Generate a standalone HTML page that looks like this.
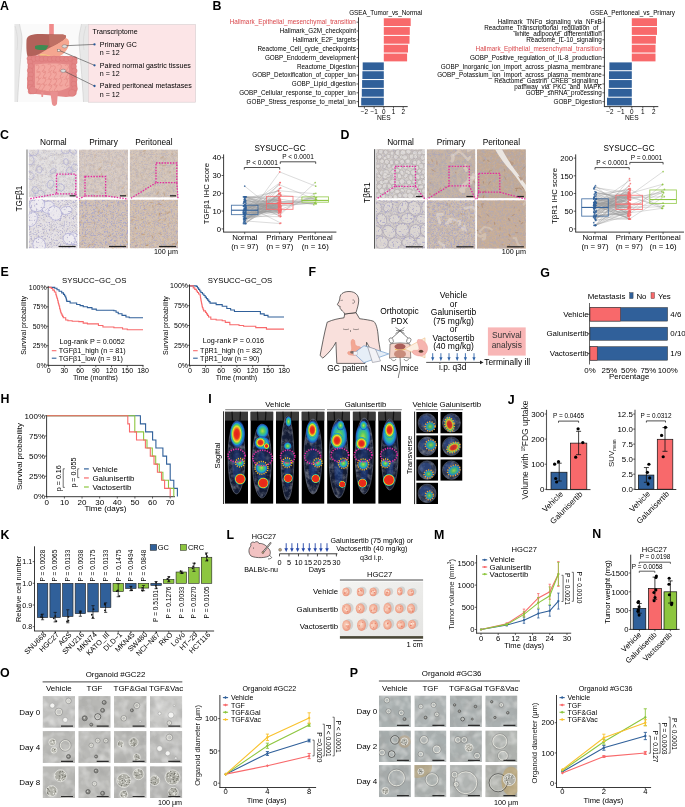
<!DOCTYPE html><html><head><meta charset="utf-8"><style>html,body{margin:0;padding:0;background:#fff;width:685px;height:807px;overflow:hidden}svg{display:block;font-family:"Liberation Sans",sans-serif;filter:blur(0.3px)}</style></head><body><svg width="685" height="807" viewBox="0 0 685 807" font-family="Liberation Sans, sans-serif"><defs>
<filter id="noise" x="0" y="0" width="1" height="1"><feTurbulence type="fractalNoise" baseFrequency="0.6" numOctaves="2" seed="3"/><feColorMatrix type="matrix" values="0 0 0 0 0.45  0 0 0 0 0.4  0 0 0 0 0.5  0 0 0 0.55 0"/><feComposite in2="SourceGraphic" operator="in"/></filter>
<filter id="spkP" x="0" y="0" width="1" height="1"><feTurbulence type="fractalNoise" baseFrequency="0.9" numOctaves="1" seed="11"/><feColorMatrix type="matrix" values="0 0 0 0 0.36  0 0 0 0 0.36  0 0 0 0 0.58  7 0 0 0 -3.9"/><feComposite in2="SourceGraphic" operator="in"/></filter>
<filter id="spkB" x="0" y="0" width="1" height="1"><feTurbulence type="fractalNoise" baseFrequency="0.45" numOctaves="2" seed="4"/><feColorMatrix type="matrix" values="0 0 0 0 0.62  0 0 0 0 0.45  0 0 0 0 0.32  0 5 0 0 -2.4"/><feComposite in2="SourceGraphic" operator="in"/></filter>
<filter id="spkG" x="0" y="0" width="1" height="1"><feTurbulence type="fractalNoise" baseFrequency="0.28" numOctaves="3" seed="8"/><feColorMatrix type="matrix" values="0 0 0 0 0.45  0 0 0 0 0.4  0 0 0 0 0.42  0 0 3.5 0 -1.5"/><feComposite in2="SourceGraphic" operator="in"/></filter>
<filter id="mot" x="0" y="0" width="1" height="1"><feTurbulence type="fractalNoise" baseFrequency="0.16" numOctaves="3" seed="2"/><feColorMatrix type="matrix" values="0 0 0 0 0.3  0 0 0 0 0.3  0 0 0 0 0.3  2.4 0 0 0 -1.0"/><feComposite in2="SourceGraphic" operator="in"/></filter>
<filter id="motL" x="0" y="0" width="1" height="1"><feTurbulence type="fractalNoise" baseFrequency="0.2" numOctaves="3" seed="9"/><feColorMatrix type="matrix" values="0 0 0 0 1  0 0 0 0 1  0 0 0 0 1  0 2.4 0 0 -1.0"/><feComposite in2="SourceGraphic" operator="in"/></filter>
<filter id="grain" x="0" y="0" width="1" height="1"><feTurbulence type="fractalNoise" baseFrequency="0.8" numOctaves="1" seed="5"/><feColorMatrix type="matrix" values="0 0 0 0 0.2  0 0 0 0 0.2  0 0 0 0 0.2  0 0 4 0 -1.8"/><feComposite in2="SourceGraphic" operator="in"/></filter>
<filter id="nuc" x="0" y="0" width="1" height="1"><feTurbulence type="fractalNoise" baseFrequency="0.55" numOctaves="1" seed="21"/><feColorMatrix type="matrix" values="0 0 0 0 0.4  0 0 0 0 0.38  0 0 0 0 0.6  9 0 0 0 -5.3"/><feComposite in2="SourceGraphic" operator="in"/></filter>
<filter id="motS" x="0" y="0" width="1" height="1"><feTurbulence type="fractalNoise" baseFrequency="0.09" numOctaves="2" seed="12"/><feColorMatrix type="matrix" values="0 0 0 0 0.35  0 0 0 0 0.35  0 0 0 0 0.34  2.6 0 0 0 -1.1"/><feComposite in2="SourceGraphic" operator="in"/></filter>
<filter id="motSL" x="0" y="0" width="1" height="1"><feTurbulence type="fractalNoise" baseFrequency="0.11" numOctaves="2" seed="17"/><feColorMatrix type="matrix" values="0 0 0 0 0.95  0 0 0 0 0.95  0 0 0 0 0.94  0 2.6 0 0 -1.1"/><feComposite in2="SourceGraphic" operator="in"/></filter>
<radialGradient id="gRed"><stop offset="0" stop-color="#ff2a10"/><stop offset="0.55" stop-color="#f23a1a"/><stop offset="0.8" stop-color="#f5d020"/><stop offset="1" stop-color="#30c060" stop-opacity="0"/></radialGradient>
<radialGradient id="gHot"><stop offset="0" stop-color="#e0201a"/><stop offset="0.38" stop-color="#e8301c"/><stop offset="0.52" stop-color="#f08a20"/><stop offset="0.64" stop-color="#e8e030"/><stop offset="0.78" stop-color="#50c860"/><stop offset="0.9" stop-color="#20a0d0"/><stop offset="1" stop-color="#2040b0" stop-opacity="0"/></radialGradient>
<radialGradient id="gGreen"><stop offset="0" stop-color="#b8e040"/><stop offset="0.35" stop-color="#50c868"/><stop offset="0.65" stop-color="#20a8c8"/><stop offset="0.85" stop-color="#2060c0"/><stop offset="1" stop-color="#1840a0" stop-opacity="0"/></radialGradient>
<radialGradient id="gBlue"><stop offset="0" stop-color="#3070d0"/><stop offset="0.7" stop-color="#1c3c90"/><stop offset="1" stop-color="#101840" stop-opacity="0"/></radialGradient>
<radialGradient id="gHead"><stop offset="0" stop-color="#e0261a"/><stop offset="0.5" stop-color="#ea3a1c"/><stop offset="0.68" stop-color="#f2b020"/><stop offset="0.8" stop-color="#a8e040"/><stop offset="0.9" stop-color="#20b0c0"/><stop offset="1" stop-color="#2040b0" stop-opacity="0"/></radialGradient>
<radialGradient id="gBlad"><stop offset="0" stop-color="#e8261a"/><stop offset="0.68" stop-color="#e8301a"/><stop offset="0.78" stop-color="#e8c020"/><stop offset="0.86" stop-color="#40c090"/><stop offset="1" stop-color="#2050b0" stop-opacity="0"/></radialGradient>
<radialGradient id="gTum" cx="0.45" cy="0.45"><stop offset="0" stop-color="#fad8c6"/><stop offset="0.55" stop-color="#f5bba4"/><stop offset="1" stop-color="#eb9a82"/></radialGradient>
<linearGradient id="gPhoto" x1="0" y1="0" x2="1" y2="1"><stop offset="0" stop-color="#f4f4f2"/><stop offset="1" stop-color="#e4e4e2"/></linearGradient>
<clipPath id="c1"><rect x="28.70" y="149.40" width="48.90" height="48.20"/></clipPath><clipPath id="c2"><rect x="79.00" y="149.40" width="49.00" height="48.20"/></clipPath><clipPath id="c3"><rect x="129.70" y="149.40" width="48.30" height="48.20"/></clipPath><clipPath id="c4"><rect x="28.70" y="199.60" width="48.90" height="48.80"/></clipPath><clipPath id="c5"><rect x="79.00" y="199.60" width="49.00" height="48.80"/></clipPath><clipPath id="c6"><rect x="129.70" y="199.60" width="48.30" height="48.80"/></clipPath><clipPath id="c7"><rect x="376.00" y="149.20" width="48.90" height="49.10"/></clipPath><clipPath id="c8"><rect x="426.80" y="149.20" width="48.60" height="49.10"/></clipPath><clipPath id="c9"><rect x="476.80" y="149.20" width="49.10" height="49.10"/></clipPath><clipPath id="c10"><rect x="376.00" y="200.20" width="48.90" height="48.50"/></clipPath><clipPath id="c11"><rect x="426.80" y="200.20" width="48.60" height="48.50"/></clipPath><clipPath id="c12"><rect x="476.80" y="200.20" width="49.10" height="48.50"/></clipPath><clipPath id="c13"><rect x="426.80" y="149.20" width="48.60" height="49.10"/></clipPath><clipPath id="c14"><rect x="426.80" y="200.20" width="48.60" height="48.50"/></clipPath><clipPath id="c15"><rect x="476.80" y="200.20" width="49.10" height="48.50"/></clipPath><clipPath id="c16"><rect x="225.00" y="411.60" width="23.00" height="92.20"/></clipPath><clipPath id="c17"><rect x="250.40" y="411.60" width="23.00" height="92.20"/></clipPath><clipPath id="c18"><rect x="275.90" y="411.60" width="23.00" height="92.20"/></clipPath><clipPath id="c19"><rect x="301.50" y="411.60" width="23.00" height="92.20"/></clipPath><clipPath id="c20"><rect x="327.10" y="411.60" width="23.00" height="92.20"/></clipPath><clipPath id="c21"><rect x="352.70" y="411.60" width="23.00" height="92.20"/></clipPath><clipPath id="c22"><rect x="378.20" y="411.60" width="23.00" height="92.20"/></clipPath><clipPath id="c23"><rect x="416.20" y="411.90" width="21.80" height="21.70"/></clipPath><clipPath id="c24"><rect x="416.20" y="435.20" width="21.80" height="22.20"/></clipPath><clipPath id="c25"><rect x="416.20" y="459.30" width="21.80" height="21.50"/></clipPath><clipPath id="c26"><rect x="416.20" y="482.60" width="21.80" height="21.50"/></clipPath><clipPath id="c27"><rect x="440.30" y="411.90" width="22.20" height="21.70"/></clipPath><clipPath id="c28"><rect x="440.30" y="435.20" width="22.20" height="22.20"/></clipPath><clipPath id="c29"><rect x="440.30" y="459.30" width="22.20" height="21.50"/></clipPath><clipPath id="c30"><rect x="42.60" y="696.10" width="32.40" height="31.70"/></clipPath><clipPath id="c31"><rect x="78.30" y="696.10" width="32.40" height="31.70"/></clipPath><clipPath id="c32"><rect x="114.00" y="696.10" width="32.60" height="31.70"/></clipPath><clipPath id="c33"><rect x="149.90" y="696.10" width="32.40" height="31.70"/></clipPath><clipPath id="c34"><rect x="42.60" y="731.10" width="32.40" height="31.80"/></clipPath><clipPath id="c35"><rect x="78.30" y="731.10" width="32.40" height="31.80"/></clipPath><clipPath id="c36"><rect x="114.00" y="731.10" width="32.60" height="31.80"/></clipPath><clipPath id="c37"><rect x="149.90" y="731.10" width="32.40" height="31.80"/></clipPath><clipPath id="c38"><rect x="42.60" y="766.20" width="32.40" height="31.90"/></clipPath><clipPath id="c39"><rect x="78.30" y="766.20" width="32.40" height="31.90"/></clipPath><clipPath id="c40"><rect x="114.00" y="766.20" width="32.60" height="31.90"/></clipPath><clipPath id="c41"><rect x="149.90" y="766.20" width="32.40" height="31.90"/></clipPath><clipPath id="c42"><rect x="378.90" y="695.50" width="32.00" height="31.50"/></clipPath><clipPath id="c43"><rect x="414.40" y="695.50" width="32.00" height="31.50"/></clipPath><clipPath id="c44"><rect x="449.80" y="695.50" width="32.10" height="31.50"/></clipPath><clipPath id="c45"><rect x="485.30" y="695.50" width="32.10" height="31.50"/></clipPath><clipPath id="c46"><rect x="378.90" y="730.40" width="32.00" height="31.60"/></clipPath><clipPath id="c47"><rect x="414.40" y="730.40" width="32.00" height="31.60"/></clipPath><clipPath id="c48"><rect x="449.80" y="730.40" width="32.10" height="31.60"/></clipPath><clipPath id="c49"><rect x="485.30" y="730.40" width="32.10" height="31.60"/></clipPath><clipPath id="c50"><rect x="378.90" y="765.10" width="32.00" height="32.10"/></clipPath><clipPath id="c51"><rect x="414.40" y="765.10" width="32.00" height="32.10"/></clipPath><clipPath id="c52"><rect x="449.80" y="765.10" width="32.10" height="32.10"/></clipPath><clipPath id="c53"><rect x="485.30" y="765.10" width="32.10" height="32.10"/></clipPath></defs><text x="0.00" y="9.80" font-size="12.4" fill="#000" font-weight="bold">A</text>
<path d="M14.5,24 L88,24 L88,102 L14.5,102 Z" fill="#fafafa"/>
<path d="M14.5,24 L19.5,24 C20.5,30 22.5,35 22,42 C21,55 19,75 17.5,102 L14.5,102 Z" fill="#e8e8e8"/>
<path d="M19.5,24 C20.5,30 22.5,35 22,42 C21,55 19,75 17.5,102" fill="none" stroke="#c4c4c4" stroke-width="0.5"/>
<path d="M15,26 C17,33 18.5,40 17,50" fill="none" stroke="#d0d0d0" stroke-width="0.5"/>
<path d="M88,24 L81.5,24 C80.5,30 78.5,35 79,42 C80,55 82,75 83.5,102 L88,102 Z" fill="#e8e8e8"/>
<path d="M81.5,24 C80.5,30 78.5,35 79,42 C80,55 82,75 83.5,102" fill="none" stroke="#c4c4c4" stroke-width="0.5"/>
<path d="M86,26 C84,33 82.5,40 84,50" fill="none" stroke="#d0d0d0" stroke-width="0.5"/>
<rect x="49.20" y="24.00" width="4.60" height="12.00" fill="#f08a8a"/>
<path d="M45,46 C52,44 58,41 62,38 C66,37 70,39 69,44 C68,50 63,56 55,58 C48,59.5 42,59 38,57 C37,53 40,49 45,46 Z" fill="#f5a690"/>
<path d="M26.5,40 C27,35 33,33.8 42,34 L60,34.5 C64,34.5 66.5,35 66,37 C64,40 59,43 52,46.5 C46,50 38,55 30,59 C27,58 26,52 26.5,40 Z" fill="#b2625a"/>
<path d="M49,35 L60,34.5 C64,34.5 66.5,35 66,37 C64,40 59,43 52,46.5 L49.5,46 Z" fill="#bf7064"/>
<path d="M35,46 C38,44.6 44,44.8 48.5,45.5 L46,49.8 C42,50.2 37,50 35,48.5 Z" fill="#3d8c52"/>
<path d="M40,54.5 C44,53.8 49,54.5 52,57 L50,59.5 C46,59.5 42,58.5 40,56.5 Z" fill="#f7d27c"/>
<path d="M28,58 C30,55 40,55.5 50,56 C60,56.5 72,55 75.5,58 L77.5,90 C76,94 72,97 66,97 L36,94 C30,94 27.5,91 27,86 Z" fill="#e38686"/>
<circle cx="29.50" cy="58.60" r="2.60" fill="#e38686" stroke="#d57272" stroke-width="0.35"/>
<circle cx="33.60" cy="59.20" r="2.60" fill="#e38686" stroke="#d57272" stroke-width="0.35"/>
<circle cx="37.70" cy="58.60" r="2.60" fill="#e38686" stroke="#d57272" stroke-width="0.35"/>
<circle cx="41.80" cy="59.20" r="2.60" fill="#e38686" stroke="#d57272" stroke-width="0.35"/>
<circle cx="45.90" cy="58.60" r="2.60" fill="#e38686" stroke="#d57272" stroke-width="0.35"/>
<circle cx="50.00" cy="59.20" r="2.60" fill="#e38686" stroke="#d57272" stroke-width="0.35"/>
<circle cx="54.10" cy="58.60" r="2.60" fill="#e38686" stroke="#d57272" stroke-width="0.35"/>
<circle cx="58.20" cy="59.20" r="2.60" fill="#e38686" stroke="#d57272" stroke-width="0.35"/>
<circle cx="62.30" cy="58.60" r="2.60" fill="#e38686" stroke="#d57272" stroke-width="0.35"/>
<circle cx="66.40" cy="59.20" r="2.60" fill="#e38686" stroke="#d57272" stroke-width="0.35"/>
<circle cx="70.50" cy="58.60" r="2.60" fill="#e38686" stroke="#d57272" stroke-width="0.35"/>
<circle cx="74.60" cy="59.20" r="2.60" fill="#e38686" stroke="#d57272" stroke-width="0.35"/>
<circle cx="30.00" cy="62.00" r="2.70" fill="#e38686" stroke="#d57272" stroke-width="0.35"/>
<circle cx="74.50" cy="62.00" r="2.70" fill="#e38686" stroke="#d57272" stroke-width="0.35"/>
<circle cx="30.80" cy="66.20" r="2.70" fill="#e38686" stroke="#d57272" stroke-width="0.35"/>
<circle cx="73.70" cy="66.40" r="2.70" fill="#e38686" stroke="#d57272" stroke-width="0.35"/>
<circle cx="30.00" cy="70.40" r="2.70" fill="#e38686" stroke="#d57272" stroke-width="0.35"/>
<circle cx="74.50" cy="70.80" r="2.70" fill="#e38686" stroke="#d57272" stroke-width="0.35"/>
<circle cx="30.80" cy="74.60" r="2.70" fill="#e38686" stroke="#d57272" stroke-width="0.35"/>
<circle cx="73.70" cy="75.20" r="2.70" fill="#e38686" stroke="#d57272" stroke-width="0.35"/>
<circle cx="30.00" cy="78.80" r="2.70" fill="#e38686" stroke="#d57272" stroke-width="0.35"/>
<circle cx="74.50" cy="79.60" r="2.70" fill="#e38686" stroke="#d57272" stroke-width="0.35"/>
<circle cx="30.80" cy="83.00" r="2.70" fill="#e38686" stroke="#d57272" stroke-width="0.35"/>
<circle cx="73.70" cy="84.00" r="2.70" fill="#e38686" stroke="#d57272" stroke-width="0.35"/>
<circle cx="30.00" cy="87.20" r="2.70" fill="#e38686" stroke="#d57272" stroke-width="0.35"/>
<circle cx="74.50" cy="88.40" r="2.70" fill="#e38686" stroke="#d57272" stroke-width="0.35"/>
<circle cx="30.80" cy="91.40" r="2.70" fill="#e38686" stroke="#d57272" stroke-width="0.35"/>
<circle cx="73.70" cy="92.80" r="2.70" fill="#e38686" stroke="#d57272" stroke-width="0.35"/>
<circle cx="33.00" cy="90.00" r="4.00" fill="#e38686" stroke="#d57272" stroke-width="0.35"/>
<circle cx="72.00" cy="93.00" r="3.50" fill="#e38686" stroke="#d57272" stroke-width="0.35"/>
<path d="M35,64.5 C45,63 58,63 69,64.5 L69.5,87 C62,92 46,93 35,88 Z" fill="#f3a7a0"/>
<path d="M35.5,66.1 c1.5,-2 3.5,-1 3.5,1 c0,2 -2.5,2.5 -2,4.5 c0.5,1.5 2.5,1 3,-0.5" fill="none" stroke="#e48c86" stroke-width="0.8"/>
<path d="M41.3,66.2 c1.5,-2 3.5,-1 3.5,1 c0,2 -2.5,2.5 -2,4.5 c0.5,1.5 2.5,1 3,-0.5" fill="none" stroke="#e48c86" stroke-width="0.8"/>
<path d="M47.5,65.1 c1.5,-2 3.5,-1 3.5,1 c0,2 -2.5,2.5 -2,4.5 c0.5,1.5 2.5,1 3,-0.5" fill="none" stroke="#e48c86" stroke-width="0.8"/>
<path d="M51.8,66.7 c1.5,-2 3.5,-1 3.5,1 c0,2 -2.5,2.5 -2,4.5 c0.5,1.5 2.5,1 3,-0.5" fill="none" stroke="#e48c86" stroke-width="0.8"/>
<path d="M57.9,65.5 c1.5,-2 3.5,-1 3.5,1 c0,2 -2.5,2.5 -2,4.5 c0.5,1.5 2.5,1 3,-0.5" fill="none" stroke="#e48c86" stroke-width="0.8"/>
<path d="M65.0,65.9 c1.5,-2 3.5,-1 3.5,1 c0,2 -2.5,2.5 -2,4.5 c0.5,1.5 2.5,1 3,-0.5" fill="none" stroke="#e48c86" stroke-width="0.8"/>
<path d="M36.7,72.5 c1.5,-2 3.5,-1 3.5,1 c0,2 -2.5,2.5 -2,4.5 c0.5,1.5 2.5,1 3,-0.5" fill="none" stroke="#e48c86" stroke-width="0.8"/>
<path d="M41.9,71.8 c1.5,-2 3.5,-1 3.5,1 c0,2 -2.5,2.5 -2,4.5 c0.5,1.5 2.5,1 3,-0.5" fill="none" stroke="#e48c86" stroke-width="0.8"/>
<path d="M47.5,73.2 c1.5,-2 3.5,-1 3.5,1 c0,2 -2.5,2.5 -2,4.5 c0.5,1.5 2.5,1 3,-0.5" fill="none" stroke="#e48c86" stroke-width="0.8"/>
<path d="M52.8,73.0 c1.5,-2 3.5,-1 3.5,1 c0,2 -2.5,2.5 -2,4.5 c0.5,1.5 2.5,1 3,-0.5" fill="none" stroke="#e48c86" stroke-width="0.8"/>
<path d="M58.7,71.6 c1.5,-2 3.5,-1 3.5,1 c0,2 -2.5,2.5 -2,4.5 c0.5,1.5 2.5,1 3,-0.5" fill="none" stroke="#e48c86" stroke-width="0.8"/>
<path d="M64.5,72.7 c1.5,-2 3.5,-1 3.5,1 c0,2 -2.5,2.5 -2,4.5 c0.5,1.5 2.5,1 3,-0.5" fill="none" stroke="#e48c86" stroke-width="0.8"/>
<path d="M35.6,78.1 c1.5,-2 3.5,-1 3.5,1 c0,2 -2.5,2.5 -2,4.5 c0.5,1.5 2.5,1 3,-0.5" fill="none" stroke="#e48c86" stroke-width="0.8"/>
<path d="M42.3,78.9 c1.5,-2 3.5,-1 3.5,1 c0,2 -2.5,2.5 -2,4.5 c0.5,1.5 2.5,1 3,-0.5" fill="none" stroke="#e48c86" stroke-width="0.8"/>
<path d="M47.6,79.8 c1.5,-2 3.5,-1 3.5,1 c0,2 -2.5,2.5 -2,4.5 c0.5,1.5 2.5,1 3,-0.5" fill="none" stroke="#e48c86" stroke-width="0.8"/>
<path d="M53.2,79.8 c1.5,-2 3.5,-1 3.5,1 c0,2 -2.5,2.5 -2,4.5 c0.5,1.5 2.5,1 3,-0.5" fill="none" stroke="#e48c86" stroke-width="0.8"/>
<path d="M58.2,79.6 c1.5,-2 3.5,-1 3.5,1 c0,2 -2.5,2.5 -2,4.5 c0.5,1.5 2.5,1 3,-0.5" fill="none" stroke="#e48c86" stroke-width="0.8"/>
<path d="M63.9,79.9 c1.5,-2 3.5,-1 3.5,1 c0,2 -2.5,2.5 -2,4.5 c0.5,1.5 2.5,1 3,-0.5" fill="none" stroke="#e48c86" stroke-width="0.8"/>
<path d="M36.8,84.7 c1.5,-2 3.5,-1 3.5,1 c0,2 -2.5,2.5 -2,4.5 c0.5,1.5 2.5,1 3,-0.5" fill="none" stroke="#e48c86" stroke-width="0.8"/>
<path d="M40.9,84.9 c1.5,-2 3.5,-1 3.5,1 c0,2 -2.5,2.5 -2,4.5 c0.5,1.5 2.5,1 3,-0.5" fill="none" stroke="#e48c86" stroke-width="0.8"/>
<path d="M48.1,85.4 c1.5,-2 3.5,-1 3.5,1 c0,2 -2.5,2.5 -2,4.5 c0.5,1.5 2.5,1 3,-0.5" fill="none" stroke="#e48c86" stroke-width="0.8"/>
<path d="M53.1,85.1 c1.5,-2 3.5,-1 3.5,1 c0,2 -2.5,2.5 -2,4.5 c0.5,1.5 2.5,1 3,-0.5" fill="none" stroke="#e48c86" stroke-width="0.8"/>
<path d="M50.3,92 L57.9,92 L57,104 C55.5,106.5 53,106.5 52,104 Z" fill="#e99090"/>
<path d="M41,92 L43.5,92 L43,97 L41.5,97 Z" fill="#e99090"/>
<rect x="88.40" y="24.50" width="107.20" height="77.70" fill="#fce5e7" stroke="#d6cdcf" stroke-width="0.6"/>
<line x1="66.00" y1="45.70" x2="94.50" y2="44.40" stroke="#444" stroke-width="0.6"/>
<line x1="59.00" y1="50.30" x2="94.50" y2="65.30" stroke="#444" stroke-width="0.6"/>
<line x1="64.00" y1="71.00" x2="94.50" y2="86.00" stroke="#444" stroke-width="0.6"/>
<circle cx="94.50" cy="44.40" r="1.15" fill="#2a5a9a"/>
<circle cx="94.50" cy="65.30" r="1.15" fill="#2a5a9a"/>
<circle cx="94.50" cy="86.00" r="1.15" fill="#2a5a9a"/>
<ellipse cx="64.6" cy="46.3" rx="2.6" ry="1.6" fill="#ddd" stroke="#666" stroke-width="0.4"/>
<rect x="57.70" y="49.20" width="2.30" height="2.10" fill="#eee" stroke="#666" stroke-width="0.4"/>
<ellipse cx="63.2" cy="70.8" rx="2.6" ry="1.6" fill="#ddd" stroke="#666" stroke-width="0.4"/>
<text x="92.60" y="34.30" font-size="7.1">Transcriptome</text>
<text x="99.80" y="46.90" font-size="7.1">Primary GC</text>
<text x="99.80" y="55.30" font-size="7.1">n = 12</text>
<text x="99.80" y="67.60" font-size="7.1">Paired normal gastric tissues</text>
<text x="99.80" y="76.00" font-size="7.1">n = 12</text>
<text x="99.80" y="88.30" font-size="7.1">Paired peritoneal metastases</text>
<text x="99.80" y="96.70" font-size="7.1">n = 12</text>
<text x="212.60" y="9.80" font-size="12.4" fill="#000" font-weight="bold">B</text>
<rect x="383.80" y="18.25" width="26.90" height="7.80" fill="#f8696b"/>
<rect x="383.80" y="27.08" width="26.00" height="7.80" fill="#f8696b"/>
<rect x="383.80" y="35.91" width="25.70" height="7.80" fill="#f8696b"/>
<rect x="383.80" y="44.74" width="24.20" height="7.80" fill="#f8696b"/>
<rect x="383.80" y="53.57" width="23.30" height="7.80" fill="#f8696b"/>
<rect x="362.70" y="62.40" width="21.10" height="7.80" fill="#30609a"/>
<rect x="362.40" y="71.23" width="21.40" height="7.80" fill="#30609a"/>
<rect x="362.10" y="80.06" width="21.70" height="7.80" fill="#30609a"/>
<rect x="361.80" y="88.89" width="22.00" height="7.80" fill="#30609a"/>
<rect x="361.20" y="97.72" width="22.60" height="7.80" fill="#30609a"/>
<line x1="358.50" y1="17.30" x2="358.50" y2="106.60" stroke="#222" stroke-width="0.9"/>
<line x1="358.05" y1="106.60" x2="407.70" y2="106.60" stroke="#222" stroke-width="0.9"/>
<line x1="356.50" y1="22.15" x2="358.50" y2="22.15" stroke="#222" stroke-width="0.7"/>
<line x1="356.50" y1="30.98" x2="358.50" y2="30.98" stroke="#222" stroke-width="0.7"/>
<line x1="356.50" y1="39.81" x2="358.50" y2="39.81" stroke="#222" stroke-width="0.7"/>
<line x1="356.50" y1="48.64" x2="358.50" y2="48.64" stroke="#222" stroke-width="0.7"/>
<line x1="356.50" y1="57.47" x2="358.50" y2="57.47" stroke="#222" stroke-width="0.7"/>
<line x1="356.50" y1="66.30" x2="358.50" y2="66.30" stroke="#222" stroke-width="0.7"/>
<line x1="356.50" y1="75.13" x2="358.50" y2="75.13" stroke="#222" stroke-width="0.7"/>
<line x1="356.50" y1="83.96" x2="358.50" y2="83.96" stroke="#222" stroke-width="0.7"/>
<line x1="356.50" y1="92.79" x2="358.50" y2="92.79" stroke="#222" stroke-width="0.7"/>
<line x1="356.50" y1="101.62" x2="358.50" y2="101.62" stroke="#222" stroke-width="0.7"/>
<line x1="364.40" y1="106.60" x2="364.40" y2="108.60" stroke="#222" stroke-width="0.7"/>
<text x="364.40" y="114.30" font-size="6.35" text-anchor="middle">−2</text>
<line x1="374.10" y1="106.60" x2="374.10" y2="108.60" stroke="#222" stroke-width="0.7"/>
<text x="374.10" y="114.30" font-size="6.35" text-anchor="middle">−1</text>
<line x1="383.80" y1="106.60" x2="383.80" y2="108.60" stroke="#222" stroke-width="0.7"/>
<text x="383.80" y="114.30" font-size="6.35" text-anchor="middle">0</text>
<line x1="393.50" y1="106.60" x2="393.50" y2="108.60" stroke="#222" stroke-width="0.7"/>
<text x="393.50" y="114.30" font-size="6.35" text-anchor="middle">1</text>
<line x1="403.20" y1="106.60" x2="403.20" y2="108.60" stroke="#222" stroke-width="0.7"/>
<text x="403.20" y="114.30" font-size="6.35" text-anchor="middle">2</text>
<text x="383.80" y="120.20" font-size="6.6499999999999995" text-anchor="middle">NES</text>
<text x="385.70" y="14.70" font-size="6.35" text-anchor="middle">GSEA_Tumor_vs_Normal</text>
<text x="355.90" y="24.40" font-size="6.35" text-anchor="end" fill="#d9474b">Hallmark_Epithelial_mesenchymal_transition</text>
<text x="355.90" y="33.23" font-size="6.35" text-anchor="end">Hallmark_G2M_checkpoint</text>
<text x="355.90" y="42.06" font-size="6.35" text-anchor="end">Hallmark_E2F_targets</text>
<text x="355.90" y="50.89" font-size="6.35" text-anchor="end">Reactome_Cell_cycle_checkpoints</text>
<text x="355.90" y="59.72" font-size="6.35" text-anchor="end">GOBP_Endoderm_development</text>
<text x="355.90" y="68.55" font-size="6.35" text-anchor="end">Reactome_Digestion</text>
<text x="355.90" y="77.38" font-size="6.35" text-anchor="end">GOBP_Detoxification_of_copper_ion</text>
<text x="355.90" y="86.21" font-size="6.35" text-anchor="end">GOBP_Lipid_digestion</text>
<text x="355.90" y="95.04" font-size="6.35" text-anchor="end">GOBP_Cellular_response_to_copper_ion</text>
<text x="355.90" y="103.87" font-size="6.35" text-anchor="end">GOBP_Stress_response_to_metal_ion</text>
<rect x="631.80" y="18.25" width="25.20" height="7.80" fill="#f8696b"/>
<rect x="631.80" y="27.08" width="25.20" height="7.80" fill="#f8696b"/>
<rect x="631.80" y="35.91" width="24.10" height="7.80" fill="#f8696b"/>
<rect x="631.80" y="44.74" width="23.70" height="7.80" fill="#f8696b"/>
<rect x="631.80" y="53.57" width="23.70" height="7.80" fill="#f8696b"/>
<rect x="609.40" y="62.40" width="22.40" height="7.80" fill="#30609a"/>
<rect x="609.00" y="71.23" width="22.80" height="7.80" fill="#30609a"/>
<rect x="608.90" y="80.06" width="22.90" height="7.80" fill="#30609a"/>
<rect x="608.30" y="88.89" width="23.50" height="7.80" fill="#30609a"/>
<rect x="607.00" y="97.72" width="24.80" height="7.80" fill="#30609a"/>
<line x1="604.40" y1="17.30" x2="604.40" y2="106.60" stroke="#222" stroke-width="0.9"/>
<line x1="603.95" y1="106.60" x2="658.30" y2="106.60" stroke="#222" stroke-width="0.9"/>
<line x1="602.40" y1="22.15" x2="604.40" y2="22.15" stroke="#222" stroke-width="0.7"/>
<line x1="602.40" y1="30.98" x2="604.40" y2="30.98" stroke="#222" stroke-width="0.7"/>
<line x1="602.40" y1="39.81" x2="604.40" y2="39.81" stroke="#222" stroke-width="0.7"/>
<line x1="602.40" y1="48.64" x2="604.40" y2="48.64" stroke="#222" stroke-width="0.7"/>
<line x1="602.40" y1="57.47" x2="604.40" y2="57.47" stroke="#222" stroke-width="0.7"/>
<line x1="602.40" y1="66.30" x2="604.40" y2="66.30" stroke="#222" stroke-width="0.7"/>
<line x1="602.40" y1="75.13" x2="604.40" y2="75.13" stroke="#222" stroke-width="0.7"/>
<line x1="602.40" y1="83.96" x2="604.40" y2="83.96" stroke="#222" stroke-width="0.7"/>
<line x1="602.40" y1="92.79" x2="604.40" y2="92.79" stroke="#222" stroke-width="0.7"/>
<line x1="602.40" y1="101.62" x2="604.40" y2="101.62" stroke="#222" stroke-width="0.7"/>
<line x1="609.80" y1="106.60" x2="609.80" y2="108.60" stroke="#222" stroke-width="0.7"/>
<text x="609.80" y="114.30" font-size="6.35" text-anchor="middle">−2</text>
<line x1="620.80" y1="106.60" x2="620.80" y2="108.60" stroke="#222" stroke-width="0.7"/>
<text x="620.80" y="114.30" font-size="6.35" text-anchor="middle">−1</text>
<line x1="631.80" y1="106.60" x2="631.80" y2="108.60" stroke="#222" stroke-width="0.7"/>
<text x="631.80" y="114.30" font-size="6.35" text-anchor="middle">0</text>
<line x1="642.80" y1="106.60" x2="642.80" y2="108.60" stroke="#222" stroke-width="0.7"/>
<text x="642.80" y="114.30" font-size="6.35" text-anchor="middle">1</text>
<line x1="653.80" y1="106.60" x2="653.80" y2="108.60" stroke="#222" stroke-width="0.7"/>
<text x="653.80" y="114.30" font-size="6.35" text-anchor="middle">2</text>
<text x="631.80" y="120.20" font-size="6.6499999999999995" text-anchor="middle">NES</text>
<text x="675.00" y="14.70" font-size="6.35" text-anchor="end">GSEA_Peritoneal_vs_Primary</text>
<text x="601.80" y="24.40" font-size="6.35" text-anchor="end">Hallmark_TNFα_signaling_via_NFκB</text>
<text x="601.80" y="30.13" font-size="6.35" text-anchor="end">Reactome_Transcriptional_regulation_of_</text>
<text x="601.80" y="35.78" font-size="6.35" text-anchor="end">white_adipocyte_differentiation</text>
<text x="601.80" y="42.06" font-size="6.35" text-anchor="end">Reactome_IL-10_signaling</text>
<text x="601.80" y="50.89" font-size="6.35" text-anchor="end" fill="#d9474b">Hallmark_Epithelial_mesenchymal_transition</text>
<text x="601.80" y="59.72" font-size="6.35" text-anchor="end">GOBP_Positive_regulation_of_IL-8_production</text>
<text x="601.80" y="68.55" font-size="6.35" text-anchor="end">GOBP_Inorganic_ion_import_across_plasma_membrane</text>
<text x="601.80" y="77.38" font-size="6.35" text-anchor="end">GOBP_Potassium_ion_import_across_plasma_membrane</text>
<text x="601.80" y="83.11" font-size="6.35" text-anchor="end">Reactome_Gastrin_CREB_signalling_</text>
<text x="601.80" y="88.76" font-size="6.35" text-anchor="end">pathway_via_PKC_and_MAPK</text>
<text x="601.80" y="95.04" font-size="6.35" text-anchor="end">GOBP_snRNA_processing</text>
<text x="601.80" y="103.87" font-size="6.35" text-anchor="end">GOBP_Digestion</text>
<text x="0.00" y="139.10" font-size="12.4" fill="#000" font-weight="bold">C</text>
<text x="53.30" y="144.70" font-size="8.3" text-anchor="middle">Normal</text>
<text x="103.50" y="144.70" font-size="8.3" text-anchor="middle">Primary</text>
<text x="153.90" y="144.70" font-size="8.3" text-anchor="middle">Peritoneal</text>
<line x1="27.00" y1="149.40" x2="27.00" y2="248.40" stroke="#888" stroke-width="1.2"/>
<text x="21.50" y="198.50" font-size="8.3" text-anchor="middle" transform="rotate(-90 21.50 198.50)">TGFβ1</text>
<g clip-path="url(#c1)">
<rect x="28.70" y="149.40" width="48.90" height="48.20" fill="#e3e0e0"/>
<rect x="28.70" y="149.40" width="48.90" height="48.20" fill="#000" filter="url(#spkG)" opacity="0.35"/>
<rect x="28.70" y="149.40" width="48.90" height="48.20" fill="#000" filter="url(#spkP)" opacity="0.3"/>
<ellipse cx="35.3" cy="190.2" rx="3.6" ry="3.0" fill="none" stroke="#aeacd4" stroke-width="0.8" opacity="0.8" transform="rotate(42 35.3 190.2)"/>
<ellipse cx="66.0" cy="161.7" rx="3.1" ry="2.3" fill="none" stroke="#aeacd4" stroke-width="0.8" opacity="0.8" transform="rotate(83 66.0 161.7)"/>
<ellipse cx="52.9" cy="171.1" rx="3.2" ry="2.1" fill="none" stroke="#aeacd4" stroke-width="0.8" opacity="0.8" transform="rotate(151 52.9 171.1)"/>
<ellipse cx="60.6" cy="187.4" rx="3.9" ry="3.5" fill="none" stroke="#aeacd4" stroke-width="0.8" opacity="0.8" transform="rotate(33 60.6 187.4)"/>
<ellipse cx="33.3" cy="150.8" rx="5.0" ry="5.0" fill="none" stroke="#aeacd4" stroke-width="0.8" opacity="0.8" transform="rotate(22 33.3 150.8)"/>
<ellipse cx="69.6" cy="170.3" rx="3.3" ry="3.1" fill="none" stroke="#aeacd4" stroke-width="0.8" opacity="0.8" transform="rotate(128 69.6 170.3)"/>
<ellipse cx="66.0" cy="149.5" rx="4.8" ry="4.0" fill="none" stroke="#aeacd4" stroke-width="0.8" opacity="0.8" transform="rotate(149 66.0 149.5)"/>
<ellipse cx="50.5" cy="184.2" rx="4.2" ry="3.2" fill="none" stroke="#aeacd4" stroke-width="0.8" opacity="0.8" transform="rotate(106 50.5 184.2)"/>
<ellipse cx="39.9" cy="195.0" rx="4.7" ry="4.7" fill="none" stroke="#aeacd4" stroke-width="0.8" opacity="0.8" transform="rotate(91 39.9 195.0)"/>
<ellipse cx="72.8" cy="150.9" rx="4.0" ry="2.6" fill="none" stroke="#aeacd4" stroke-width="0.8" opacity="0.8" transform="rotate(44 72.8 150.9)"/>
<ellipse cx="29.9" cy="175.5" rx="4.5" ry="3.7" fill="none" stroke="#aeacd4" stroke-width="0.8" opacity="0.8" transform="rotate(31 29.9 175.5)"/>
<ellipse cx="74.6" cy="167.8" rx="3.9" ry="3.6" fill="none" stroke="#aeacd4" stroke-width="0.8" opacity="0.8" transform="rotate(121 74.6 167.8)"/>
<ellipse cx="39.3" cy="169.7" rx="3.4" ry="2.8" fill="none" stroke="#aeacd4" stroke-width="0.8" opacity="0.8" transform="rotate(92 39.3 169.7)"/>
<ellipse cx="30.1" cy="160.1" rx="4.4" ry="3.8" fill="none" stroke="#aeacd4" stroke-width="0.8" opacity="0.8" transform="rotate(71 30.1 160.1)"/>
</g>
<g clip-path="url(#c2)">
<rect x="79.00" y="149.40" width="49.00" height="48.20" fill="#d9cdc5"/>
<rect x="79.00" y="149.40" width="49.00" height="48.20" fill="#000" filter="url(#spkG)" opacity="0.4"/>
<rect x="79.00" y="149.40" width="49.00" height="48.20" fill="#000" filter="url(#spkB)" opacity="0.25"/>
<rect x="79.00" y="149.40" width="49.00" height="48.20" fill="#000" filter="url(#spkP)" opacity="0.3"/>
<ellipse cx="125.8" cy="195.1" rx="1.1" ry="0.7" fill="#c8a888" opacity="0.57" transform="rotate(10 125.8 195.1)"/>
<ellipse cx="111.8" cy="164.3" rx="1.9" ry="0.6" fill="#c8a888" opacity="0.40" transform="rotate(109 111.8 164.3)"/>
<ellipse cx="100.1" cy="168.4" rx="2.5" ry="0.8" fill="#c8a888" opacity="0.51" transform="rotate(130 100.1 168.4)"/>
<ellipse cx="100.8" cy="162.3" rx="1.0" ry="0.6" fill="#c8a888" opacity="0.45" transform="rotate(6 100.8 162.3)"/>
<ellipse cx="97.6" cy="192.4" rx="1.8" ry="0.5" fill="#c8a888" opacity="0.36" transform="rotate(95 97.6 192.4)"/>
<ellipse cx="94.9" cy="156.0" rx="2.5" ry="0.7" fill="#c8a888" opacity="0.40" transform="rotate(92 94.9 156.0)"/>
<ellipse cx="122.8" cy="187.8" rx="2.4" ry="0.7" fill="#c8a888" opacity="0.59" transform="rotate(132 122.8 187.8)"/>
<ellipse cx="96.3" cy="196.7" rx="1.2" ry="0.7" fill="#c8a888" opacity="0.56" transform="rotate(173 96.3 196.7)"/>
<ellipse cx="101.6" cy="175.0" rx="2.4" ry="0.6" fill="#c8a888" opacity="0.60" transform="rotate(88 101.6 175.0)"/>
<ellipse cx="96.3" cy="192.0" rx="1.7" ry="0.6" fill="#c8a888" opacity="0.63" transform="rotate(162 96.3 192.0)"/>
</g>
<g clip-path="url(#c3)">
<rect x="129.70" y="149.40" width="48.30" height="48.20" fill="#d6c8bc"/>
<rect x="129.70" y="149.40" width="48.30" height="48.20" fill="#000" filter="url(#spkG)" opacity="0.4"/>
<rect x="129.70" y="149.40" width="48.30" height="48.20" fill="#000" filter="url(#spkB)" opacity="0.35"/>
<rect x="129.70" y="149.40" width="48.30" height="48.20" fill="#000" filter="url(#spkP)" opacity="0.35"/>
<ellipse cx="141.2" cy="175.6" rx="1.9" ry="0.7" fill="#c0a080" opacity="0.37" transform="rotate(67 141.2 175.6)"/>
<ellipse cx="130.3" cy="189.8" rx="1.4" ry="0.8" fill="#c0a080" opacity="0.49" transform="rotate(47 130.3 189.8)"/>
<ellipse cx="170.1" cy="172.4" rx="1.2" ry="0.7" fill="#c0a080" opacity="0.61" transform="rotate(115 170.1 172.4)"/>
<ellipse cx="155.0" cy="185.1" rx="1.1" ry="0.7" fill="#c0a080" opacity="0.53" transform="rotate(121 155.0 185.1)"/>
<ellipse cx="144.3" cy="150.9" rx="1.7" ry="0.7" fill="#c0a080" opacity="0.61" transform="rotate(156 144.3 150.9)"/>
<ellipse cx="164.2" cy="193.8" rx="2.2" ry="0.6" fill="#c0a080" opacity="0.63" transform="rotate(71 164.2 193.8)"/>
<ellipse cx="172.1" cy="154.1" rx="1.3" ry="0.8" fill="#c0a080" opacity="0.48" transform="rotate(24 172.1 154.1)"/>
<ellipse cx="160.0" cy="163.9" rx="1.6" ry="0.5" fill="#c0a080" opacity="0.53" transform="rotate(91 160.0 163.9)"/>
<ellipse cx="157.9" cy="193.0" rx="2.4" ry="0.7" fill="#c0a080" opacity="0.65" transform="rotate(123 157.9 193.0)"/>
<ellipse cx="162.1" cy="157.3" rx="2.4" ry="0.8" fill="#c0a080" opacity="0.52" transform="rotate(155 162.1 157.3)"/>
<ellipse cx="164.2" cy="159.6" rx="1.9" ry="0.5" fill="#c0a080" opacity="0.37" transform="rotate(150 164.2 159.6)"/>
<ellipse cx="170.9" cy="197.1" rx="2.2" ry="0.6" fill="#c0a080" opacity="0.40" transform="rotate(16 170.9 197.1)"/>
<ellipse cx="143.9" cy="186.5" rx="1.1" ry="0.6" fill="#c0a080" opacity="0.36" transform="rotate(157 143.9 186.5)"/>
<ellipse cx="164.4" cy="165.4" rx="2.5" ry="0.6" fill="#c0a080" opacity="0.65" transform="rotate(159 164.4 165.4)"/>
<ellipse cx="144.7" cy="153.1" rx="1.0" ry="0.5" fill="#c0a080" opacity="0.47" transform="rotate(108 144.7 153.1)"/>
</g>
<g clip-path="url(#c4)">
<rect x="28.70" y="199.60" width="48.90" height="48.80" fill="#e6e2e5"/>
<rect x="28.70" y="199.60" width="48.90" height="48.80" fill="#000" filter="url(#spkG)" opacity="0.25"/>
<rect x="28.70" y="199.60" width="48.90" height="48.80" fill="#000" filter="url(#spkP)" opacity="0.45"/>
<ellipse cx="40.2" cy="204.6" rx="7.2" ry="5.2" fill="#efedf2" stroke="#aeacd8" stroke-width="0.8" opacity="0.8" transform="rotate(56 40.2 204.6)"/>
<ellipse cx="48.1" cy="207.2" rx="6.5" ry="6.1" fill="#efedf2" stroke="#aeacd8" stroke-width="0.8" opacity="0.8" transform="rotate(154 48.1 207.2)"/>
<ellipse cx="32.0" cy="219.2" rx="7.5" ry="5.1" fill="#efedf2" stroke="#aeacd8" stroke-width="0.8" opacity="0.8" transform="rotate(109 32.0 219.2)"/>
<ellipse cx="73.6" cy="238.7" rx="6.7" ry="5.7" fill="#efedf2" stroke="#aeacd8" stroke-width="0.8" opacity="0.8" transform="rotate(32 73.6 238.7)"/>
<ellipse cx="66.1" cy="210.4" rx="5.9" ry="4.0" fill="#efedf2" stroke="#aeacd8" stroke-width="0.8" opacity="0.8" transform="rotate(168 66.1 210.4)"/>
<ellipse cx="54.9" cy="213.1" rx="7.5" ry="6.5" fill="#efedf2" stroke="#aeacd8" stroke-width="0.8" opacity="0.8" transform="rotate(54 54.9 213.1)"/>
<ellipse cx="37.1" cy="204.8" rx="7.6" ry="6.7" fill="#efedf2" stroke="#aeacd8" stroke-width="0.8" opacity="0.8" transform="rotate(159 37.1 204.8)"/>
<ellipse cx="39.2" cy="244.9" rx="7.4" ry="6.3" fill="#efedf2" stroke="#aeacd8" stroke-width="0.8" opacity="0.8" transform="rotate(75 39.2 244.9)"/>
<ellipse cx="69.2" cy="239.0" rx="6.4" ry="5.3" fill="#efedf2" stroke="#aeacd8" stroke-width="0.8" opacity="0.8" transform="rotate(29 69.2 239.0)"/>
<rect x="28.70" y="199.60" width="48.90" height="48.80" fill="#000" filter="url(#nuc)" opacity="0.7"/>
</g>
<g clip-path="url(#c5)">
<rect x="79.00" y="199.60" width="49.00" height="48.80" fill="#d5c5ba"/>
<rect x="79.00" y="199.60" width="49.00" height="48.80" fill="#000" filter="url(#spkG)" opacity="0.3"/>
<rect x="79.00" y="199.60" width="49.00" height="48.80" fill="#000" filter="url(#spkB)" opacity="0.45"/>
<rect x="79.00" y="199.60" width="49.00" height="48.80" fill="#000" filter="url(#spkP)" opacity="0.65"/>
<ellipse cx="109.5" cy="235.8" rx="2.4" ry="0.7" fill="#c09a70" opacity="0.63" transform="rotate(143 109.5 235.8)"/>
<ellipse cx="80.4" cy="222.3" rx="2.0" ry="0.8" fill="#c09a70" opacity="0.38" transform="rotate(170 80.4 222.3)"/>
<ellipse cx="102.0" cy="211.6" rx="1.9" ry="0.4" fill="#c09a70" opacity="0.42" transform="rotate(98 102.0 211.6)"/>
<ellipse cx="92.7" cy="244.3" rx="1.2" ry="0.7" fill="#c09a70" opacity="0.39" transform="rotate(138 92.7 244.3)"/>
<ellipse cx="109.3" cy="205.8" rx="2.3" ry="0.5" fill="#c09a70" opacity="0.41" transform="rotate(0 109.3 205.8)"/>
<ellipse cx="127.1" cy="242.2" rx="2.4" ry="0.6" fill="#c09a70" opacity="0.55" transform="rotate(52 127.1 242.2)"/>
<ellipse cx="89.0" cy="245.5" rx="2.4" ry="0.8" fill="#c09a70" opacity="0.44" transform="rotate(124 89.0 245.5)"/>
<ellipse cx="96.7" cy="207.7" rx="1.1" ry="0.5" fill="#c09a70" opacity="0.53" transform="rotate(26 96.7 207.7)"/>
<ellipse cx="79.2" cy="232.7" rx="1.5" ry="0.7" fill="#c09a70" opacity="0.49" transform="rotate(61 79.2 232.7)"/>
<ellipse cx="94.5" cy="223.1" rx="1.1" ry="0.8" fill="#c09a70" opacity="0.36" transform="rotate(127 94.5 223.1)"/>
<ellipse cx="115.7" cy="240.8" rx="2.2" ry="0.5" fill="#c09a70" opacity="0.52" transform="rotate(3 115.7 240.8)"/>
<ellipse cx="79.4" cy="201.9" rx="2.4" ry="0.5" fill="#c09a70" opacity="0.58" transform="rotate(33 79.4 201.9)"/>
<ellipse cx="124.6" cy="245.6" rx="1.5" ry="0.6" fill="#c09a70" opacity="0.58" transform="rotate(62 124.6 245.6)"/>
<ellipse cx="84.3" cy="236.1" rx="2.3" ry="0.4" fill="#c09a70" opacity="0.63" transform="rotate(144 84.3 236.1)"/>
<ellipse cx="83.5" cy="216.2" rx="2.4" ry="0.5" fill="#c09a70" opacity="0.63" transform="rotate(110 83.5 216.2)"/>
<ellipse cx="105.7" cy="214.8" rx="1.3" ry="0.4" fill="#c09a70" opacity="0.39" transform="rotate(57 105.7 214.8)"/>
<ellipse cx="112.8" cy="248.2" rx="1.1" ry="0.8" fill="#c09a70" opacity="0.51" transform="rotate(29 112.8 248.2)"/>
<ellipse cx="98.9" cy="211.2" rx="2.2" ry="0.6" fill="#c09a70" opacity="0.48" transform="rotate(107 98.9 211.2)"/>
<ellipse cx="81.7" cy="244.3" rx="1.7" ry="0.7" fill="#c09a70" opacity="0.39" transform="rotate(6 81.7 244.3)"/>
<ellipse cx="114.9" cy="246.0" rx="2.2" ry="0.4" fill="#c09a70" opacity="0.48" transform="rotate(113 114.9 246.0)"/>
<rect x="79.00" y="199.60" width="49.00" height="48.80" fill="#000" filter="url(#nuc)" opacity="0.9"/>
</g>
<g clip-path="url(#c6)">
<rect x="129.70" y="199.60" width="48.30" height="48.80" fill="#d5c3b3"/>
<rect x="129.70" y="199.60" width="48.30" height="48.80" fill="#000" filter="url(#spkG)" opacity="0.3"/>
<rect x="129.70" y="199.60" width="48.30" height="48.80" fill="#000" filter="url(#spkB)" opacity="0.55"/>
<rect x="129.70" y="199.60" width="48.30" height="48.80" fill="#000" filter="url(#spkP)" opacity="0.5"/>
<ellipse cx="168.0" cy="239.7" rx="1.4" ry="0.4" fill="#b88c60" opacity="0.55" transform="rotate(87 168.0 239.7)"/>
<ellipse cx="152.4" cy="236.7" rx="2.2" ry="0.5" fill="#b88c60" opacity="0.59" transform="rotate(67 152.4 236.7)"/>
<ellipse cx="165.0" cy="219.8" rx="2.0" ry="0.5" fill="#b88c60" opacity="0.52" transform="rotate(97 165.0 219.8)"/>
<ellipse cx="168.6" cy="212.6" rx="2.0" ry="0.7" fill="#b88c60" opacity="0.45" transform="rotate(145 168.6 212.6)"/>
<ellipse cx="134.2" cy="238.7" rx="1.7" ry="0.4" fill="#b88c60" opacity="0.41" transform="rotate(145 134.2 238.7)"/>
<ellipse cx="160.4" cy="213.8" rx="1.9" ry="0.5" fill="#b88c60" opacity="0.55" transform="rotate(171 160.4 213.8)"/>
<ellipse cx="147.1" cy="245.1" rx="1.8" ry="0.7" fill="#b88c60" opacity="0.56" transform="rotate(164 147.1 245.1)"/>
<ellipse cx="168.6" cy="247.2" rx="1.5" ry="0.6" fill="#b88c60" opacity="0.44" transform="rotate(5 168.6 247.2)"/>
<ellipse cx="158.2" cy="204.0" rx="1.8" ry="0.4" fill="#b88c60" opacity="0.55" transform="rotate(158 158.2 204.0)"/>
<ellipse cx="144.8" cy="209.2" rx="1.2" ry="0.5" fill="#b88c60" opacity="0.61" transform="rotate(87 144.8 209.2)"/>
<ellipse cx="163.4" cy="200.2" rx="1.0" ry="0.5" fill="#b88c60" opacity="0.62" transform="rotate(140 163.4 200.2)"/>
<ellipse cx="159.7" cy="214.5" rx="1.6" ry="0.5" fill="#b88c60" opacity="0.65" transform="rotate(68 159.7 214.5)"/>
<ellipse cx="132.3" cy="220.2" rx="1.6" ry="0.8" fill="#b88c60" opacity="0.42" transform="rotate(134 132.3 220.2)"/>
<ellipse cx="177.0" cy="243.1" rx="2.3" ry="0.6" fill="#b88c60" opacity="0.60" transform="rotate(121 177.0 243.1)"/>
<ellipse cx="168.2" cy="224.8" rx="2.1" ry="0.6" fill="#b88c60" opacity="0.38" transform="rotate(85 168.2 224.8)"/>
<ellipse cx="165.8" cy="212.6" rx="2.2" ry="0.5" fill="#b88c60" opacity="0.36" transform="rotate(88 165.8 212.6)"/>
<ellipse cx="135.7" cy="228.4" rx="1.4" ry="0.6" fill="#b88c60" opacity="0.63" transform="rotate(65 135.7 228.4)"/>
<ellipse cx="142.0" cy="219.6" rx="1.9" ry="0.5" fill="#b88c60" opacity="0.49" transform="rotate(158 142.0 219.6)"/>
<ellipse cx="152.8" cy="206.5" rx="1.5" ry="0.7" fill="#b88c60" opacity="0.45" transform="rotate(68 152.8 206.5)"/>
<ellipse cx="161.5" cy="247.0" rx="1.6" ry="0.6" fill="#b88c60" opacity="0.45" transform="rotate(166 161.5 247.0)"/>
<ellipse cx="148.9" cy="223.4" rx="2.4" ry="0.5" fill="#b88c60" opacity="0.35" transform="rotate(143 148.9 223.4)"/>
<ellipse cx="151.4" cy="202.4" rx="2.2" ry="0.4" fill="#b88c60" opacity="0.57" transform="rotate(5 151.4 202.4)"/>
<ellipse cx="147.2" cy="245.4" rx="1.1" ry="0.5" fill="#b88c60" opacity="0.63" transform="rotate(154 147.2 245.4)"/>
<ellipse cx="159.3" cy="220.2" rx="2.2" ry="0.6" fill="#b88c60" opacity="0.49" transform="rotate(141 159.3 220.2)"/>
<ellipse cx="134.5" cy="217.3" rx="1.9" ry="0.6" fill="#b88c60" opacity="0.39" transform="rotate(26 134.5 217.3)"/>
<ellipse cx="160.0" cy="204.3" rx="2.0" ry="0.6" fill="#b88c60" opacity="0.62" transform="rotate(19 160.0 204.3)"/>
<ellipse cx="160.1" cy="233.8" rx="2.2" ry="0.4" fill="#b88c60" opacity="0.54" transform="rotate(23 160.1 233.8)"/>
<ellipse cx="173.7" cy="243.9" rx="1.7" ry="0.7" fill="#b88c60" opacity="0.59" transform="rotate(161 173.7 243.9)"/>
<ellipse cx="136.3" cy="245.6" rx="1.7" ry="0.7" fill="#b88c60" opacity="0.48" transform="rotate(164 136.3 245.6)"/>
<ellipse cx="143.1" cy="234.4" rx="2.2" ry="0.8" fill="#b88c60" opacity="0.44" transform="rotate(11 143.1 234.4)"/>
<rect x="129.70" y="199.60" width="48.30" height="48.80" fill="#000" filter="url(#nuc)" opacity="0.6"/>
</g>
<line x1="69.60" y1="195.80" x2="75.60" y2="195.80" stroke="#222" stroke-width="1.2"/>
<line x1="58.60" y1="246.50" x2="75.60" y2="246.50" stroke="#222" stroke-width="1.2"/>
<line x1="120.00" y1="195.80" x2="126.00" y2="195.80" stroke="#222" stroke-width="1.2"/>
<line x1="109.00" y1="246.50" x2="126.00" y2="246.50" stroke="#222" stroke-width="1.2"/>
<line x1="170.00" y1="195.80" x2="176.00" y2="195.80" stroke="#222" stroke-width="1.2"/>
<line x1="159.00" y1="246.50" x2="176.00" y2="246.50" stroke="#222" stroke-width="1.2"/>
<rect x="56.50" y="174.20" width="19.30" height="19.60" fill="none" stroke="#e42a9e" stroke-width="1.3" stroke-dasharray="1.5 1.3"/>
<line x1="56.50" y1="193.80" x2="28.90" y2="199.00" stroke="#e42a9e" stroke-width="1.3" stroke-dasharray="1.5 1.3"/>
<line x1="75.80" y1="193.80" x2="77.60" y2="199.00" stroke="#e42a9e" stroke-width="1.3" stroke-dasharray="1.5 1.3"/>
<rect x="85.00" y="176.50" width="20.60" height="19.30" fill="none" stroke="#e42a9e" stroke-width="1.3" stroke-dasharray="1.5 1.3"/>
<line x1="85.00" y1="195.80" x2="79.20" y2="199.00" stroke="#e42a9e" stroke-width="1.3" stroke-dasharray="1.5 1.3"/>
<line x1="105.60" y1="195.80" x2="128.00" y2="199.00" stroke="#e42a9e" stroke-width="1.3" stroke-dasharray="1.5 1.3"/>
<rect x="156.00" y="163.00" width="20.80" height="19.70" fill="none" stroke="#e42a9e" stroke-width="1.3" stroke-dasharray="1.5 1.3"/>
<line x1="156.00" y1="182.70" x2="129.80" y2="199.00" stroke="#e42a9e" stroke-width="1.3" stroke-dasharray="1.5 1.3"/>
<line x1="176.80" y1="182.70" x2="178.00" y2="199.00" stroke="#e42a9e" stroke-width="1.3" stroke-dasharray="1.5 1.3"/>
<text x="178.00" y="253.60" font-size="7.2" text-anchor="end">100 μm</text>
<text x="340.50" y="139.10" font-size="12.4" fill="#000" font-weight="bold">D</text>
<text x="400.50" y="144.70" font-size="8.3" text-anchor="middle">Normal</text>
<text x="451.00" y="144.70" font-size="8.3" text-anchor="middle">Primary</text>
<text x="501.40" y="144.70" font-size="8.3" text-anchor="middle">Peritoneal</text>
<line x1="374.70" y1="149.20" x2="374.70" y2="248.70" stroke="#333" stroke-width="1"/>
<text x="370.50" y="192.70" font-size="8.3" text-anchor="middle" transform="rotate(-90 370.50 192.70)">TβR1</text>
<g clip-path="url(#c7)">
<rect x="376.00" y="149.20" width="48.90" height="49.10" fill="#d4cfcc"/>
<rect x="376.00" y="149.20" width="48.90" height="49.10" fill="#000" filter="url(#spkG)" opacity="0.5"/>
<rect x="376.00" y="149.20" width="48.90" height="49.10" fill="#000" filter="url(#spkP)" opacity="0.4"/>
<ellipse cx="373.2" cy="147.5" rx="2.3" ry="1.5" fill="#e8e5e3" stroke="#aca6a4" stroke-width="0.8" opacity="0.55" transform="rotate(157 373.2 147.5)"/>
<ellipse cx="379.7" cy="147.3" rx="2.2" ry="2.1" fill="#e8e5e3" stroke="#aca6a4" stroke-width="0.8" opacity="0.55" transform="rotate(103 379.7 147.3)"/>
<ellipse cx="384.1" cy="147.6" rx="2.5" ry="2.4" fill="#e8e5e3" stroke="#aca6a4" stroke-width="0.8" opacity="0.55" transform="rotate(3 384.1 147.6)"/>
<ellipse cx="388.7" cy="147.4" rx="2.3" ry="1.9" fill="#e8e5e3" stroke="#aca6a4" stroke-width="0.8" opacity="0.55" transform="rotate(4 388.7 147.4)"/>
<ellipse cx="395.2" cy="148.1" rx="3.0" ry="2.3" fill="#e8e5e3" stroke="#aca6a4" stroke-width="0.8" opacity="0.55" transform="rotate(25 395.2 148.1)"/>
<ellipse cx="399.3" cy="146.9" rx="2.2" ry="2.0" fill="#e8e5e3" stroke="#aca6a4" stroke-width="0.8" opacity="0.55" transform="rotate(80 399.3 146.9)"/>
<ellipse cx="404.7" cy="148.1" rx="2.8" ry="2.6" fill="#e8e5e3" stroke="#aca6a4" stroke-width="0.8" opacity="0.55" transform="rotate(145 404.7 148.1)"/>
<ellipse cx="411.6" cy="146.3" rx="3.2" ry="2.9" fill="#e8e5e3" stroke="#aca6a4" stroke-width="0.8" opacity="0.55" transform="rotate(36 411.6 146.3)"/>
<ellipse cx="417.7" cy="148.5" rx="2.7" ry="1.9" fill="#e8e5e3" stroke="#aca6a4" stroke-width="0.8" opacity="0.55" transform="rotate(2 417.7 148.5)"/>
<ellipse cx="422.3" cy="147.7" rx="2.7" ry="2.5" fill="#e8e5e3" stroke="#aca6a4" stroke-width="0.8" opacity="0.55" transform="rotate(32 422.3 147.7)"/>
<ellipse cx="426.5" cy="146.2" rx="2.5" ry="1.9" fill="#e8e5e3" stroke="#aca6a4" stroke-width="0.8" opacity="0.55" transform="rotate(126 426.5 146.2)"/>
<ellipse cx="376.1" cy="151.2" rx="2.7" ry="2.4" fill="#e8e5e3" stroke="#aca6a4" stroke-width="0.8" opacity="0.55" transform="rotate(136 376.1 151.2)"/>
<ellipse cx="380.7" cy="151.6" rx="2.6" ry="2.5" fill="#e8e5e3" stroke="#aca6a4" stroke-width="0.8" opacity="0.55" transform="rotate(163 380.7 151.6)"/>
<ellipse cx="385.7" cy="152.2" rx="2.3" ry="2.3" fill="#e8e5e3" stroke="#aca6a4" stroke-width="0.8" opacity="0.55" transform="rotate(130 385.7 152.2)"/>
<ellipse cx="392.1" cy="153.1" rx="2.3" ry="1.9" fill="#e8e5e3" stroke="#aca6a4" stroke-width="0.8" opacity="0.55" transform="rotate(113 392.1 153.1)"/>
<ellipse cx="397.6" cy="152.6" rx="3.1" ry="2.5" fill="#e8e5e3" stroke="#aca6a4" stroke-width="0.8" opacity="0.55" transform="rotate(102 397.6 152.6)"/>
<ellipse cx="403.0" cy="152.6" rx="3.1" ry="3.0" fill="#e8e5e3" stroke="#aca6a4" stroke-width="0.8" opacity="0.55" transform="rotate(170 403.0 152.6)"/>
<ellipse cx="408.3" cy="151.7" rx="2.7" ry="2.4" fill="#e8e5e3" stroke="#aca6a4" stroke-width="0.8" opacity="0.55" transform="rotate(37 408.3 151.7)"/>
<ellipse cx="415.0" cy="153.4" rx="2.9" ry="2.9" fill="#e8e5e3" stroke="#aca6a4" stroke-width="0.8" opacity="0.55" transform="rotate(115 415.0 153.4)"/>
<ellipse cx="420.0" cy="152.8" rx="2.9" ry="2.1" fill="#e8e5e3" stroke="#aca6a4" stroke-width="0.8" opacity="0.55" transform="rotate(162 420.0 152.8)"/>
<ellipse cx="424.2" cy="151.6" rx="3.2" ry="3.3" fill="#e8e5e3" stroke="#aca6a4" stroke-width="0.8" opacity="0.55" transform="rotate(97 424.2 151.6)"/>
<ellipse cx="429.5" cy="151.2" rx="3.0" ry="2.3" fill="#e8e5e3" stroke="#aca6a4" stroke-width="0.8" opacity="0.55" transform="rotate(164 429.5 151.2)"/>
<ellipse cx="373.9" cy="156.9" rx="3.1" ry="2.4" fill="#e8e5e3" stroke="#aca6a4" stroke-width="0.8" opacity="0.55" transform="rotate(15 373.9 156.9)"/>
<ellipse cx="379.5" cy="156.8" rx="2.6" ry="2.3" fill="#e8e5e3" stroke="#aca6a4" stroke-width="0.8" opacity="0.55" transform="rotate(138 379.5 156.8)"/>
<ellipse cx="385.2" cy="158.0" rx="2.7" ry="1.8" fill="#e8e5e3" stroke="#aca6a4" stroke-width="0.8" opacity="0.55" transform="rotate(146 385.2 158.0)"/>
<ellipse cx="388.3" cy="156.4" rx="2.3" ry="2.2" fill="#e8e5e3" stroke="#aca6a4" stroke-width="0.8" opacity="0.55" transform="rotate(31 388.3 156.4)"/>
<ellipse cx="395.9" cy="157.0" rx="2.5" ry="2.4" fill="#e8e5e3" stroke="#aca6a4" stroke-width="0.8" opacity="0.55" transform="rotate(25 395.9 157.0)"/>
<ellipse cx="401.5" cy="156.9" rx="2.3" ry="2.0" fill="#e8e5e3" stroke="#aca6a4" stroke-width="0.8" opacity="0.55" transform="rotate(130 401.5 156.9)"/>
<ellipse cx="404.7" cy="157.4" rx="3.0" ry="2.8" fill="#e8e5e3" stroke="#aca6a4" stroke-width="0.8" opacity="0.55" transform="rotate(170 404.7 157.4)"/>
<ellipse cx="411.8" cy="156.6" rx="2.7" ry="2.8" fill="#e8e5e3" stroke="#aca6a4" stroke-width="0.8" opacity="0.55" transform="rotate(15 411.8 156.6)"/>
<ellipse cx="415.5" cy="156.7" rx="2.4" ry="2.1" fill="#e8e5e3" stroke="#aca6a4" stroke-width="0.8" opacity="0.55" transform="rotate(52 415.5 156.7)"/>
<ellipse cx="423.0" cy="157.7" rx="2.9" ry="2.7" fill="#e8e5e3" stroke="#aca6a4" stroke-width="0.8" opacity="0.55" transform="rotate(94 423.0 157.7)"/>
<ellipse cx="426.4" cy="156.5" rx="3.0" ry="2.7" fill="#e8e5e3" stroke="#aca6a4" stroke-width="0.8" opacity="0.55" transform="rotate(56 426.4 156.5)"/>
<ellipse cx="375.0" cy="160.9" rx="2.6" ry="2.6" fill="#e8e5e3" stroke="#aca6a4" stroke-width="0.8" opacity="0.55" transform="rotate(162 375.0 160.9)"/>
<ellipse cx="382.1" cy="161.2" rx="2.4" ry="2.4" fill="#e8e5e3" stroke="#aca6a4" stroke-width="0.8" opacity="0.55" transform="rotate(174 382.1 161.2)"/>
<ellipse cx="386.9" cy="161.9" rx="2.7" ry="2.4" fill="#e8e5e3" stroke="#aca6a4" stroke-width="0.8" opacity="0.55" transform="rotate(36 386.9 161.9)"/>
<ellipse cx="391.5" cy="162.5" rx="2.7" ry="2.3" fill="#e8e5e3" stroke="#aca6a4" stroke-width="0.8" opacity="0.55" transform="rotate(109 391.5 162.5)"/>
<ellipse cx="396.7" cy="162.3" rx="2.2" ry="2.3" fill="#e8e5e3" stroke="#aca6a4" stroke-width="0.8" opacity="0.55" transform="rotate(93 396.7 162.3)"/>
<ellipse cx="402.1" cy="161.8" rx="2.6" ry="2.5" fill="#e8e5e3" stroke="#aca6a4" stroke-width="0.8" opacity="0.55" transform="rotate(101 402.1 161.8)"/>
<ellipse cx="407.7" cy="161.4" rx="2.7" ry="2.5" fill="#e8e5e3" stroke="#aca6a4" stroke-width="0.8" opacity="0.55" transform="rotate(12 407.7 161.4)"/>
<ellipse cx="414.9" cy="162.7" rx="2.7" ry="2.2" fill="#e8e5e3" stroke="#aca6a4" stroke-width="0.8" opacity="0.55" transform="rotate(172 414.9 162.7)"/>
<ellipse cx="418.7" cy="162.9" rx="3.1" ry="2.4" fill="#e8e5e3" stroke="#aca6a4" stroke-width="0.8" opacity="0.55" transform="rotate(85 418.7 162.9)"/>
<ellipse cx="423.9" cy="161.7" rx="2.3" ry="1.9" fill="#e8e5e3" stroke="#aca6a4" stroke-width="0.8" opacity="0.55" transform="rotate(147 423.9 161.7)"/>
<ellipse cx="430.9" cy="162.3" rx="3.1" ry="2.6" fill="#e8e5e3" stroke="#aca6a4" stroke-width="0.8" opacity="0.55" transform="rotate(57 430.9 162.3)"/>
<ellipse cx="372.3" cy="168.0" rx="2.4" ry="2.1" fill="#e8e5e3" stroke="#aca6a4" stroke-width="0.8" opacity="0.55" transform="rotate(167 372.3 168.0)"/>
<ellipse cx="378.0" cy="166.3" rx="2.3" ry="2.2" fill="#e8e5e3" stroke="#aca6a4" stroke-width="0.8" opacity="0.55" transform="rotate(4 378.0 166.3)"/>
<ellipse cx="384.8" cy="166.4" rx="2.4" ry="1.8" fill="#e8e5e3" stroke="#aca6a4" stroke-width="0.8" opacity="0.55" transform="rotate(124 384.8 166.4)"/>
<ellipse cx="389.0" cy="165.8" rx="2.5" ry="2.0" fill="#e8e5e3" stroke="#aca6a4" stroke-width="0.8" opacity="0.55" transform="rotate(112 389.0 165.8)"/>
<ellipse cx="393.9" cy="167.0" rx="2.3" ry="2.2" fill="#e8e5e3" stroke="#aca6a4" stroke-width="0.8" opacity="0.55" transform="rotate(22 393.9 167.0)"/>
<ellipse cx="399.7" cy="167.1" rx="2.7" ry="2.0" fill="#e8e5e3" stroke="#aca6a4" stroke-width="0.8" opacity="0.55" transform="rotate(36 399.7 167.1)"/>
<ellipse cx="405.4" cy="166.7" rx="2.7" ry="2.3" fill="#e8e5e3" stroke="#aca6a4" stroke-width="0.8" opacity="0.55" transform="rotate(68 405.4 166.7)"/>
<ellipse cx="412.2" cy="166.8" rx="2.6" ry="2.3" fill="#e8e5e3" stroke="#aca6a4" stroke-width="0.8" opacity="0.55" transform="rotate(29 412.2 166.8)"/>
<ellipse cx="416.7" cy="167.7" rx="2.4" ry="2.2" fill="#e8e5e3" stroke="#aca6a4" stroke-width="0.8" opacity="0.55" transform="rotate(115 416.7 167.7)"/>
<ellipse cx="421.1" cy="166.0" rx="2.7" ry="2.7" fill="#e8e5e3" stroke="#aca6a4" stroke-width="0.8" opacity="0.55" transform="rotate(110 421.1 166.0)"/>
<ellipse cx="428.3" cy="167.6" rx="3.1" ry="2.3" fill="#e8e5e3" stroke="#aca6a4" stroke-width="0.8" opacity="0.55" transform="rotate(133 428.3 167.6)"/>
<ellipse cx="375.4" cy="171.0" rx="3.0" ry="3.0" fill="#e8e5e3" stroke="#aca6a4" stroke-width="0.8" opacity="0.55" transform="rotate(57 375.4 171.0)"/>
<ellipse cx="382.0" cy="172.8" rx="2.5" ry="2.6" fill="#e8e5e3" stroke="#aca6a4" stroke-width="0.8" opacity="0.55" transform="rotate(39 382.0 172.8)"/>
<ellipse cx="386.1" cy="172.8" rx="3.2" ry="3.2" fill="#e8e5e3" stroke="#aca6a4" stroke-width="0.8" opacity="0.55" transform="rotate(24 386.1 172.8)"/>
<ellipse cx="393.1" cy="171.9" rx="2.4" ry="2.3" fill="#e8e5e3" stroke="#aca6a4" stroke-width="0.8" opacity="0.55" transform="rotate(47 393.1 171.9)"/>
<ellipse cx="397.4" cy="170.7" rx="2.3" ry="2.3" fill="#e8e5e3" stroke="#aca6a4" stroke-width="0.8" opacity="0.55" transform="rotate(76 397.4 170.7)"/>
<ellipse cx="401.9" cy="172.8" rx="3.0" ry="2.1" fill="#e8e5e3" stroke="#aca6a4" stroke-width="0.8" opacity="0.55" transform="rotate(73 401.9 172.8)"/>
<ellipse cx="407.8" cy="172.2" rx="2.9" ry="1.9" fill="#e8e5e3" stroke="#aca6a4" stroke-width="0.8" opacity="0.55" transform="rotate(36 407.8 172.2)"/>
<ellipse cx="413.2" cy="172.5" rx="2.9" ry="2.9" fill="#e8e5e3" stroke="#aca6a4" stroke-width="0.8" opacity="0.55" transform="rotate(174 413.2 172.5)"/>
<ellipse cx="419.4" cy="171.2" rx="2.3" ry="2.0" fill="#e8e5e3" stroke="#aca6a4" stroke-width="0.8" opacity="0.55" transform="rotate(136 419.4 171.2)"/>
<ellipse cx="423.8" cy="172.2" rx="2.7" ry="2.5" fill="#e8e5e3" stroke="#aca6a4" stroke-width="0.8" opacity="0.55" transform="rotate(34 423.8 172.2)"/>
<ellipse cx="429.0" cy="171.0" rx="2.3" ry="1.6" fill="#e8e5e3" stroke="#aca6a4" stroke-width="0.8" opacity="0.55" transform="rotate(7 429.0 171.0)"/>
<ellipse cx="373.4" cy="177.4" rx="2.8" ry="2.4" fill="#e8e5e3" stroke="#aca6a4" stroke-width="0.8" opacity="0.55" transform="rotate(102 373.4 177.4)"/>
<ellipse cx="379.0" cy="176.0" rx="2.3" ry="1.7" fill="#e8e5e3" stroke="#aca6a4" stroke-width="0.8" opacity="0.55" transform="rotate(37 379.0 176.0)"/>
<ellipse cx="385.1" cy="175.8" rx="3.0" ry="3.2" fill="#e8e5e3" stroke="#aca6a4" stroke-width="0.8" opacity="0.55" transform="rotate(167 385.1 175.8)"/>
<ellipse cx="388.3" cy="176.0" rx="2.3" ry="1.5" fill="#e8e5e3" stroke="#aca6a4" stroke-width="0.8" opacity="0.55" transform="rotate(171 388.3 176.0)"/>
<ellipse cx="394.8" cy="175.5" rx="2.7" ry="2.5" fill="#e8e5e3" stroke="#aca6a4" stroke-width="0.8" opacity="0.55" transform="rotate(59 394.8 175.5)"/>
<ellipse cx="399.5" cy="176.2" rx="2.7" ry="2.3" fill="#e8e5e3" stroke="#aca6a4" stroke-width="0.8" opacity="0.55" transform="rotate(77 399.5 176.2)"/>
<ellipse cx="405.9" cy="175.7" rx="2.8" ry="1.8" fill="#e8e5e3" stroke="#aca6a4" stroke-width="0.8" opacity="0.55" transform="rotate(126 405.9 175.7)"/>
<ellipse cx="410.8" cy="177.5" rx="3.0" ry="2.2" fill="#e8e5e3" stroke="#aca6a4" stroke-width="0.8" opacity="0.55" transform="rotate(82 410.8 177.5)"/>
<ellipse cx="417.7" cy="176.9" rx="2.9" ry="2.4" fill="#e8e5e3" stroke="#aca6a4" stroke-width="0.8" opacity="0.55" transform="rotate(35 417.7 176.9)"/>
<ellipse cx="422.4" cy="176.8" rx="2.4" ry="2.0" fill="#e8e5e3" stroke="#aca6a4" stroke-width="0.8" opacity="0.55" transform="rotate(3 422.4 176.8)"/>
<ellipse cx="426.4" cy="175.4" rx="3.1" ry="3.0" fill="#e8e5e3" stroke="#aca6a4" stroke-width="0.8" opacity="0.55" transform="rotate(127 426.4 175.4)"/>
<ellipse cx="374.8" cy="182.4" rx="3.1" ry="2.8" fill="#e8e5e3" stroke="#aca6a4" stroke-width="0.8" opacity="0.55" transform="rotate(73 374.8 182.4)"/>
<ellipse cx="381.9" cy="182.5" rx="2.8" ry="2.4" fill="#e8e5e3" stroke="#aca6a4" stroke-width="0.8" opacity="0.55" transform="rotate(177 381.9 182.5)"/>
<ellipse cx="385.7" cy="181.7" rx="3.0" ry="2.3" fill="#e8e5e3" stroke="#aca6a4" stroke-width="0.8" opacity="0.55" transform="rotate(164 385.7 181.7)"/>
<ellipse cx="392.2" cy="182.0" rx="2.9" ry="2.8" fill="#e8e5e3" stroke="#aca6a4" stroke-width="0.8" opacity="0.55" transform="rotate(147 392.2 182.0)"/>
<ellipse cx="397.2" cy="182.6" rx="2.6" ry="2.6" fill="#e8e5e3" stroke="#aca6a4" stroke-width="0.8" opacity="0.55" transform="rotate(158 397.2 182.6)"/>
<ellipse cx="402.0" cy="181.5" rx="2.9" ry="2.8" fill="#e8e5e3" stroke="#aca6a4" stroke-width="0.8" opacity="0.55" transform="rotate(138 402.0 181.5)"/>
<ellipse cx="409.0" cy="182.4" rx="2.6" ry="2.4" fill="#e8e5e3" stroke="#aca6a4" stroke-width="0.8" opacity="0.55" transform="rotate(13 409.0 182.4)"/>
<ellipse cx="414.4" cy="181.9" rx="2.5" ry="2.1" fill="#e8e5e3" stroke="#aca6a4" stroke-width="0.8" opacity="0.55" transform="rotate(2 414.4 181.9)"/>
<ellipse cx="419.9" cy="182.4" rx="2.6" ry="2.3" fill="#e8e5e3" stroke="#aca6a4" stroke-width="0.8" opacity="0.55" transform="rotate(112 419.9 182.4)"/>
<ellipse cx="424.2" cy="181.9" rx="2.4" ry="2.5" fill="#e8e5e3" stroke="#aca6a4" stroke-width="0.8" opacity="0.55" transform="rotate(120 424.2 181.9)"/>
<ellipse cx="431.0" cy="182.3" rx="2.5" ry="2.3" fill="#e8e5e3" stroke="#aca6a4" stroke-width="0.8" opacity="0.55" transform="rotate(103 431.0 182.3)"/>
<ellipse cx="373.1" cy="187.0" rx="2.7" ry="2.2" fill="#e8e5e3" stroke="#aca6a4" stroke-width="0.8" opacity="0.55" transform="rotate(180 373.1 187.0)"/>
<ellipse cx="379.6" cy="186.5" rx="2.8" ry="2.6" fill="#e8e5e3" stroke="#aca6a4" stroke-width="0.8" opacity="0.55" transform="rotate(137 379.6 186.5)"/>
<ellipse cx="384.4" cy="186.0" rx="3.2" ry="2.1" fill="#e8e5e3" stroke="#aca6a4" stroke-width="0.8" opacity="0.55" transform="rotate(111 384.4 186.0)"/>
<ellipse cx="389.7" cy="186.5" rx="2.9" ry="2.2" fill="#e8e5e3" stroke="#aca6a4" stroke-width="0.8" opacity="0.55" transform="rotate(72 389.7 186.5)"/>
<ellipse cx="393.9" cy="186.6" rx="2.3" ry="1.6" fill="#e8e5e3" stroke="#aca6a4" stroke-width="0.8" opacity="0.55" transform="rotate(68 393.9 186.6)"/>
<ellipse cx="401.5" cy="187.2" rx="2.3" ry="1.7" fill="#e8e5e3" stroke="#aca6a4" stroke-width="0.8" opacity="0.55" transform="rotate(163 401.5 187.2)"/>
<ellipse cx="406.2" cy="186.0" rx="2.8" ry="2.3" fill="#e8e5e3" stroke="#aca6a4" stroke-width="0.8" opacity="0.55" transform="rotate(174 406.2 186.0)"/>
<ellipse cx="411.7" cy="186.5" rx="2.8" ry="2.9" fill="#e8e5e3" stroke="#aca6a4" stroke-width="0.8" opacity="0.55" transform="rotate(115 411.7 186.5)"/>
<ellipse cx="416.4" cy="187.1" rx="3.0" ry="2.0" fill="#e8e5e3" stroke="#aca6a4" stroke-width="0.8" opacity="0.55" transform="rotate(108 416.4 187.1)"/>
<ellipse cx="420.9" cy="186.9" rx="3.0" ry="2.0" fill="#e8e5e3" stroke="#aca6a4" stroke-width="0.8" opacity="0.55" transform="rotate(167 420.9 186.9)"/>
<ellipse cx="426.2" cy="186.5" rx="2.4" ry="2.0" fill="#e8e5e3" stroke="#aca6a4" stroke-width="0.8" opacity="0.55" transform="rotate(30 426.2 186.5)"/>
<ellipse cx="376.0" cy="190.5" rx="2.7" ry="2.4" fill="#e8e5e3" stroke="#aca6a4" stroke-width="0.8" opacity="0.55" transform="rotate(11 376.0 190.5)"/>
<ellipse cx="381.9" cy="191.1" rx="3.1" ry="2.6" fill="#e8e5e3" stroke="#aca6a4" stroke-width="0.8" opacity="0.55" transform="rotate(95 381.9 191.1)"/>
<ellipse cx="387.1" cy="192.1" rx="2.8" ry="2.2" fill="#e8e5e3" stroke="#aca6a4" stroke-width="0.8" opacity="0.55" transform="rotate(51 387.1 192.1)"/>
<ellipse cx="391.6" cy="190.0" rx="2.9" ry="2.5" fill="#e8e5e3" stroke="#aca6a4" stroke-width="0.8" opacity="0.55" transform="rotate(51 391.6 190.0)"/>
<ellipse cx="397.1" cy="191.6" rx="2.9" ry="2.2" fill="#e8e5e3" stroke="#aca6a4" stroke-width="0.8" opacity="0.55" transform="rotate(3 397.1 191.6)"/>
<ellipse cx="402.3" cy="190.3" rx="2.4" ry="1.6" fill="#e8e5e3" stroke="#aca6a4" stroke-width="0.8" opacity="0.55" transform="rotate(28 402.3 190.3)"/>
<ellipse cx="409.4" cy="191.5" rx="3.0" ry="2.4" fill="#e8e5e3" stroke="#aca6a4" stroke-width="0.8" opacity="0.55" transform="rotate(162 409.4 191.5)"/>
<ellipse cx="413.7" cy="192.1" rx="2.9" ry="2.0" fill="#e8e5e3" stroke="#aca6a4" stroke-width="0.8" opacity="0.55" transform="rotate(178 413.7 192.1)"/>
<ellipse cx="418.8" cy="191.5" rx="3.1" ry="2.1" fill="#e8e5e3" stroke="#aca6a4" stroke-width="0.8" opacity="0.55" transform="rotate(163 418.8 191.5)"/>
<ellipse cx="423.9" cy="191.0" rx="2.6" ry="2.2" fill="#e8e5e3" stroke="#aca6a4" stroke-width="0.8" opacity="0.55" transform="rotate(175 423.9 191.0)"/>
<ellipse cx="430.7" cy="192.1" rx="2.4" ry="2.1" fill="#e8e5e3" stroke="#aca6a4" stroke-width="0.8" opacity="0.55" transform="rotate(169 430.7 192.1)"/>
<ellipse cx="374.2" cy="195.7" rx="2.9" ry="2.4" fill="#e8e5e3" stroke="#aca6a4" stroke-width="0.8" opacity="0.55" transform="rotate(176 374.2 195.7)"/>
<ellipse cx="378.9" cy="195.6" rx="3.0" ry="2.7" fill="#e8e5e3" stroke="#aca6a4" stroke-width="0.8" opacity="0.55" transform="rotate(21 378.9 195.6)"/>
<ellipse cx="383.2" cy="196.0" rx="2.8" ry="2.4" fill="#e8e5e3" stroke="#aca6a4" stroke-width="0.8" opacity="0.55" transform="rotate(37 383.2 196.0)"/>
<ellipse cx="390.3" cy="196.8" rx="2.3" ry="1.9" fill="#e8e5e3" stroke="#aca6a4" stroke-width="0.8" opacity="0.55" transform="rotate(22 390.3 196.8)"/>
<ellipse cx="395.4" cy="197.1" rx="2.6" ry="2.4" fill="#e8e5e3" stroke="#aca6a4" stroke-width="0.8" opacity="0.55" transform="rotate(82 395.4 197.1)"/>
<ellipse cx="399.8" cy="195.2" rx="2.5" ry="2.2" fill="#e8e5e3" stroke="#aca6a4" stroke-width="0.8" opacity="0.55" transform="rotate(76 399.8 195.2)"/>
<ellipse cx="405.6" cy="195.5" rx="3.0" ry="2.6" fill="#e8e5e3" stroke="#aca6a4" stroke-width="0.8" opacity="0.55" transform="rotate(180 405.6 195.5)"/>
<ellipse cx="410.4" cy="195.8" rx="3.2" ry="3.0" fill="#e8e5e3" stroke="#aca6a4" stroke-width="0.8" opacity="0.55" transform="rotate(43 410.4 195.8)"/>
<ellipse cx="416.8" cy="196.0" rx="2.3" ry="2.3" fill="#e8e5e3" stroke="#aca6a4" stroke-width="0.8" opacity="0.55" transform="rotate(141 416.8 196.0)"/>
<ellipse cx="421.5" cy="196.8" rx="2.8" ry="2.2" fill="#e8e5e3" stroke="#aca6a4" stroke-width="0.8" opacity="0.55" transform="rotate(49 421.5 196.8)"/>
<ellipse cx="428.5" cy="195.9" rx="2.9" ry="2.5" fill="#e8e5e3" stroke="#aca6a4" stroke-width="0.8" opacity="0.55" transform="rotate(107 428.5 195.9)"/>
</g>
<g clip-path="url(#c8)">
<rect x="426.80" y="149.20" width="48.60" height="49.10" fill="#c6b5a7"/>
<rect x="426.80" y="149.20" width="48.60" height="49.10" fill="#000" filter="url(#spkG)" opacity="0.8"/>
<rect x="426.80" y="149.20" width="48.60" height="49.10" fill="#000" filter="url(#spkB)" opacity="0.45"/>
<rect x="426.80" y="149.20" width="48.60" height="49.10" fill="#000" filter="url(#spkP)" opacity="0.5"/>
<ellipse cx="449.9" cy="181.5" rx="1.2" ry="0.4" fill="#b08a70" opacity="0.46" transform="rotate(120 449.9 181.5)"/>
<ellipse cx="440.1" cy="189.0" rx="1.9" ry="0.6" fill="#b08a70" opacity="0.55" transform="rotate(124 440.1 189.0)"/>
<ellipse cx="433.9" cy="170.8" rx="2.4" ry="0.4" fill="#b08a70" opacity="0.60" transform="rotate(29 433.9 170.8)"/>
<ellipse cx="430.4" cy="182.9" rx="1.6" ry="0.7" fill="#b08a70" opacity="0.36" transform="rotate(61 430.4 182.9)"/>
<ellipse cx="429.8" cy="194.1" rx="1.1" ry="0.8" fill="#b08a70" opacity="0.63" transform="rotate(92 429.8 194.1)"/>
<ellipse cx="432.3" cy="170.0" rx="1.5" ry="0.6" fill="#b08a70" opacity="0.40" transform="rotate(24 432.3 170.0)"/>
<ellipse cx="460.7" cy="151.7" rx="2.2" ry="0.6" fill="#b08a70" opacity="0.48" transform="rotate(31 460.7 151.7)"/>
<ellipse cx="455.8" cy="172.6" rx="1.0" ry="0.7" fill="#b08a70" opacity="0.64" transform="rotate(69 455.8 172.6)"/>
<ellipse cx="474.2" cy="181.8" rx="1.5" ry="0.7" fill="#b08a70" opacity="0.55" transform="rotate(64 474.2 181.8)"/>
<ellipse cx="432.3" cy="160.7" rx="1.8" ry="0.7" fill="#b08a70" opacity="0.50" transform="rotate(65 432.3 160.7)"/>
<ellipse cx="428.2" cy="189.6" rx="1.8" ry="0.5" fill="#b08a70" opacity="0.48" transform="rotate(77 428.2 189.6)"/>
<ellipse cx="445.7" cy="187.1" rx="1.8" ry="0.5" fill="#b08a70" opacity="0.56" transform="rotate(18 445.7 187.1)"/>
<ellipse cx="428.6" cy="162.8" rx="2.0" ry="0.4" fill="#b08a70" opacity="0.49" transform="rotate(62 428.6 162.8)"/>
<ellipse cx="436.9" cy="163.0" rx="2.4" ry="0.6" fill="#b08a70" opacity="0.64" transform="rotate(86 436.9 163.0)"/>
<ellipse cx="434.9" cy="194.6" rx="1.3" ry="0.7" fill="#b08a70" opacity="0.62" transform="rotate(66 434.9 194.6)"/>
</g>
<g clip-path="url(#c9)">
<rect x="476.80" y="149.20" width="49.10" height="49.10" fill="#c2a994"/>
<rect x="476.80" y="149.20" width="49.10" height="49.10" fill="#000" filter="url(#spkG)" opacity="0.8"/>
<rect x="476.80" y="149.20" width="49.10" height="49.10" fill="#000" filter="url(#spkB)" opacity="0.55"/>
<rect x="476.80" y="149.20" width="49.10" height="49.10" fill="#000" filter="url(#spkP)" opacity="0.3"/>
<ellipse cx="489.5" cy="182.8" rx="2.3" ry="0.5" fill="#a07858" opacity="0.42" transform="rotate(123 489.5 182.8)"/>
<ellipse cx="484.0" cy="160.3" rx="1.2" ry="0.6" fill="#a07858" opacity="0.41" transform="rotate(132 484.0 160.3)"/>
<ellipse cx="491.3" cy="170.4" rx="1.9" ry="0.4" fill="#a07858" opacity="0.43" transform="rotate(151 491.3 170.4)"/>
<ellipse cx="484.0" cy="192.0" rx="2.2" ry="0.7" fill="#a07858" opacity="0.57" transform="rotate(146 484.0 192.0)"/>
<ellipse cx="523.4" cy="188.2" rx="2.3" ry="0.6" fill="#a07858" opacity="0.58" transform="rotate(46 523.4 188.2)"/>
<ellipse cx="504.5" cy="170.3" rx="1.6" ry="0.5" fill="#a07858" opacity="0.39" transform="rotate(66 504.5 170.3)"/>
<ellipse cx="517.0" cy="188.4" rx="2.0" ry="0.6" fill="#a07858" opacity="0.57" transform="rotate(177 517.0 188.4)"/>
<ellipse cx="483.4" cy="182.4" rx="1.3" ry="0.5" fill="#a07858" opacity="0.51" transform="rotate(80 483.4 182.4)"/>
<ellipse cx="489.2" cy="171.8" rx="1.6" ry="0.5" fill="#a07858" opacity="0.50" transform="rotate(109 489.2 171.8)"/>
<ellipse cx="488.4" cy="160.8" rx="1.5" ry="0.4" fill="#a07858" opacity="0.55" transform="rotate(35 488.4 160.8)"/>
<ellipse cx="523.6" cy="168.3" rx="2.4" ry="0.4" fill="#a07858" opacity="0.39" transform="rotate(129 523.6 168.3)"/>
<ellipse cx="516.4" cy="190.4" rx="1.2" ry="0.6" fill="#a07858" opacity="0.61" transform="rotate(115 516.4 190.4)"/>
<ellipse cx="520.3" cy="188.6" rx="2.3" ry="0.5" fill="#a07858" opacity="0.56" transform="rotate(37 520.3 188.6)"/>
<ellipse cx="483.5" cy="196.9" rx="2.1" ry="0.5" fill="#a07858" opacity="0.54" transform="rotate(109 483.5 196.9)"/>
<ellipse cx="505.3" cy="178.2" rx="2.1" ry="0.5" fill="#a07858" opacity="0.44" transform="rotate(65 505.3 178.2)"/>
</g>
<path d="M495,149.2 C500,158 506,166 512,172 C517,178 522,185 526,192 L526,185 C522,180 519,175 515,170 C510,163 506,157 502,149.2 Z" fill="#efebe7" opacity="0.92"/>
<path d="M509,160 L514,163 L512,166 Z M518,176 L523,178 L521,181 Z" fill="#b89a84"/>
<g clip-path="url(#c10)">
<rect x="376.00" y="200.20" width="48.90" height="48.50" fill="#d6d0cc"/>
<rect x="376.00" y="200.20" width="48.90" height="48.50" fill="#000" filter="url(#spkG)" opacity="0.3"/>
<rect x="376.00" y="200.20" width="48.90" height="48.50" fill="#000" filter="url(#spkP)" opacity="0.4"/>
<ellipse cx="368.6" cy="196.4" rx="6.1" ry="4.0" fill="#e4dfda" stroke="#9a94ac" stroke-width="0.8" opacity="0.55" transform="rotate(133 368.6 196.4)"/>
<ellipse cx="382.9" cy="196.9" rx="5.7" ry="4.9" fill="#e4dfda" stroke="#9a94ac" stroke-width="0.8" opacity="0.55" transform="rotate(17 382.9 196.9)"/>
<ellipse cx="395.0" cy="195.3" rx="6.5" ry="6.0" fill="#e4dfda" stroke="#9a94ac" stroke-width="0.8" opacity="0.55" transform="rotate(96 395.0 195.3)"/>
<ellipse cx="409.1" cy="196.2" rx="6.4" ry="5.4" fill="#e4dfda" stroke="#9a94ac" stroke-width="0.8" opacity="0.55" transform="rotate(79 409.1 196.2)"/>
<ellipse cx="421.0" cy="196.3" rx="6.7" ry="4.6" fill="#e4dfda" stroke="#9a94ac" stroke-width="0.8" opacity="0.55" transform="rotate(85 421.0 196.3)"/>
<ellipse cx="375.8" cy="208.2" rx="6.0" ry="5.9" fill="#e4dfda" stroke="#9a94ac" stroke-width="0.8" opacity="0.55" transform="rotate(169 375.8 208.2)"/>
<ellipse cx="388.1" cy="206.9" rx="5.6" ry="4.0" fill="#e4dfda" stroke="#9a94ac" stroke-width="0.8" opacity="0.55" transform="rotate(127 388.1 206.9)"/>
<ellipse cx="403.0" cy="207.2" rx="6.6" ry="4.4" fill="#e4dfda" stroke="#9a94ac" stroke-width="0.8" opacity="0.55" transform="rotate(127 403.0 207.2)"/>
<ellipse cx="414.4" cy="208.3" rx="7.4" ry="6.1" fill="#e4dfda" stroke="#9a94ac" stroke-width="0.8" opacity="0.55" transform="rotate(63 414.4 208.3)"/>
<ellipse cx="428.3" cy="206.7" rx="6.6" ry="6.8" fill="#e4dfda" stroke="#9a94ac" stroke-width="0.8" opacity="0.55" transform="rotate(47 428.3 206.7)"/>
<ellipse cx="369.6" cy="219.7" rx="6.1" ry="4.4" fill="#e4dfda" stroke="#9a94ac" stroke-width="0.8" opacity="0.55" transform="rotate(113 369.6 219.7)"/>
<ellipse cx="381.7" cy="219.6" rx="6.4" ry="4.8" fill="#e4dfda" stroke="#9a94ac" stroke-width="0.8" opacity="0.55" transform="rotate(70 381.7 219.6)"/>
<ellipse cx="394.6" cy="218.9" rx="5.6" ry="4.3" fill="#e4dfda" stroke="#9a94ac" stroke-width="0.8" opacity="0.55" transform="rotate(177 394.6 218.9)"/>
<ellipse cx="407.5" cy="218.6" rx="6.7" ry="5.1" fill="#e4dfda" stroke="#9a94ac" stroke-width="0.8" opacity="0.55" transform="rotate(169 407.5 218.6)"/>
<ellipse cx="422.6" cy="219.0" rx="6.2" ry="4.7" fill="#e4dfda" stroke="#9a94ac" stroke-width="0.8" opacity="0.55" transform="rotate(6 422.6 219.0)"/>
<ellipse cx="377.2" cy="230.8" rx="5.8" ry="4.2" fill="#e4dfda" stroke="#9a94ac" stroke-width="0.8" opacity="0.55" transform="rotate(41 377.2 230.8)"/>
<ellipse cx="389.3" cy="231.9" rx="7.2" ry="5.5" fill="#e4dfda" stroke="#9a94ac" stroke-width="0.8" opacity="0.55" transform="rotate(45 389.3 231.9)"/>
<ellipse cx="402.4" cy="230.0" rx="6.7" ry="6.8" fill="#e4dfda" stroke="#9a94ac" stroke-width="0.8" opacity="0.55" transform="rotate(52 402.4 230.0)"/>
<ellipse cx="415.2" cy="231.3" rx="7.0" ry="5.6" fill="#e4dfda" stroke="#9a94ac" stroke-width="0.8" opacity="0.55" transform="rotate(101 415.2 231.3)"/>
<ellipse cx="427.2" cy="230.0" rx="6.7" ry="6.9" fill="#e4dfda" stroke="#9a94ac" stroke-width="0.8" opacity="0.55" transform="rotate(136 427.2 230.0)"/>
<ellipse cx="370.4" cy="242.7" rx="6.5" ry="6.4" fill="#e4dfda" stroke="#9a94ac" stroke-width="0.8" opacity="0.55" transform="rotate(66 370.4 242.7)"/>
<ellipse cx="381.8" cy="242.6" rx="6.3" ry="6.5" fill="#e4dfda" stroke="#9a94ac" stroke-width="0.8" opacity="0.55" transform="rotate(98 381.8 242.6)"/>
<ellipse cx="394.8" cy="243.4" rx="7.0" ry="5.5" fill="#e4dfda" stroke="#9a94ac" stroke-width="0.8" opacity="0.55" transform="rotate(165 394.8 243.4)"/>
<ellipse cx="408.5" cy="241.7" rx="6.7" ry="5.0" fill="#e4dfda" stroke="#9a94ac" stroke-width="0.8" opacity="0.55" transform="rotate(168 408.5 241.7)"/>
<ellipse cx="422.3" cy="241.7" rx="6.4" ry="5.1" fill="#e4dfda" stroke="#9a94ac" stroke-width="0.8" opacity="0.55" transform="rotate(47 422.3 241.7)"/>
<rect x="376.00" y="200.20" width="48.90" height="48.50" fill="#000" filter="url(#nuc)" opacity="0.8"/>
</g>
<g clip-path="url(#c11)">
<rect x="426.80" y="200.20" width="48.60" height="48.50" fill="#cfc0b4"/>
<rect x="426.80" y="200.20" width="48.60" height="48.50" fill="#000" filter="url(#spkG)" opacity="0.6"/>
<rect x="426.80" y="200.20" width="48.60" height="48.50" fill="#000" filter="url(#spkB)" opacity="0.5"/>
<rect x="426.80" y="200.20" width="48.60" height="48.50" fill="#000" filter="url(#spkP)" opacity="0.7"/>
<ellipse cx="473.7" cy="200.8" rx="1.2" ry="0.8" fill="#b89878" opacity="0.36" transform="rotate(132 473.7 200.8)"/>
<ellipse cx="469.5" cy="233.2" rx="2.5" ry="0.5" fill="#b89878" opacity="0.45" transform="rotate(154 469.5 233.2)"/>
<ellipse cx="461.2" cy="213.8" rx="1.3" ry="0.7" fill="#b89878" opacity="0.61" transform="rotate(47 461.2 213.8)"/>
<ellipse cx="465.6" cy="211.0" rx="1.8" ry="0.5" fill="#b89878" opacity="0.49" transform="rotate(166 465.6 211.0)"/>
<ellipse cx="447.2" cy="204.0" rx="1.5" ry="0.6" fill="#b89878" opacity="0.63" transform="rotate(102 447.2 204.0)"/>
<ellipse cx="458.2" cy="219.8" rx="2.5" ry="0.6" fill="#b89878" opacity="0.63" transform="rotate(155 458.2 219.8)"/>
<ellipse cx="427.7" cy="207.0" rx="2.4" ry="0.7" fill="#b89878" opacity="0.57" transform="rotate(31 427.7 207.0)"/>
<ellipse cx="440.7" cy="224.2" rx="1.1" ry="0.4" fill="#b89878" opacity="0.36" transform="rotate(160 440.7 224.2)"/>
<ellipse cx="449.6" cy="241.0" rx="1.6" ry="0.6" fill="#b89878" opacity="0.40" transform="rotate(100 449.6 241.0)"/>
<ellipse cx="472.9" cy="217.4" rx="1.5" ry="0.7" fill="#b89878" opacity="0.45" transform="rotate(42 472.9 217.4)"/>
<ellipse cx="470.8" cy="216.5" rx="1.1" ry="0.8" fill="#b89878" opacity="0.59" transform="rotate(79 470.8 216.5)"/>
<ellipse cx="449.9" cy="205.8" rx="1.6" ry="0.7" fill="#b89878" opacity="0.63" transform="rotate(89 449.9 205.8)"/>
<ellipse cx="462.8" cy="214.1" rx="2.3" ry="0.8" fill="#b89878" opacity="0.40" transform="rotate(7 462.8 214.1)"/>
<ellipse cx="451.1" cy="223.5" rx="1.1" ry="0.4" fill="#b89878" opacity="0.60" transform="rotate(176 451.1 223.5)"/>
<ellipse cx="454.5" cy="222.6" rx="1.9" ry="0.7" fill="#b89878" opacity="0.43" transform="rotate(140 454.5 222.6)"/>
<rect x="426.80" y="200.20" width="48.60" height="48.50" fill="#000" filter="url(#nuc)" opacity="0.8"/>
</g>
<g clip-path="url(#c12)">
<rect x="476.80" y="200.20" width="49.10" height="48.50" fill="#c8ae98"/>
<rect x="476.80" y="200.20" width="49.10" height="48.50" fill="#000" filter="url(#spkG)" opacity="0.6"/>
<rect x="476.80" y="200.20" width="49.10" height="48.50" fill="#000" filter="url(#spkB)" opacity="0.6"/>
<rect x="476.80" y="200.20" width="49.10" height="48.50" fill="#000" filter="url(#spkP)" opacity="0.3"/>
<ellipse cx="494.6" cy="223.5" rx="1.7" ry="0.6" fill="#a88060" opacity="0.55" transform="rotate(75 494.6 223.5)"/>
<ellipse cx="489.5" cy="231.0" rx="1.5" ry="0.5" fill="#a88060" opacity="0.39" transform="rotate(2 489.5 231.0)"/>
<ellipse cx="513.3" cy="215.2" rx="2.4" ry="0.5" fill="#a88060" opacity="0.62" transform="rotate(142 513.3 215.2)"/>
<ellipse cx="516.5" cy="232.6" rx="1.7" ry="0.7" fill="#a88060" opacity="0.44" transform="rotate(5 516.5 232.6)"/>
<ellipse cx="487.8" cy="215.2" rx="2.2" ry="0.5" fill="#a88060" opacity="0.48" transform="rotate(46 487.8 215.2)"/>
<ellipse cx="508.4" cy="246.2" rx="1.1" ry="0.8" fill="#a88060" opacity="0.60" transform="rotate(53 508.4 246.2)"/>
<ellipse cx="515.6" cy="225.6" rx="1.2" ry="0.5" fill="#a88060" opacity="0.49" transform="rotate(42 515.6 225.6)"/>
<ellipse cx="480.0" cy="234.1" rx="1.0" ry="0.7" fill="#a88060" opacity="0.50" transform="rotate(131 480.0 234.1)"/>
<ellipse cx="521.9" cy="223.2" rx="1.7" ry="0.6" fill="#a88060" opacity="0.50" transform="rotate(143 521.9 223.2)"/>
<ellipse cx="477.9" cy="207.2" rx="1.6" ry="0.5" fill="#a88060" opacity="0.51" transform="rotate(42 477.9 207.2)"/>
<ellipse cx="509.2" cy="219.6" rx="1.8" ry="0.8" fill="#a88060" opacity="0.58" transform="rotate(57 509.2 219.6)"/>
<ellipse cx="509.0" cy="239.8" rx="1.2" ry="0.4" fill="#a88060" opacity="0.39" transform="rotate(41 509.0 239.8)"/>
<ellipse cx="477.2" cy="230.5" rx="1.2" ry="0.7" fill="#a88060" opacity="0.63" transform="rotate(165 477.2 230.5)"/>
<ellipse cx="514.4" cy="207.6" rx="1.4" ry="0.5" fill="#a88060" opacity="0.35" transform="rotate(115 514.4 207.6)"/>
<ellipse cx="502.6" cy="244.8" rx="1.2" ry="0.6" fill="#a88060" opacity="0.36" transform="rotate(19 502.6 244.8)"/>
<ellipse cx="499.6" cy="235.6" rx="1.1" ry="0.4" fill="#a88060" opacity="0.41" transform="rotate(83 499.6 235.6)"/>
<ellipse cx="509.6" cy="245.1" rx="1.2" ry="0.5" fill="#a88060" opacity="0.47" transform="rotate(91 509.6 245.1)"/>
<ellipse cx="482.1" cy="205.8" rx="2.3" ry="0.5" fill="#a88060" opacity="0.61" transform="rotate(78 482.1 205.8)"/>
<ellipse cx="519.8" cy="221.2" rx="1.3" ry="0.7" fill="#a88060" opacity="0.60" transform="rotate(40 519.8 221.2)"/>
<ellipse cx="519.1" cy="210.3" rx="1.0" ry="0.5" fill="#a88060" opacity="0.44" transform="rotate(77 519.1 210.3)"/>
<ellipse cx="482.9" cy="203.9" rx="1.5" ry="0.6" fill="#a88060" opacity="0.51" transform="rotate(179 482.9 203.9)"/>
<ellipse cx="500.0" cy="228.8" rx="1.7" ry="0.4" fill="#a88060" opacity="0.54" transform="rotate(90 500.0 228.8)"/>
<ellipse cx="509.6" cy="235.3" rx="1.7" ry="0.7" fill="#a88060" opacity="0.57" transform="rotate(56 509.6 235.3)"/>
<ellipse cx="479.4" cy="216.4" rx="2.1" ry="0.6" fill="#a88060" opacity="0.47" transform="rotate(31 479.4 216.4)"/>
<ellipse cx="487.7" cy="222.2" rx="1.9" ry="0.5" fill="#a88060" opacity="0.47" transform="rotate(129 487.7 222.2)"/>
<rect x="476.80" y="200.20" width="49.10" height="48.50" fill="#000" filter="url(#nuc)" opacity="0.4"/>
</g>
<g clip-path="url(#c13)">
<path d="M465.6,165.2 L465.6,168.4 L464.5,168.2 L466.9,169.3 L466.1,170.6" fill="none" stroke="#e8e0d8" stroke-width="2.500867687191044" stroke-linecap="round" stroke-linejoin="round" opacity="0.45"/>
<path d="M468.2,150.6 L473.8,147.3 L478.3,147.4 L483.0,144.2 L483.6,140.1" fill="none" stroke="#e8e0d8" stroke-width="2.8902068433500503" stroke-linecap="round" stroke-linejoin="round" opacity="0.45"/>
<path d="M452.8,159.3 L452.3,155.1 L451.9,155.7 L453.4,157.7 L452.0,161.1" fill="none" stroke="#e8e0d8" stroke-width="3.1749180226799347" stroke-linecap="round" stroke-linejoin="round" opacity="0.45"/>
<path d="M462.7,185.7 L467.5,181.6 L469.2,177.4 L473.5,177.8 L472.3,177.3" fill="none" stroke="#e8e0d8" stroke-width="2.887578494009533" stroke-linecap="round" stroke-linejoin="round" opacity="0.45"/>
<path d="M453.6,155.2 L459.1,150.7 L463.9,155.5 L467.9,159.9 L470.1,157.1" fill="none" stroke="#e8e0d8" stroke-width="2.461204431680601" stroke-linecap="round" stroke-linejoin="round" opacity="0.45"/>
<path d="M462.7,186.9 L463.7,191.4 L462.0,191.4 L460.3,189.9 L466.3,186.1" fill="none" stroke="#e8e0d8" stroke-width="3.1798780285240733" stroke-linecap="round" stroke-linejoin="round" opacity="0.45"/>
<path d="M470.8,183.0 L469.2,182.7 L472.8,178.7 L473.2,174.6 L477.9,178.7" fill="none" stroke="#e8e0d8" stroke-width="3.093128466169665" stroke-linecap="round" stroke-linejoin="round" opacity="0.45"/>
</g>
<g clip-path="url(#c14)">
<path d="M463.3,228.1 L461.8,227.9 L465.9,230.5 L464.1,225.6 L462.8,229.8" fill="none" stroke="#ebe5de" stroke-width="1.9588378713256063" stroke-linecap="round" stroke-linejoin="round" opacity="0.45"/>
<path d="M445.8,223.3 L450.8,219.6 L450.9,222.4 L449.6,219.0 L447.8,223.6" fill="none" stroke="#ebe5de" stroke-width="2.1266865666105286" stroke-linecap="round" stroke-linejoin="round" opacity="0.45"/>
<path d="M451.2,218.6 L457.0,220.7 L459.8,220.6 L460.0,224.0 L458.8,225.2" fill="none" stroke="#ebe5de" stroke-width="2.2130598810116675" stroke-linecap="round" stroke-linejoin="round" opacity="0.45"/>
<path d="M440.2,222.2 L439.7,223.1 L438.3,218.3 L437.4,214.2 L442.5,214.3" fill="none" stroke="#ebe5de" stroke-width="2.750229276093234" stroke-linecap="round" stroke-linejoin="round" opacity="0.45"/>
<path d="M464.7,208.2 L470.3,207.1 L472.0,206.9 L475.5,209.6 L475.1,212.9" fill="none" stroke="#ebe5de" stroke-width="2.39935595380979" stroke-linecap="round" stroke-linejoin="round" opacity="0.45"/>
<path d="M439.0,242.1 L444.0,245.7 L444.6,249.8 L448.8,254.5 L452.8,259.5" fill="none" stroke="#ebe5de" stroke-width="2.4693016274201156" stroke-linecap="round" stroke-linejoin="round" opacity="0.45"/>
</g>
<g clip-path="url(#c15)">
<path d="M513.6,238.1 L515.8,238.1 L517.0,241.8 L518.0,244.3 L520.5,246.4" fill="none" stroke="#e0d4c8" stroke-width="2.2328566602979762" stroke-linecap="round" stroke-linejoin="round" opacity="0.45"/>
<path d="M480.7,232.9 L479.8,231.5 L484.1,227.0 L489.4,227.9 L491.9,229.7" fill="none" stroke="#e0d4c8" stroke-width="1.8797460104435129" stroke-linecap="round" stroke-linejoin="round" opacity="0.45"/>
<path d="M477.9,235.1 L480.6,236.5 L485.2,234.3 L484.5,238.9 L482.9,239.1" fill="none" stroke="#e0d4c8" stroke-width="2.6735504360202764" stroke-linecap="round" stroke-linejoin="round" opacity="0.45"/>
<path d="M523.7,204.4 L527.3,200.2 L528.9,201.4 L533.7,196.9 L537.7,193.4" fill="none" stroke="#e0d4c8" stroke-width="2.366564200100267" stroke-linecap="round" stroke-linejoin="round" opacity="0.45"/>
</g>
<line x1="415.90" y1="196.50" x2="422.90" y2="196.50" stroke="#222" stroke-width="1.2"/>
<line x1="405.90" y1="246.80" x2="422.90" y2="246.80" stroke="#222" stroke-width="1.2"/>
<line x1="466.40" y1="196.50" x2="473.40" y2="196.50" stroke="#222" stroke-width="1.2"/>
<line x1="456.40" y1="246.80" x2="473.40" y2="246.80" stroke="#222" stroke-width="1.2"/>
<line x1="516.90" y1="196.50" x2="523.90" y2="196.50" stroke="#222" stroke-width="1.2"/>
<line x1="506.90" y1="246.80" x2="523.90" y2="246.80" stroke="#222" stroke-width="1.2"/>
<rect x="395.00" y="166.40" width="20.50" height="19.90" fill="none" stroke="#e42a9e" stroke-width="1.3" stroke-dasharray="1.5 1.3"/>
<line x1="395.00" y1="186.30" x2="376.20" y2="199.20" stroke="#e42a9e" stroke-width="1.3" stroke-dasharray="1.5 1.3"/>
<line x1="415.50" y1="186.30" x2="424.90" y2="199.20" stroke="#e42a9e" stroke-width="1.3" stroke-dasharray="1.5 1.3"/>
<rect x="449.00" y="166.40" width="20.30" height="19.40" fill="none" stroke="#e42a9e" stroke-width="1.3" stroke-dasharray="1.5 1.3"/>
<line x1="449.00" y1="185.80" x2="427.00" y2="199.20" stroke="#e42a9e" stroke-width="1.3" stroke-dasharray="1.5 1.3"/>
<line x1="469.30" y1="185.80" x2="475.40" y2="199.20" stroke="#e42a9e" stroke-width="1.3" stroke-dasharray="1.5 1.3"/>
<rect x="478.70" y="173.30" width="21.10" height="18.90" fill="none" stroke="#e42a9e" stroke-width="1.3" stroke-dasharray="1.5 1.3"/>
<line x1="478.70" y1="192.20" x2="477.00" y2="199.20" stroke="#e42a9e" stroke-width="1.3" stroke-dasharray="1.5 1.3"/>
<line x1="499.80" y1="192.20" x2="525.90" y2="199.20" stroke="#e42a9e" stroke-width="1.3" stroke-dasharray="1.5 1.3"/>
<text x="525.90" y="254.30" font-size="7.2" text-anchor="end">100 μm</text>
<line x1="244.70" y1="186.18" x2="280.32" y2="214.76" stroke="#9a9a9a" stroke-width="0.35"/>
<line x1="245.94" y1="218.38" x2="279.70" y2="171.94" stroke="#9a9a9a" stroke-width="0.35"/>
<line x1="243.38" y1="211.23" x2="280.12" y2="203.07" stroke="#9a9a9a" stroke-width="0.35"/>
<line x1="244.60" y1="223.56" x2="280.07" y2="201.36" stroke="#9a9a9a" stroke-width="0.35"/>
<line x1="245.82" y1="200.55" x2="278.42" y2="190.69" stroke="#9a9a9a" stroke-width="0.35"/>
<line x1="243.62" y1="213.80" x2="278.45" y2="210.25" stroke="#9a9a9a" stroke-width="0.35"/>
<line x1="244.82" y1="215.47" x2="278.67" y2="202.85" stroke="#9a9a9a" stroke-width="0.35"/>
<line x1="244.91" y1="209.18" x2="278.84" y2="206.29" stroke="#9a9a9a" stroke-width="0.35"/>
<line x1="244.08" y1="205.25" x2="278.40" y2="198.84" stroke="#9a9a9a" stroke-width="0.35"/>
<line x1="245.87" y1="209.80" x2="280.01" y2="212.48" stroke="#9a9a9a" stroke-width="0.35"/>
<line x1="245.53" y1="209.80" x2="279.95" y2="202.10" stroke="#9a9a9a" stroke-width="0.35"/>
<line x1="243.69" y1="214.39" x2="278.30" y2="202.51" stroke="#9a9a9a" stroke-width="0.35"/>
<line x1="243.30" y1="212.95" x2="279.44" y2="184.80" stroke="#9a9a9a" stroke-width="0.35"/>
<line x1="245.74" y1="212.70" x2="278.62" y2="205.61" stroke="#9a9a9a" stroke-width="0.35"/>
<line x1="246.05" y1="208.96" x2="280.63" y2="194.98" stroke="#9a9a9a" stroke-width="0.35"/>
<line x1="245.74" y1="205.41" x2="280.02" y2="205.67" stroke="#9a9a9a" stroke-width="0.35"/>
<line x1="244.81" y1="214.65" x2="278.57" y2="202.26" stroke="#9a9a9a" stroke-width="0.35"/>
<line x1="245.20" y1="196.86" x2="279.93" y2="211.76" stroke="#9a9a9a" stroke-width="0.35"/>
<line x1="245.23" y1="205.46" x2="280.98" y2="206.25" stroke="#9a9a9a" stroke-width="0.35"/>
<line x1="246.01" y1="196.86" x2="280.58" y2="200.11" stroke="#9a9a9a" stroke-width="0.35"/>
<line x1="244.31" y1="205.50" x2="280.10" y2="212.41" stroke="#9a9a9a" stroke-width="0.35"/>
<line x1="243.76" y1="213.92" x2="279.97" y2="207.34" stroke="#9a9a9a" stroke-width="0.35"/>
<line x1="244.14" y1="208.62" x2="279.88" y2="200.38" stroke="#9a9a9a" stroke-width="0.35"/>
<line x1="244.99" y1="208.14" x2="280.00" y2="182.62" stroke="#9a9a9a" stroke-width="0.35"/>
<line x1="244.25" y1="199.49" x2="279.28" y2="210.18" stroke="#9a9a9a" stroke-width="0.35"/>
<line x1="244.17" y1="209.98" x2="278.60" y2="203.68" stroke="#9a9a9a" stroke-width="0.35"/>
<line x1="244.18" y1="206.81" x2="279.88" y2="204.22" stroke="#9a9a9a" stroke-width="0.35"/>
<line x1="244.65" y1="217.62" x2="280.06" y2="207.65" stroke="#9a9a9a" stroke-width="0.35"/>
<line x1="246.03" y1="210.90" x2="280.80" y2="207.23" stroke="#9a9a9a" stroke-width="0.35"/>
<line x1="243.36" y1="212.55" x2="278.93" y2="210.71" stroke="#9a9a9a" stroke-width="0.35"/>
<line x1="243.35" y1="210.23" x2="279.12" y2="197.33" stroke="#9a9a9a" stroke-width="0.35"/>
<line x1="245.51" y1="223.56" x2="280.99" y2="195.41" stroke="#9a9a9a" stroke-width="0.35"/>
<line x1="243.33" y1="216.45" x2="280.86" y2="205.48" stroke="#9a9a9a" stroke-width="0.35"/>
<line x1="243.43" y1="203.24" x2="281.05" y2="209.67" stroke="#9a9a9a" stroke-width="0.35"/>
<line x1="243.85" y1="202.75" x2="279.69" y2="207.89" stroke="#9a9a9a" stroke-width="0.35"/>
<line x1="245.42" y1="196.86" x2="281.06" y2="210.71" stroke="#9a9a9a" stroke-width="0.35"/>
<line x1="244.26" y1="196.86" x2="279.68" y2="200.03" stroke="#9a9a9a" stroke-width="0.35"/>
<line x1="244.29" y1="217.48" x2="278.64" y2="206.28" stroke="#9a9a9a" stroke-width="0.35"/>
<line x1="243.60" y1="222.37" x2="280.04" y2="194.11" stroke="#9a9a9a" stroke-width="0.35"/>
<line x1="245.40" y1="212.11" x2="280.49" y2="210.93" stroke="#9a9a9a" stroke-width="0.35"/>
<line x1="243.40" y1="206.08" x2="280.62" y2="201.40" stroke="#9a9a9a" stroke-width="0.35"/>
<line x1="245.95" y1="223.56" x2="279.07" y2="193.04" stroke="#9a9a9a" stroke-width="0.35"/>
<line x1="245.01" y1="204.75" x2="280.92" y2="203.07" stroke="#9a9a9a" stroke-width="0.35"/>
<line x1="245.87" y1="206.69" x2="279.05" y2="202.65" stroke="#9a9a9a" stroke-width="0.35"/>
<line x1="244.83" y1="218.87" x2="278.73" y2="210.53" stroke="#9a9a9a" stroke-width="0.35"/>
<line x1="244.17" y1="196.86" x2="280.00" y2="196.58" stroke="#9a9a9a" stroke-width="0.35"/>
<line x1="243.52" y1="212.02" x2="279.63" y2="204.50" stroke="#9a9a9a" stroke-width="0.35"/>
<line x1="243.72" y1="206.15" x2="280.38" y2="211.41" stroke="#9a9a9a" stroke-width="0.35"/>
<line x1="243.75" y1="219.19" x2="278.63" y2="213.54" stroke="#9a9a9a" stroke-width="0.35"/>
<line x1="243.44" y1="223.56" x2="279.79" y2="203.49" stroke="#9a9a9a" stroke-width="0.35"/>
<line x1="244.44" y1="201.45" x2="279.24" y2="211.49" stroke="#9a9a9a" stroke-width="0.35"/>
<line x1="243.96" y1="210.94" x2="279.60" y2="207.15" stroke="#9a9a9a" stroke-width="0.35"/>
<line x1="244.58" y1="221.28" x2="279.31" y2="193.52" stroke="#9a9a9a" stroke-width="0.35"/>
<line x1="244.48" y1="217.63" x2="278.40" y2="204.35" stroke="#9a9a9a" stroke-width="0.35"/>
<line x1="243.39" y1="196.86" x2="279.01" y2="215.87" stroke="#9a9a9a" stroke-width="0.35"/>
<line x1="244.68" y1="204.77" x2="280.79" y2="223.05" stroke="#9a9a9a" stroke-width="0.35"/>
<line x1="245.35" y1="208.22" x2="279.83" y2="198.52" stroke="#9a9a9a" stroke-width="0.35"/>
<line x1="245.96" y1="213.41" x2="279.50" y2="188.59" stroke="#9a9a9a" stroke-width="0.35"/>
<line x1="243.60" y1="218.77" x2="279.91" y2="202.57" stroke="#9a9a9a" stroke-width="0.35"/>
<line x1="244.52" y1="219.37" x2="279.65" y2="207.25" stroke="#9a9a9a" stroke-width="0.35"/>
<line x1="244.13" y1="202.08" x2="280.85" y2="216.14" stroke="#9a9a9a" stroke-width="0.35"/>
<line x1="244.57" y1="199.13" x2="280.69" y2="210.66" stroke="#9a9a9a" stroke-width="0.35"/>
<line x1="246.03" y1="196.86" x2="278.85" y2="198.13" stroke="#9a9a9a" stroke-width="0.35"/>
<line x1="244.57" y1="210.27" x2="278.48" y2="208.80" stroke="#9a9a9a" stroke-width="0.35"/>
<line x1="244.64" y1="221.69" x2="280.64" y2="187.93" stroke="#9a9a9a" stroke-width="0.35"/>
<line x1="244.11" y1="209.35" x2="279.10" y2="207.21" stroke="#9a9a9a" stroke-width="0.35"/>
<line x1="244.36" y1="213.51" x2="280.49" y2="212.89" stroke="#9a9a9a" stroke-width="0.35"/>
<line x1="246.07" y1="207.93" x2="279.64" y2="199.80" stroke="#9a9a9a" stroke-width="0.35"/>
<line x1="244.70" y1="200.53" x2="279.84" y2="206.61" stroke="#9a9a9a" stroke-width="0.35"/>
<line x1="244.25" y1="212.71" x2="278.73" y2="211.96" stroke="#9a9a9a" stroke-width="0.35"/>
<line x1="245.49" y1="205.40" x2="279.94" y2="203.86" stroke="#9a9a9a" stroke-width="0.35"/>
<line x1="245.73" y1="207.19" x2="278.94" y2="202.71" stroke="#9a9a9a" stroke-width="0.35"/>
<line x1="245.47" y1="218.26" x2="280.59" y2="207.08" stroke="#9a9a9a" stroke-width="0.35"/>
<line x1="245.24" y1="200.64" x2="278.37" y2="200.57" stroke="#9a9a9a" stroke-width="0.35"/>
<line x1="244.32" y1="216.39" x2="280.32" y2="216.67" stroke="#9a9a9a" stroke-width="0.35"/>
<line x1="245.27" y1="220.52" x2="280.26" y2="182.62" stroke="#9a9a9a" stroke-width="0.35"/>
<line x1="245.46" y1="211.79" x2="278.44" y2="208.23" stroke="#9a9a9a" stroke-width="0.35"/>
<line x1="245.23" y1="202.15" x2="280.11" y2="200.56" stroke="#9a9a9a" stroke-width="0.35"/>
<line x1="245.12" y1="214.88" x2="280.97" y2="209.22" stroke="#9a9a9a" stroke-width="0.35"/>
<line x1="244.93" y1="196.86" x2="279.12" y2="205.10" stroke="#9a9a9a" stroke-width="0.35"/>
<line x1="244.00" y1="201.27" x2="280.87" y2="208.63" stroke="#9a9a9a" stroke-width="0.35"/>
<line x1="245.18" y1="209.56" x2="279.46" y2="196.78" stroke="#9a9a9a" stroke-width="0.35"/>
<line x1="245.11" y1="222.97" x2="278.75" y2="194.10" stroke="#9a9a9a" stroke-width="0.35"/>
<line x1="245.53" y1="207.18" x2="278.60" y2="205.89" stroke="#9a9a9a" stroke-width="0.35"/>
<line x1="245.37" y1="216.11" x2="279.36" y2="205.83" stroke="#9a9a9a" stroke-width="0.35"/>
<line x1="245.62" y1="201.85" x2="279.91" y2="201.22" stroke="#9a9a9a" stroke-width="0.35"/>
<line x1="245.74" y1="218.26" x2="280.38" y2="202.64" stroke="#9a9a9a" stroke-width="0.35"/>
<line x1="245.23" y1="199.13" x2="279.51" y2="200.53" stroke="#9a9a9a" stroke-width="0.35"/>
<line x1="244.75" y1="196.86" x2="279.18" y2="207.29" stroke="#9a9a9a" stroke-width="0.35"/>
<line x1="244.78" y1="212.87" x2="280.93" y2="212.32" stroke="#9a9a9a" stroke-width="0.35"/>
<line x1="245.92" y1="203.40" x2="279.35" y2="210.06" stroke="#9a9a9a" stroke-width="0.35"/>
<line x1="244.64" y1="198.49" x2="278.72" y2="191.06" stroke="#9a9a9a" stroke-width="0.35"/>
<line x1="245.34" y1="214.30" x2="280.07" y2="199.26" stroke="#9a9a9a" stroke-width="0.35"/>
<line x1="243.78" y1="220.81" x2="279.85" y2="223.52" stroke="#9a9a9a" stroke-width="0.35"/>
<line x1="245.16" y1="208.43" x2="280.04" y2="204.70" stroke="#9a9a9a" stroke-width="0.35"/>
<line x1="244.48" y1="219.43" x2="279.01" y2="204.92" stroke="#9a9a9a" stroke-width="0.35"/>
<line x1="245.08" y1="218.97" x2="280.40" y2="192.75" stroke="#9a9a9a" stroke-width="0.35"/>
<line x1="280.32" y1="214.76" x2="315.20" y2="182.62" stroke="#9a9a9a" stroke-width="0.35"/>
<line x1="279.70" y1="171.94" x2="315.70" y2="186.18" stroke="#9a9a9a" stroke-width="0.35"/>
<line x1="280.12" y1="203.07" x2="315.80" y2="200.70" stroke="#9a9a9a" stroke-width="0.35"/>
<line x1="280.07" y1="201.36" x2="315.63" y2="203.77" stroke="#9a9a9a" stroke-width="0.35"/>
<line x1="278.42" y1="190.69" x2="314.06" y2="193.60" stroke="#9a9a9a" stroke-width="0.35"/>
<line x1="278.45" y1="210.25" x2="314.15" y2="196.37" stroke="#9a9a9a" stroke-width="0.35"/>
<line x1="278.67" y1="202.85" x2="316.26" y2="203.70" stroke="#9a9a9a" stroke-width="0.35"/>
<line x1="278.84" y1="206.29" x2="315.15" y2="202.62" stroke="#9a9a9a" stroke-width="0.35"/>
<line x1="278.40" y1="198.84" x2="313.88" y2="204.65" stroke="#9a9a9a" stroke-width="0.35"/>
<line x1="280.01" y1="212.48" x2="315.83" y2="193.30" stroke="#9a9a9a" stroke-width="0.35"/>
<line x1="279.95" y1="202.10" x2="316.47" y2="197.54" stroke="#9a9a9a" stroke-width="0.35"/>
<line x1="278.30" y1="202.51" x2="315.71" y2="199.41" stroke="#9a9a9a" stroke-width="0.35"/>
<line x1="279.44" y1="184.80" x2="316.52" y2="199.97" stroke="#9a9a9a" stroke-width="0.35"/>
<line x1="278.62" y1="205.61" x2="315.66" y2="197.81" stroke="#9a9a9a" stroke-width="0.35"/>
<line x1="280.63" y1="194.98" x2="315.55" y2="199.16" stroke="#9a9a9a" stroke-width="0.35"/>
<line x1="280.02" y1="205.67" x2="314.79" y2="203.07" stroke="#9a9a9a" stroke-width="0.35"/>
<rect x="231.40" y="205.23" width="26.60" height="9.43" fill="none" stroke="#30609a" stroke-width="0.9" opacity="0.85"/>
<line x1="231.40" y1="210.21" x2="258.00" y2="210.21" stroke="#30609a" stroke-width="1.1"/>
<rect x="266.40" y="196.33" width="26.60" height="12.99" fill="none" stroke="#f8696b" stroke-width="0.9" opacity="0.85"/>
<line x1="266.40" y1="203.62" x2="293.00" y2="203.62" stroke="#f8696b" stroke-width="1.1"/>
<rect x="301.90" y="196.86" width="26.60" height="5.34" fill="none" stroke="#8dc63f" stroke-width="0.9" opacity="0.85"/>
<line x1="301.90" y1="200.42" x2="328.50" y2="200.42" stroke="#8dc63f" stroke-width="1.1"/>
<circle cx="244.70" cy="186.18" r="0.85" fill="#30609a" opacity="0.8"/>
<circle cx="245.94" cy="218.38" r="0.85" fill="#30609a" opacity="0.8"/>
<circle cx="243.38" cy="211.23" r="0.85" fill="#30609a" opacity="0.8"/>
<circle cx="244.60" cy="223.56" r="0.85" fill="#30609a" opacity="0.8"/>
<circle cx="245.82" cy="200.55" r="0.85" fill="#30609a" opacity="0.8"/>
<circle cx="243.62" cy="213.80" r="0.85" fill="#30609a" opacity="0.8"/>
<circle cx="244.82" cy="215.47" r="0.85" fill="#30609a" opacity="0.8"/>
<circle cx="244.91" cy="209.18" r="0.85" fill="#30609a" opacity="0.8"/>
<circle cx="244.08" cy="205.25" r="0.85" fill="#30609a" opacity="0.8"/>
<circle cx="245.87" cy="209.80" r="0.85" fill="#30609a" opacity="0.8"/>
<circle cx="245.53" cy="209.80" r="0.85" fill="#30609a" opacity="0.8"/>
<circle cx="243.69" cy="214.39" r="0.85" fill="#30609a" opacity="0.8"/>
<circle cx="243.30" cy="212.95" r="0.85" fill="#30609a" opacity="0.8"/>
<circle cx="245.74" cy="212.70" r="0.85" fill="#30609a" opacity="0.8"/>
<circle cx="246.05" cy="208.96" r="0.85" fill="#30609a" opacity="0.8"/>
<circle cx="245.74" cy="205.41" r="0.85" fill="#30609a" opacity="0.8"/>
<circle cx="244.81" cy="214.65" r="0.85" fill="#30609a" opacity="0.8"/>
<circle cx="245.20" cy="196.86" r="0.85" fill="#30609a" opacity="0.8"/>
<circle cx="245.23" cy="205.46" r="0.85" fill="#30609a" opacity="0.8"/>
<circle cx="246.01" cy="196.86" r="0.85" fill="#30609a" opacity="0.8"/>
<circle cx="244.31" cy="205.50" r="0.85" fill="#30609a" opacity="0.8"/>
<circle cx="243.76" cy="213.92" r="0.85" fill="#30609a" opacity="0.8"/>
<circle cx="244.14" cy="208.62" r="0.85" fill="#30609a" opacity="0.8"/>
<circle cx="244.99" cy="208.14" r="0.85" fill="#30609a" opacity="0.8"/>
<circle cx="244.25" cy="199.49" r="0.85" fill="#30609a" opacity="0.8"/>
<circle cx="244.17" cy="209.98" r="0.85" fill="#30609a" opacity="0.8"/>
<circle cx="244.18" cy="206.81" r="0.85" fill="#30609a" opacity="0.8"/>
<circle cx="244.65" cy="217.62" r="0.85" fill="#30609a" opacity="0.8"/>
<circle cx="246.03" cy="210.90" r="0.85" fill="#30609a" opacity="0.8"/>
<circle cx="243.36" cy="212.55" r="0.85" fill="#30609a" opacity="0.8"/>
<circle cx="243.35" cy="210.23" r="0.85" fill="#30609a" opacity="0.8"/>
<circle cx="245.51" cy="223.56" r="0.85" fill="#30609a" opacity="0.8"/>
<circle cx="243.33" cy="216.45" r="0.85" fill="#30609a" opacity="0.8"/>
<circle cx="243.43" cy="203.24" r="0.85" fill="#30609a" opacity="0.8"/>
<circle cx="243.85" cy="202.75" r="0.85" fill="#30609a" opacity="0.8"/>
<circle cx="245.42" cy="196.86" r="0.85" fill="#30609a" opacity="0.8"/>
<circle cx="244.26" cy="196.86" r="0.85" fill="#30609a" opacity="0.8"/>
<circle cx="244.29" cy="217.48" r="0.85" fill="#30609a" opacity="0.8"/>
<circle cx="243.60" cy="222.37" r="0.85" fill="#30609a" opacity="0.8"/>
<circle cx="245.40" cy="212.11" r="0.85" fill="#30609a" opacity="0.8"/>
<circle cx="243.40" cy="206.08" r="0.85" fill="#30609a" opacity="0.8"/>
<circle cx="245.95" cy="223.56" r="0.85" fill="#30609a" opacity="0.8"/>
<circle cx="245.01" cy="204.75" r="0.85" fill="#30609a" opacity="0.8"/>
<circle cx="245.87" cy="206.69" r="0.85" fill="#30609a" opacity="0.8"/>
<circle cx="244.83" cy="218.87" r="0.85" fill="#30609a" opacity="0.8"/>
<circle cx="244.17" cy="196.86" r="0.85" fill="#30609a" opacity="0.8"/>
<circle cx="243.52" cy="212.02" r="0.85" fill="#30609a" opacity="0.8"/>
<circle cx="243.72" cy="206.15" r="0.85" fill="#30609a" opacity="0.8"/>
<circle cx="243.75" cy="219.19" r="0.85" fill="#30609a" opacity="0.8"/>
<circle cx="243.44" cy="223.56" r="0.85" fill="#30609a" opacity="0.8"/>
<circle cx="244.44" cy="201.45" r="0.85" fill="#30609a" opacity="0.8"/>
<circle cx="243.96" cy="210.94" r="0.85" fill="#30609a" opacity="0.8"/>
<circle cx="244.58" cy="221.28" r="0.85" fill="#30609a" opacity="0.8"/>
<circle cx="244.48" cy="217.63" r="0.85" fill="#30609a" opacity="0.8"/>
<circle cx="243.39" cy="196.86" r="0.85" fill="#30609a" opacity="0.8"/>
<circle cx="244.68" cy="204.77" r="0.85" fill="#30609a" opacity="0.8"/>
<circle cx="245.35" cy="208.22" r="0.85" fill="#30609a" opacity="0.8"/>
<circle cx="245.96" cy="213.41" r="0.85" fill="#30609a" opacity="0.8"/>
<circle cx="243.60" cy="218.77" r="0.85" fill="#30609a" opacity="0.8"/>
<circle cx="244.52" cy="219.37" r="0.85" fill="#30609a" opacity="0.8"/>
<circle cx="244.13" cy="202.08" r="0.85" fill="#30609a" opacity="0.8"/>
<circle cx="244.57" cy="199.13" r="0.85" fill="#30609a" opacity="0.8"/>
<circle cx="246.03" cy="196.86" r="0.85" fill="#30609a" opacity="0.8"/>
<circle cx="244.57" cy="210.27" r="0.85" fill="#30609a" opacity="0.8"/>
<circle cx="244.64" cy="221.69" r="0.85" fill="#30609a" opacity="0.8"/>
<circle cx="244.11" cy="209.35" r="0.85" fill="#30609a" opacity="0.8"/>
<circle cx="244.36" cy="213.51" r="0.85" fill="#30609a" opacity="0.8"/>
<circle cx="246.07" cy="207.93" r="0.85" fill="#30609a" opacity="0.8"/>
<circle cx="244.70" cy="200.53" r="0.85" fill="#30609a" opacity="0.8"/>
<circle cx="244.25" cy="212.71" r="0.85" fill="#30609a" opacity="0.8"/>
<circle cx="245.49" cy="205.40" r="0.85" fill="#30609a" opacity="0.8"/>
<circle cx="245.73" cy="207.19" r="0.85" fill="#30609a" opacity="0.8"/>
<circle cx="245.47" cy="218.26" r="0.85" fill="#30609a" opacity="0.8"/>
<circle cx="245.24" cy="200.64" r="0.85" fill="#30609a" opacity="0.8"/>
<circle cx="244.32" cy="216.39" r="0.85" fill="#30609a" opacity="0.8"/>
<circle cx="245.27" cy="220.52" r="0.85" fill="#30609a" opacity="0.8"/>
<circle cx="245.46" cy="211.79" r="0.85" fill="#30609a" opacity="0.8"/>
<circle cx="245.23" cy="202.15" r="0.85" fill="#30609a" opacity="0.8"/>
<circle cx="245.12" cy="214.88" r="0.85" fill="#30609a" opacity="0.8"/>
<circle cx="244.93" cy="196.86" r="0.85" fill="#30609a" opacity="0.8"/>
<circle cx="244.00" cy="201.27" r="0.85" fill="#30609a" opacity="0.8"/>
<circle cx="245.18" cy="209.56" r="0.85" fill="#30609a" opacity="0.8"/>
<circle cx="245.11" cy="222.97" r="0.85" fill="#30609a" opacity="0.8"/>
<circle cx="245.53" cy="207.18" r="0.85" fill="#30609a" opacity="0.8"/>
<circle cx="245.37" cy="216.11" r="0.85" fill="#30609a" opacity="0.8"/>
<circle cx="245.62" cy="201.85" r="0.85" fill="#30609a" opacity="0.8"/>
<circle cx="245.74" cy="218.26" r="0.85" fill="#30609a" opacity="0.8"/>
<circle cx="245.23" cy="199.13" r="0.85" fill="#30609a" opacity="0.8"/>
<circle cx="244.75" cy="196.86" r="0.85" fill="#30609a" opacity="0.8"/>
<circle cx="244.78" cy="212.87" r="0.85" fill="#30609a" opacity="0.8"/>
<circle cx="245.92" cy="203.40" r="0.85" fill="#30609a" opacity="0.8"/>
<circle cx="244.64" cy="198.49" r="0.85" fill="#30609a" opacity="0.8"/>
<circle cx="245.34" cy="214.30" r="0.85" fill="#30609a" opacity="0.8"/>
<circle cx="243.78" cy="220.81" r="0.85" fill="#30609a" opacity="0.8"/>
<circle cx="245.16" cy="208.43" r="0.85" fill="#30609a" opacity="0.8"/>
<circle cx="244.48" cy="219.43" r="0.85" fill="#30609a" opacity="0.8"/>
<circle cx="245.08" cy="218.97" r="0.85" fill="#30609a" opacity="0.8"/>
<circle cx="280.32" cy="214.76" r="0.85" fill="#f8696b" opacity="0.8"/>
<circle cx="279.70" cy="171.94" r="0.85" fill="#f8696b" opacity="0.8"/>
<circle cx="280.12" cy="203.07" r="0.85" fill="#f8696b" opacity="0.8"/>
<circle cx="280.07" cy="201.36" r="0.85" fill="#f8696b" opacity="0.8"/>
<circle cx="278.42" cy="190.69" r="0.85" fill="#f8696b" opacity="0.8"/>
<circle cx="278.45" cy="210.25" r="0.85" fill="#f8696b" opacity="0.8"/>
<circle cx="278.67" cy="202.85" r="0.85" fill="#f8696b" opacity="0.8"/>
<circle cx="278.84" cy="206.29" r="0.85" fill="#f8696b" opacity="0.8"/>
<circle cx="278.40" cy="198.84" r="0.85" fill="#f8696b" opacity="0.8"/>
<circle cx="280.01" cy="212.48" r="0.85" fill="#f8696b" opacity="0.8"/>
<circle cx="279.95" cy="202.10" r="0.85" fill="#f8696b" opacity="0.8"/>
<circle cx="278.30" cy="202.51" r="0.85" fill="#f8696b" opacity="0.8"/>
<circle cx="279.44" cy="184.80" r="0.85" fill="#f8696b" opacity="0.8"/>
<circle cx="278.62" cy="205.61" r="0.85" fill="#f8696b" opacity="0.8"/>
<circle cx="280.63" cy="194.98" r="0.85" fill="#f8696b" opacity="0.8"/>
<circle cx="280.02" cy="205.67" r="0.85" fill="#f8696b" opacity="0.8"/>
<circle cx="278.57" cy="202.26" r="0.85" fill="#f8696b" opacity="0.8"/>
<circle cx="279.93" cy="211.76" r="0.85" fill="#f8696b" opacity="0.8"/>
<circle cx="280.98" cy="206.25" r="0.85" fill="#f8696b" opacity="0.8"/>
<circle cx="280.58" cy="200.11" r="0.85" fill="#f8696b" opacity="0.8"/>
<circle cx="280.10" cy="212.41" r="0.85" fill="#f8696b" opacity="0.8"/>
<circle cx="279.97" cy="207.34" r="0.85" fill="#f8696b" opacity="0.8"/>
<circle cx="279.88" cy="200.38" r="0.85" fill="#f8696b" opacity="0.8"/>
<circle cx="280.00" cy="182.62" r="0.85" fill="#f8696b" opacity="0.8"/>
<circle cx="279.28" cy="210.18" r="0.85" fill="#f8696b" opacity="0.8"/>
<circle cx="278.60" cy="203.68" r="0.85" fill="#f8696b" opacity="0.8"/>
<circle cx="279.88" cy="204.22" r="0.85" fill="#f8696b" opacity="0.8"/>
<circle cx="280.06" cy="207.65" r="0.85" fill="#f8696b" opacity="0.8"/>
<circle cx="280.80" cy="207.23" r="0.85" fill="#f8696b" opacity="0.8"/>
<circle cx="278.93" cy="210.71" r="0.85" fill="#f8696b" opacity="0.8"/>
<circle cx="279.12" cy="197.33" r="0.85" fill="#f8696b" opacity="0.8"/>
<circle cx="280.99" cy="195.41" r="0.85" fill="#f8696b" opacity="0.8"/>
<circle cx="280.86" cy="205.48" r="0.85" fill="#f8696b" opacity="0.8"/>
<circle cx="281.05" cy="209.67" r="0.85" fill="#f8696b" opacity="0.8"/>
<circle cx="279.69" cy="207.89" r="0.85" fill="#f8696b" opacity="0.8"/>
<circle cx="281.06" cy="210.71" r="0.85" fill="#f8696b" opacity="0.8"/>
<circle cx="279.68" cy="200.03" r="0.85" fill="#f8696b" opacity="0.8"/>
<circle cx="278.64" cy="206.28" r="0.85" fill="#f8696b" opacity="0.8"/>
<circle cx="280.04" cy="194.11" r="0.85" fill="#f8696b" opacity="0.8"/>
<circle cx="280.49" cy="210.93" r="0.85" fill="#f8696b" opacity="0.8"/>
<circle cx="280.62" cy="201.40" r="0.85" fill="#f8696b" opacity="0.8"/>
<circle cx="279.07" cy="193.04" r="0.85" fill="#f8696b" opacity="0.8"/>
<circle cx="280.92" cy="203.07" r="0.85" fill="#f8696b" opacity="0.8"/>
<circle cx="279.05" cy="202.65" r="0.85" fill="#f8696b" opacity="0.8"/>
<circle cx="278.73" cy="210.53" r="0.85" fill="#f8696b" opacity="0.8"/>
<circle cx="280.00" cy="196.58" r="0.85" fill="#f8696b" opacity="0.8"/>
<circle cx="279.63" cy="204.50" r="0.85" fill="#f8696b" opacity="0.8"/>
<circle cx="280.38" cy="211.41" r="0.85" fill="#f8696b" opacity="0.8"/>
<circle cx="278.63" cy="213.54" r="0.85" fill="#f8696b" opacity="0.8"/>
<circle cx="279.79" cy="203.49" r="0.85" fill="#f8696b" opacity="0.8"/>
<circle cx="279.24" cy="211.49" r="0.85" fill="#f8696b" opacity="0.8"/>
<circle cx="279.60" cy="207.15" r="0.85" fill="#f8696b" opacity="0.8"/>
<circle cx="279.31" cy="193.52" r="0.85" fill="#f8696b" opacity="0.8"/>
<circle cx="278.40" cy="204.35" r="0.85" fill="#f8696b" opacity="0.8"/>
<circle cx="279.01" cy="215.87" r="0.85" fill="#f8696b" opacity="0.8"/>
<circle cx="280.79" cy="223.05" r="0.85" fill="#f8696b" opacity="0.8"/>
<circle cx="279.83" cy="198.52" r="0.85" fill="#f8696b" opacity="0.8"/>
<circle cx="279.50" cy="188.59" r="0.85" fill="#f8696b" opacity="0.8"/>
<circle cx="279.91" cy="202.57" r="0.85" fill="#f8696b" opacity="0.8"/>
<circle cx="279.65" cy="207.25" r="0.85" fill="#f8696b" opacity="0.8"/>
<circle cx="280.85" cy="216.14" r="0.85" fill="#f8696b" opacity="0.8"/>
<circle cx="280.69" cy="210.66" r="0.85" fill="#f8696b" opacity="0.8"/>
<circle cx="278.85" cy="198.13" r="0.85" fill="#f8696b" opacity="0.8"/>
<circle cx="278.48" cy="208.80" r="0.85" fill="#f8696b" opacity="0.8"/>
<circle cx="280.64" cy="187.93" r="0.85" fill="#f8696b" opacity="0.8"/>
<circle cx="279.10" cy="207.21" r="0.85" fill="#f8696b" opacity="0.8"/>
<circle cx="280.49" cy="212.89" r="0.85" fill="#f8696b" opacity="0.8"/>
<circle cx="279.64" cy="199.80" r="0.85" fill="#f8696b" opacity="0.8"/>
<circle cx="279.84" cy="206.61" r="0.85" fill="#f8696b" opacity="0.8"/>
<circle cx="278.73" cy="211.96" r="0.85" fill="#f8696b" opacity="0.8"/>
<circle cx="279.94" cy="203.86" r="0.85" fill="#f8696b" opacity="0.8"/>
<circle cx="278.94" cy="202.71" r="0.85" fill="#f8696b" opacity="0.8"/>
<circle cx="280.59" cy="207.08" r="0.85" fill="#f8696b" opacity="0.8"/>
<circle cx="278.37" cy="200.57" r="0.85" fill="#f8696b" opacity="0.8"/>
<circle cx="280.32" cy="216.67" r="0.85" fill="#f8696b" opacity="0.8"/>
<circle cx="280.26" cy="182.62" r="0.85" fill="#f8696b" opacity="0.8"/>
<circle cx="278.44" cy="208.23" r="0.85" fill="#f8696b" opacity="0.8"/>
<circle cx="280.11" cy="200.56" r="0.85" fill="#f8696b" opacity="0.8"/>
<circle cx="280.97" cy="209.22" r="0.85" fill="#f8696b" opacity="0.8"/>
<circle cx="279.12" cy="205.10" r="0.85" fill="#f8696b" opacity="0.8"/>
<circle cx="280.87" cy="208.63" r="0.85" fill="#f8696b" opacity="0.8"/>
<circle cx="279.46" cy="196.78" r="0.85" fill="#f8696b" opacity="0.8"/>
<circle cx="278.75" cy="194.10" r="0.85" fill="#f8696b" opacity="0.8"/>
<circle cx="278.60" cy="205.89" r="0.85" fill="#f8696b" opacity="0.8"/>
<circle cx="279.36" cy="205.83" r="0.85" fill="#f8696b" opacity="0.8"/>
<circle cx="279.91" cy="201.22" r="0.85" fill="#f8696b" opacity="0.8"/>
<circle cx="280.38" cy="202.64" r="0.85" fill="#f8696b" opacity="0.8"/>
<circle cx="279.51" cy="200.53" r="0.85" fill="#f8696b" opacity="0.8"/>
<circle cx="279.18" cy="207.29" r="0.85" fill="#f8696b" opacity="0.8"/>
<circle cx="280.93" cy="212.32" r="0.85" fill="#f8696b" opacity="0.8"/>
<circle cx="279.35" cy="210.06" r="0.85" fill="#f8696b" opacity="0.8"/>
<circle cx="278.72" cy="191.06" r="0.85" fill="#f8696b" opacity="0.8"/>
<circle cx="280.07" cy="199.26" r="0.85" fill="#f8696b" opacity="0.8"/>
<circle cx="279.85" cy="223.52" r="0.85" fill="#f8696b" opacity="0.8"/>
<circle cx="280.04" cy="204.70" r="0.85" fill="#f8696b" opacity="0.8"/>
<circle cx="279.01" cy="204.92" r="0.85" fill="#f8696b" opacity="0.8"/>
<circle cx="280.40" cy="192.75" r="0.85" fill="#f8696b" opacity="0.8"/>
<circle cx="315.20" cy="182.62" r="0.85" fill="#8dc63f" opacity="0.8"/>
<circle cx="315.70" cy="186.18" r="0.85" fill="#8dc63f" opacity="0.8"/>
<circle cx="315.80" cy="200.70" r="0.85" fill="#8dc63f" opacity="0.8"/>
<circle cx="315.63" cy="203.77" r="0.85" fill="#8dc63f" opacity="0.8"/>
<circle cx="314.06" cy="193.60" r="0.85" fill="#8dc63f" opacity="0.8"/>
<circle cx="314.15" cy="196.37" r="0.85" fill="#8dc63f" opacity="0.8"/>
<circle cx="316.26" cy="203.70" r="0.85" fill="#8dc63f" opacity="0.8"/>
<circle cx="315.15" cy="202.62" r="0.85" fill="#8dc63f" opacity="0.8"/>
<circle cx="313.88" cy="204.65" r="0.85" fill="#8dc63f" opacity="0.8"/>
<circle cx="315.83" cy="193.30" r="0.85" fill="#8dc63f" opacity="0.8"/>
<circle cx="316.47" cy="197.54" r="0.85" fill="#8dc63f" opacity="0.8"/>
<circle cx="315.71" cy="199.41" r="0.85" fill="#8dc63f" opacity="0.8"/>
<circle cx="316.52" cy="199.97" r="0.85" fill="#8dc63f" opacity="0.8"/>
<circle cx="315.66" cy="197.81" r="0.85" fill="#8dc63f" opacity="0.8"/>
<circle cx="315.55" cy="199.16" r="0.85" fill="#8dc63f" opacity="0.8"/>
<circle cx="314.79" cy="203.07" r="0.85" fill="#8dc63f" opacity="0.8"/>
<line x1="223.60" y1="154.40" x2="223.60" y2="232.10" stroke="#222" stroke-width="0.9"/>
<line x1="223.15" y1="232.10" x2="336.40" y2="232.10" stroke="#222" stroke-width="0.9"/>
<line x1="221.60" y1="228.90" x2="223.60" y2="228.90" stroke="#222" stroke-width="0.7"/>
<text x="221.00" y="231.60" font-size="7.7" text-anchor="end">0</text>
<line x1="221.60" y1="211.10" x2="223.60" y2="211.10" stroke="#222" stroke-width="0.7"/>
<text x="221.00" y="213.80" font-size="7.7" text-anchor="end">10</text>
<line x1="221.60" y1="193.30" x2="223.60" y2="193.30" stroke="#222" stroke-width="0.7"/>
<text x="221.00" y="196.00" font-size="7.7" text-anchor="end">20</text>
<line x1="221.60" y1="175.50" x2="223.60" y2="175.50" stroke="#222" stroke-width="0.7"/>
<text x="221.00" y="178.20" font-size="7.7" text-anchor="end">30</text>
<line x1="221.60" y1="157.70" x2="223.60" y2="157.70" stroke="#222" stroke-width="0.7"/>
<text x="221.00" y="160.40" font-size="7.7" text-anchor="end">40</text>
<line x1="244.70" y1="232.10" x2="244.70" y2="234.10" stroke="#222" stroke-width="0.7"/>
<line x1="279.70" y1="232.10" x2="279.70" y2="234.10" stroke="#222" stroke-width="0.7"/>
<line x1="315.20" y1="232.10" x2="315.20" y2="234.10" stroke="#222" stroke-width="0.7"/>
<text x="244.70" y="240.00" font-size="7.8" text-anchor="middle">Normal</text>
<text x="279.70" y="240.00" font-size="7.8" text-anchor="middle">Primary</text>
<text x="315.20" y="240.00" font-size="7.8" text-anchor="middle">Peritoneal</text>
<text x="244.70" y="249.00" font-size="7.8" text-anchor="middle">(n = 97)</text>
<text x="279.70" y="249.00" font-size="7.8" text-anchor="middle">(n = 97)</text>
<text x="315.20" y="249.00" font-size="7.8" text-anchor="middle">(n = 16)</text>
<text x="280.00" y="150.80" font-size="8.2" text-anchor="middle">SYSUCC−GC</text>
<polyline points="244.30,169.50 244.30,167.50 279.70,167.50 279.70,169.50" fill="none" stroke="#222" stroke-width="0.8"/>
<text x="262.00" y="164.70" font-size="6.5" text-anchor="middle">P &lt; 0.0001</text>
<polyline points="280.30,163.80 280.30,161.80 315.70,161.80 315.70,163.80" fill="none" stroke="#222" stroke-width="0.8"/>
<text x="298.00" y="159.00" font-size="6.5" text-anchor="middle">P &lt; 0.0001</text>
<text x="209.50" y="193.60" font-size="7.8" text-anchor="middle" transform="rotate(-90 209.50 193.60)">TGFβ1 IHC score</text>
<line x1="595.32" y1="205.90" x2="629.09" y2="196.08" stroke="#9a9a9a" stroke-width="0.35"/>
<line x1="594.58" y1="195.85" x2="629.95" y2="212.84" stroke="#9a9a9a" stroke-width="0.35"/>
<line x1="595.93" y1="212.01" x2="630.42" y2="197.74" stroke="#9a9a9a" stroke-width="0.35"/>
<line x1="595.41" y1="202.54" x2="629.47" y2="218.99" stroke="#9a9a9a" stroke-width="0.35"/>
<line x1="595.98" y1="202.52" x2="628.09" y2="208.06" stroke="#9a9a9a" stroke-width="0.35"/>
<line x1="595.05" y1="219.39" x2="627.95" y2="198.00" stroke="#9a9a9a" stroke-width="0.35"/>
<line x1="595.67" y1="220.46" x2="630.54" y2="212.53" stroke="#9a9a9a" stroke-width="0.35"/>
<line x1="594.71" y1="215.84" x2="629.15" y2="188.72" stroke="#9a9a9a" stroke-width="0.35"/>
<line x1="594.17" y1="204.31" x2="630.27" y2="199.49" stroke="#9a9a9a" stroke-width="0.35"/>
<line x1="593.71" y1="205.11" x2="628.58" y2="208.13" stroke="#9a9a9a" stroke-width="0.35"/>
<line x1="595.73" y1="196.06" x2="628.36" y2="197.73" stroke="#9a9a9a" stroke-width="0.35"/>
<line x1="593.60" y1="216.05" x2="629.90" y2="211.57" stroke="#9a9a9a" stroke-width="0.35"/>
<line x1="595.33" y1="225.36" x2="628.48" y2="206.17" stroke="#9a9a9a" stroke-width="0.35"/>
<line x1="594.80" y1="202.11" x2="630.55" y2="207.14" stroke="#9a9a9a" stroke-width="0.35"/>
<line x1="594.03" y1="212.50" x2="630.15" y2="195.91" stroke="#9a9a9a" stroke-width="0.35"/>
<line x1="594.05" y1="205.73" x2="628.92" y2="193.70" stroke="#9a9a9a" stroke-width="0.35"/>
<line x1="596.06" y1="215.58" x2="628.20" y2="214.28" stroke="#9a9a9a" stroke-width="0.35"/>
<line x1="594.03" y1="198.28" x2="627.91" y2="196.30" stroke="#9a9a9a" stroke-width="0.35"/>
<line x1="594.05" y1="207.21" x2="628.27" y2="213.09" stroke="#9a9a9a" stroke-width="0.35"/>
<line x1="594.40" y1="196.97" x2="630.32" y2="188.61" stroke="#9a9a9a" stroke-width="0.35"/>
<line x1="593.69" y1="205.63" x2="628.36" y2="192.53" stroke="#9a9a9a" stroke-width="0.35"/>
<line x1="596.19" y1="192.80" x2="629.71" y2="199.61" stroke="#9a9a9a" stroke-width="0.35"/>
<line x1="595.53" y1="225.36" x2="630.22" y2="211.34" stroke="#9a9a9a" stroke-width="0.35"/>
<line x1="595.49" y1="185.53" x2="628.85" y2="215.99" stroke="#9a9a9a" stroke-width="0.35"/>
<line x1="593.93" y1="225.36" x2="627.83" y2="215.67" stroke="#9a9a9a" stroke-width="0.35"/>
<line x1="595.47" y1="201.67" x2="628.32" y2="216.43" stroke="#9a9a9a" stroke-width="0.35"/>
<line x1="595.64" y1="211.69" x2="628.89" y2="203.39" stroke="#9a9a9a" stroke-width="0.35"/>
<line x1="594.06" y1="189.00" x2="628.67" y2="203.37" stroke="#9a9a9a" stroke-width="0.35"/>
<line x1="594.25" y1="206.11" x2="628.87" y2="200.08" stroke="#9a9a9a" stroke-width="0.35"/>
<line x1="593.82" y1="204.30" x2="628.92" y2="218.72" stroke="#9a9a9a" stroke-width="0.35"/>
<line x1="594.62" y1="225.36" x2="630.55" y2="199.87" stroke="#9a9a9a" stroke-width="0.35"/>
<line x1="594.47" y1="187.50" x2="629.74" y2="192.70" stroke="#9a9a9a" stroke-width="0.35"/>
<line x1="595.65" y1="216.86" x2="629.68" y2="218.99" stroke="#9a9a9a" stroke-width="0.35"/>
<line x1="595.61" y1="204.94" x2="628.82" y2="218.99" stroke="#9a9a9a" stroke-width="0.35"/>
<line x1="595.48" y1="202.19" x2="629.46" y2="206.70" stroke="#9a9a9a" stroke-width="0.35"/>
<line x1="596.23" y1="199.09" x2="628.60" y2="207.89" stroke="#9a9a9a" stroke-width="0.35"/>
<line x1="596.33" y1="214.95" x2="628.02" y2="214.01" stroke="#9a9a9a" stroke-width="0.35"/>
<line x1="593.62" y1="217.39" x2="629.43" y2="193.85" stroke="#9a9a9a" stroke-width="0.35"/>
<line x1="594.75" y1="186.97" x2="629.93" y2="197.16" stroke="#9a9a9a" stroke-width="0.35"/>
<line x1="593.73" y1="198.91" x2="630.40" y2="204.36" stroke="#9a9a9a" stroke-width="0.35"/>
<line x1="595.05" y1="225.36" x2="628.57" y2="211.22" stroke="#9a9a9a" stroke-width="0.35"/>
<line x1="594.58" y1="218.17" x2="629.91" y2="203.22" stroke="#9a9a9a" stroke-width="0.35"/>
<line x1="596.12" y1="202.99" x2="629.68" y2="206.36" stroke="#9a9a9a" stroke-width="0.35"/>
<line x1="594.98" y1="204.30" x2="629.73" y2="180.52" stroke="#9a9a9a" stroke-width="0.35"/>
<line x1="594.28" y1="203.16" x2="630.15" y2="208.41" stroke="#9a9a9a" stroke-width="0.35"/>
<line x1="593.74" y1="208.57" x2="628.38" y2="203.39" stroke="#9a9a9a" stroke-width="0.35"/>
<line x1="594.32" y1="210.44" x2="629.25" y2="216.91" stroke="#9a9a9a" stroke-width="0.35"/>
<line x1="594.74" y1="204.33" x2="630.53" y2="196.11" stroke="#9a9a9a" stroke-width="0.35"/>
<line x1="593.71" y1="208.34" x2="629.32" y2="207.12" stroke="#9a9a9a" stroke-width="0.35"/>
<line x1="596.32" y1="203.18" x2="628.89" y2="202.99" stroke="#9a9a9a" stroke-width="0.35"/>
<line x1="594.73" y1="200.61" x2="628.30" y2="201.84" stroke="#9a9a9a" stroke-width="0.35"/>
<line x1="595.09" y1="193.61" x2="630.35" y2="215.37" stroke="#9a9a9a" stroke-width="0.35"/>
<line x1="593.90" y1="197.67" x2="629.52" y2="218.99" stroke="#9a9a9a" stroke-width="0.35"/>
<line x1="595.12" y1="201.51" x2="629.73" y2="206.21" stroke="#9a9a9a" stroke-width="0.35"/>
<line x1="596.00" y1="192.22" x2="629.35" y2="199.02" stroke="#9a9a9a" stroke-width="0.35"/>
<line x1="594.20" y1="214.89" x2="630.28" y2="204.58" stroke="#9a9a9a" stroke-width="0.35"/>
<line x1="594.96" y1="191.61" x2="628.40" y2="212.39" stroke="#9a9a9a" stroke-width="0.35"/>
<line x1="595.20" y1="205.27" x2="629.54" y2="205.22" stroke="#9a9a9a" stroke-width="0.35"/>
<line x1="595.63" y1="219.35" x2="630.31" y2="194.47" stroke="#9a9a9a" stroke-width="0.35"/>
<line x1="596.16" y1="194.81" x2="629.95" y2="194.90" stroke="#9a9a9a" stroke-width="0.35"/>
<line x1="595.91" y1="211.74" x2="628.43" y2="189.30" stroke="#9a9a9a" stroke-width="0.35"/>
<line x1="594.23" y1="194.30" x2="630.12" y2="189.68" stroke="#9a9a9a" stroke-width="0.35"/>
<line x1="593.85" y1="198.95" x2="630.26" y2="197.08" stroke="#9a9a9a" stroke-width="0.35"/>
<line x1="595.76" y1="199.84" x2="628.99" y2="203.87" stroke="#9a9a9a" stroke-width="0.35"/>
<line x1="593.96" y1="202.42" x2="629.28" y2="213.27" stroke="#9a9a9a" stroke-width="0.35"/>
<line x1="593.83" y1="216.68" x2="628.59" y2="194.91" stroke="#9a9a9a" stroke-width="0.35"/>
<line x1="594.80" y1="206.78" x2="629.50" y2="207.43" stroke="#9a9a9a" stroke-width="0.35"/>
<line x1="595.22" y1="201.75" x2="627.89" y2="195.66" stroke="#9a9a9a" stroke-width="0.35"/>
<line x1="595.56" y1="206.82" x2="628.12" y2="203.78" stroke="#9a9a9a" stroke-width="0.35"/>
<line x1="593.73" y1="202.54" x2="628.31" y2="215.69" stroke="#9a9a9a" stroke-width="0.35"/>
<line x1="594.65" y1="203.80" x2="628.33" y2="207.88" stroke="#9a9a9a" stroke-width="0.35"/>
<line x1="593.88" y1="197.28" x2="629.73" y2="215.04" stroke="#9a9a9a" stroke-width="0.35"/>
<line x1="595.71" y1="216.40" x2="629.84" y2="210.92" stroke="#9a9a9a" stroke-width="0.35"/>
<line x1="595.16" y1="201.80" x2="630.14" y2="191.02" stroke="#9a9a9a" stroke-width="0.35"/>
<line x1="595.73" y1="192.61" x2="630.48" y2="197.75" stroke="#9a9a9a" stroke-width="0.35"/>
<line x1="595.21" y1="217.92" x2="629.61" y2="210.98" stroke="#9a9a9a" stroke-width="0.35"/>
<line x1="595.44" y1="225.36" x2="630.39" y2="183.54" stroke="#9a9a9a" stroke-width="0.35"/>
<line x1="596.27" y1="198.84" x2="630.15" y2="200.20" stroke="#9a9a9a" stroke-width="0.35"/>
<line x1="594.35" y1="209.60" x2="629.13" y2="186.08" stroke="#9a9a9a" stroke-width="0.35"/>
<line x1="595.87" y1="225.36" x2="628.24" y2="196.74" stroke="#9a9a9a" stroke-width="0.35"/>
<line x1="593.78" y1="211.79" x2="628.06" y2="198.23" stroke="#9a9a9a" stroke-width="0.35"/>
<line x1="594.07" y1="202.54" x2="628.09" y2="193.86" stroke="#9a9a9a" stroke-width="0.35"/>
<line x1="594.40" y1="208.42" x2="629.92" y2="190.36" stroke="#9a9a9a" stroke-width="0.35"/>
<line x1="593.78" y1="188.41" x2="630.05" y2="204.04" stroke="#9a9a9a" stroke-width="0.35"/>
<line x1="593.68" y1="205.58" x2="629.80" y2="218.99" stroke="#9a9a9a" stroke-width="0.35"/>
<line x1="593.74" y1="222.71" x2="629.55" y2="178.69" stroke="#9a9a9a" stroke-width="0.35"/>
<line x1="596.01" y1="198.99" x2="630.50" y2="214.58" stroke="#9a9a9a" stroke-width="0.35"/>
<line x1="596.26" y1="198.46" x2="627.98" y2="198.41" stroke="#9a9a9a" stroke-width="0.35"/>
<line x1="594.80" y1="213.80" x2="628.38" y2="199.36" stroke="#9a9a9a" stroke-width="0.35"/>
<line x1="594.61" y1="212.76" x2="629.71" y2="210.64" stroke="#9a9a9a" stroke-width="0.35"/>
<line x1="595.24" y1="207.90" x2="629.88" y2="194.00" stroke="#9a9a9a" stroke-width="0.35"/>
<line x1="595.92" y1="205.24" x2="629.32" y2="193.02" stroke="#9a9a9a" stroke-width="0.35"/>
<line x1="595.08" y1="207.76" x2="628.85" y2="196.93" stroke="#9a9a9a" stroke-width="0.35"/>
<line x1="594.08" y1="212.44" x2="628.85" y2="191.76" stroke="#9a9a9a" stroke-width="0.35"/>
<line x1="596.23" y1="210.35" x2="629.71" y2="192.71" stroke="#9a9a9a" stroke-width="0.35"/>
<line x1="595.83" y1="219.99" x2="630.45" y2="218.99" stroke="#9a9a9a" stroke-width="0.35"/>
<line x1="596.16" y1="198.98" x2="628.00" y2="201.58" stroke="#9a9a9a" stroke-width="0.35"/>
<line x1="629.09" y1="196.08" x2="663.10" y2="171.55" stroke="#9a9a9a" stroke-width="0.35"/>
<line x1="629.95" y1="212.84" x2="662.03" y2="208.37" stroke="#9a9a9a" stroke-width="0.35"/>
<line x1="630.42" y1="197.74" x2="663.76" y2="205.95" stroke="#9a9a9a" stroke-width="0.35"/>
<line x1="629.47" y1="218.99" x2="664.27" y2="196.66" stroke="#9a9a9a" stroke-width="0.35"/>
<line x1="628.09" y1="208.06" x2="663.10" y2="203.16" stroke="#9a9a9a" stroke-width="0.35"/>
<line x1="627.95" y1="198.00" x2="663.65" y2="192.80" stroke="#9a9a9a" stroke-width="0.35"/>
<line x1="630.54" y1="212.53" x2="662.53" y2="194.94" stroke="#9a9a9a" stroke-width="0.35"/>
<line x1="629.15" y1="188.72" x2="662.64" y2="208.37" stroke="#9a9a9a" stroke-width="0.35"/>
<line x1="630.27" y1="199.49" x2="661.84" y2="191.56" stroke="#9a9a9a" stroke-width="0.35"/>
<line x1="628.58" y1="208.13" x2="662.88" y2="206.49" stroke="#9a9a9a" stroke-width="0.35"/>
<line x1="628.36" y1="197.73" x2="661.91" y2="196.75" stroke="#9a9a9a" stroke-width="0.35"/>
<line x1="629.90" y1="211.57" x2="662.46" y2="184.68" stroke="#9a9a9a" stroke-width="0.35"/>
<line x1="628.48" y1="206.17" x2="664.46" y2="189.44" stroke="#9a9a9a" stroke-width="0.35"/>
<line x1="630.55" y1="207.14" x2="663.22" y2="192.03" stroke="#9a9a9a" stroke-width="0.35"/>
<line x1="630.15" y1="195.91" x2="661.96" y2="208.37" stroke="#9a9a9a" stroke-width="0.35"/>
<line x1="628.92" y1="193.70" x2="662.70" y2="184.23" stroke="#9a9a9a" stroke-width="0.35"/>
<rect x="581.70" y="198.81" width="26.60" height="17.35" fill="none" stroke="#30609a" stroke-width="0.9" opacity="0.85"/>
<line x1="581.70" y1="207.41" x2="608.30" y2="207.41" stroke="#30609a" stroke-width="1.1"/>
<rect x="615.90" y="195.27" width="26.60" height="14.16" fill="none" stroke="#f8696b" stroke-width="0.9" opacity="0.85"/>
<line x1="615.90" y1="204.12" x2="642.50" y2="204.12" stroke="#f8696b" stroke-width="1.1"/>
<rect x="649.80" y="189.96" width="26.60" height="13.45" fill="none" stroke="#8dc63f" stroke-width="0.9" opacity="0.85"/>
<line x1="649.80" y1="199.52" x2="676.40" y2="199.52" stroke="#8dc63f" stroke-width="1.1"/>
<circle cx="595.32" cy="205.90" r="0.85" fill="#30609a" opacity="0.8"/>
<circle cx="594.58" cy="195.85" r="0.85" fill="#30609a" opacity="0.8"/>
<circle cx="595.93" cy="212.01" r="0.85" fill="#30609a" opacity="0.8"/>
<circle cx="595.41" cy="202.54" r="0.85" fill="#30609a" opacity="0.8"/>
<circle cx="595.98" cy="202.52" r="0.85" fill="#30609a" opacity="0.8"/>
<circle cx="595.05" cy="219.39" r="0.85" fill="#30609a" opacity="0.8"/>
<circle cx="595.67" cy="220.46" r="0.85" fill="#30609a" opacity="0.8"/>
<circle cx="594.71" cy="215.84" r="0.85" fill="#30609a" opacity="0.8"/>
<circle cx="594.17" cy="204.31" r="0.85" fill="#30609a" opacity="0.8"/>
<circle cx="593.71" cy="205.11" r="0.85" fill="#30609a" opacity="0.8"/>
<circle cx="595.73" cy="196.06" r="0.85" fill="#30609a" opacity="0.8"/>
<circle cx="593.60" cy="216.05" r="0.85" fill="#30609a" opacity="0.8"/>
<circle cx="595.33" cy="225.36" r="0.85" fill="#30609a" opacity="0.8"/>
<circle cx="594.80" cy="202.11" r="0.85" fill="#30609a" opacity="0.8"/>
<circle cx="594.03" cy="212.50" r="0.85" fill="#30609a" opacity="0.8"/>
<circle cx="594.05" cy="205.73" r="0.85" fill="#30609a" opacity="0.8"/>
<circle cx="596.06" cy="215.58" r="0.85" fill="#30609a" opacity="0.8"/>
<circle cx="594.03" cy="198.28" r="0.85" fill="#30609a" opacity="0.8"/>
<circle cx="594.05" cy="207.21" r="0.85" fill="#30609a" opacity="0.8"/>
<circle cx="594.40" cy="196.97" r="0.85" fill="#30609a" opacity="0.8"/>
<circle cx="593.69" cy="205.63" r="0.85" fill="#30609a" opacity="0.8"/>
<circle cx="596.19" cy="192.80" r="0.85" fill="#30609a" opacity="0.8"/>
<circle cx="595.53" cy="225.36" r="0.85" fill="#30609a" opacity="0.8"/>
<circle cx="595.49" cy="185.53" r="0.85" fill="#30609a" opacity="0.8"/>
<circle cx="593.93" cy="225.36" r="0.85" fill="#30609a" opacity="0.8"/>
<circle cx="595.47" cy="201.67" r="0.85" fill="#30609a" opacity="0.8"/>
<circle cx="595.64" cy="211.69" r="0.85" fill="#30609a" opacity="0.8"/>
<circle cx="594.06" cy="189.00" r="0.85" fill="#30609a" opacity="0.8"/>
<circle cx="594.25" cy="206.11" r="0.85" fill="#30609a" opacity="0.8"/>
<circle cx="593.82" cy="204.30" r="0.85" fill="#30609a" opacity="0.8"/>
<circle cx="594.62" cy="225.36" r="0.85" fill="#30609a" opacity="0.8"/>
<circle cx="594.47" cy="187.50" r="0.85" fill="#30609a" opacity="0.8"/>
<circle cx="595.65" cy="216.86" r="0.85" fill="#30609a" opacity="0.8"/>
<circle cx="595.61" cy="204.94" r="0.85" fill="#30609a" opacity="0.8"/>
<circle cx="595.48" cy="202.19" r="0.85" fill="#30609a" opacity="0.8"/>
<circle cx="596.23" cy="199.09" r="0.85" fill="#30609a" opacity="0.8"/>
<circle cx="596.33" cy="214.95" r="0.85" fill="#30609a" opacity="0.8"/>
<circle cx="593.62" cy="217.39" r="0.85" fill="#30609a" opacity="0.8"/>
<circle cx="594.75" cy="186.97" r="0.85" fill="#30609a" opacity="0.8"/>
<circle cx="593.73" cy="198.91" r="0.85" fill="#30609a" opacity="0.8"/>
<circle cx="595.05" cy="225.36" r="0.85" fill="#30609a" opacity="0.8"/>
<circle cx="594.58" cy="218.17" r="0.85" fill="#30609a" opacity="0.8"/>
<circle cx="596.12" cy="202.99" r="0.85" fill="#30609a" opacity="0.8"/>
<circle cx="594.98" cy="204.30" r="0.85" fill="#30609a" opacity="0.8"/>
<circle cx="594.28" cy="203.16" r="0.85" fill="#30609a" opacity="0.8"/>
<circle cx="593.74" cy="208.57" r="0.85" fill="#30609a" opacity="0.8"/>
<circle cx="594.32" cy="210.44" r="0.85" fill="#30609a" opacity="0.8"/>
<circle cx="594.74" cy="204.33" r="0.85" fill="#30609a" opacity="0.8"/>
<circle cx="593.71" cy="208.34" r="0.85" fill="#30609a" opacity="0.8"/>
<circle cx="596.32" cy="203.18" r="0.85" fill="#30609a" opacity="0.8"/>
<circle cx="594.73" cy="200.61" r="0.85" fill="#30609a" opacity="0.8"/>
<circle cx="595.09" cy="193.61" r="0.85" fill="#30609a" opacity="0.8"/>
<circle cx="593.90" cy="197.67" r="0.85" fill="#30609a" opacity="0.8"/>
<circle cx="595.12" cy="201.51" r="0.85" fill="#30609a" opacity="0.8"/>
<circle cx="596.00" cy="192.22" r="0.85" fill="#30609a" opacity="0.8"/>
<circle cx="594.20" cy="214.89" r="0.85" fill="#30609a" opacity="0.8"/>
<circle cx="594.96" cy="191.61" r="0.85" fill="#30609a" opacity="0.8"/>
<circle cx="595.20" cy="205.27" r="0.85" fill="#30609a" opacity="0.8"/>
<circle cx="595.63" cy="219.35" r="0.85" fill="#30609a" opacity="0.8"/>
<circle cx="596.16" cy="194.81" r="0.85" fill="#30609a" opacity="0.8"/>
<circle cx="595.91" cy="211.74" r="0.85" fill="#30609a" opacity="0.8"/>
<circle cx="594.23" cy="194.30" r="0.85" fill="#30609a" opacity="0.8"/>
<circle cx="593.85" cy="198.95" r="0.85" fill="#30609a" opacity="0.8"/>
<circle cx="595.76" cy="199.84" r="0.85" fill="#30609a" opacity="0.8"/>
<circle cx="593.96" cy="202.42" r="0.85" fill="#30609a" opacity="0.8"/>
<circle cx="593.83" cy="216.68" r="0.85" fill="#30609a" opacity="0.8"/>
<circle cx="594.80" cy="206.78" r="0.85" fill="#30609a" opacity="0.8"/>
<circle cx="595.22" cy="201.75" r="0.85" fill="#30609a" opacity="0.8"/>
<circle cx="595.56" cy="206.82" r="0.85" fill="#30609a" opacity="0.8"/>
<circle cx="593.73" cy="202.54" r="0.85" fill="#30609a" opacity="0.8"/>
<circle cx="594.65" cy="203.80" r="0.85" fill="#30609a" opacity="0.8"/>
<circle cx="593.88" cy="197.28" r="0.85" fill="#30609a" opacity="0.8"/>
<circle cx="595.71" cy="216.40" r="0.85" fill="#30609a" opacity="0.8"/>
<circle cx="595.16" cy="201.80" r="0.85" fill="#30609a" opacity="0.8"/>
<circle cx="595.73" cy="192.61" r="0.85" fill="#30609a" opacity="0.8"/>
<circle cx="595.21" cy="217.92" r="0.85" fill="#30609a" opacity="0.8"/>
<circle cx="595.44" cy="225.36" r="0.85" fill="#30609a" opacity="0.8"/>
<circle cx="596.27" cy="198.84" r="0.85" fill="#30609a" opacity="0.8"/>
<circle cx="594.35" cy="209.60" r="0.85" fill="#30609a" opacity="0.8"/>
<circle cx="595.87" cy="225.36" r="0.85" fill="#30609a" opacity="0.8"/>
<circle cx="593.78" cy="211.79" r="0.85" fill="#30609a" opacity="0.8"/>
<circle cx="594.07" cy="202.54" r="0.85" fill="#30609a" opacity="0.8"/>
<circle cx="594.40" cy="208.42" r="0.85" fill="#30609a" opacity="0.8"/>
<circle cx="593.78" cy="188.41" r="0.85" fill="#30609a" opacity="0.8"/>
<circle cx="593.68" cy="205.58" r="0.85" fill="#30609a" opacity="0.8"/>
<circle cx="593.74" cy="222.71" r="0.85" fill="#30609a" opacity="0.8"/>
<circle cx="596.01" cy="198.99" r="0.85" fill="#30609a" opacity="0.8"/>
<circle cx="596.26" cy="198.46" r="0.85" fill="#30609a" opacity="0.8"/>
<circle cx="594.80" cy="213.80" r="0.85" fill="#30609a" opacity="0.8"/>
<circle cx="594.61" cy="212.76" r="0.85" fill="#30609a" opacity="0.8"/>
<circle cx="595.24" cy="207.90" r="0.85" fill="#30609a" opacity="0.8"/>
<circle cx="595.92" cy="205.24" r="0.85" fill="#30609a" opacity="0.8"/>
<circle cx="595.08" cy="207.76" r="0.85" fill="#30609a" opacity="0.8"/>
<circle cx="594.08" cy="212.44" r="0.85" fill="#30609a" opacity="0.8"/>
<circle cx="596.23" cy="210.35" r="0.85" fill="#30609a" opacity="0.8"/>
<circle cx="595.83" cy="219.99" r="0.85" fill="#30609a" opacity="0.8"/>
<circle cx="596.16" cy="198.98" r="0.85" fill="#30609a" opacity="0.8"/>
<circle cx="629.09" cy="196.08" r="0.85" fill="#f8696b" opacity="0.8"/>
<circle cx="629.95" cy="212.84" r="0.85" fill="#f8696b" opacity="0.8"/>
<circle cx="630.42" cy="197.74" r="0.85" fill="#f8696b" opacity="0.8"/>
<circle cx="629.47" cy="218.99" r="0.85" fill="#f8696b" opacity="0.8"/>
<circle cx="628.09" cy="208.06" r="0.85" fill="#f8696b" opacity="0.8"/>
<circle cx="627.95" cy="198.00" r="0.85" fill="#f8696b" opacity="0.8"/>
<circle cx="630.54" cy="212.53" r="0.85" fill="#f8696b" opacity="0.8"/>
<circle cx="629.15" cy="188.72" r="0.85" fill="#f8696b" opacity="0.8"/>
<circle cx="630.27" cy="199.49" r="0.85" fill="#f8696b" opacity="0.8"/>
<circle cx="628.58" cy="208.13" r="0.85" fill="#f8696b" opacity="0.8"/>
<circle cx="628.36" cy="197.73" r="0.85" fill="#f8696b" opacity="0.8"/>
<circle cx="629.90" cy="211.57" r="0.85" fill="#f8696b" opacity="0.8"/>
<circle cx="628.48" cy="206.17" r="0.85" fill="#f8696b" opacity="0.8"/>
<circle cx="630.55" cy="207.14" r="0.85" fill="#f8696b" opacity="0.8"/>
<circle cx="630.15" cy="195.91" r="0.85" fill="#f8696b" opacity="0.8"/>
<circle cx="628.92" cy="193.70" r="0.85" fill="#f8696b" opacity="0.8"/>
<circle cx="628.20" cy="214.28" r="0.85" fill="#f8696b" opacity="0.8"/>
<circle cx="627.91" cy="196.30" r="0.85" fill="#f8696b" opacity="0.8"/>
<circle cx="628.27" cy="213.09" r="0.85" fill="#f8696b" opacity="0.8"/>
<circle cx="630.32" cy="188.61" r="0.85" fill="#f8696b" opacity="0.8"/>
<circle cx="628.36" cy="192.53" r="0.85" fill="#f8696b" opacity="0.8"/>
<circle cx="629.71" cy="199.61" r="0.85" fill="#f8696b" opacity="0.8"/>
<circle cx="630.22" cy="211.34" r="0.85" fill="#f8696b" opacity="0.8"/>
<circle cx="628.85" cy="215.99" r="0.85" fill="#f8696b" opacity="0.8"/>
<circle cx="627.83" cy="215.67" r="0.85" fill="#f8696b" opacity="0.8"/>
<circle cx="628.32" cy="216.43" r="0.85" fill="#f8696b" opacity="0.8"/>
<circle cx="628.89" cy="203.39" r="0.85" fill="#f8696b" opacity="0.8"/>
<circle cx="628.67" cy="203.37" r="0.85" fill="#f8696b" opacity="0.8"/>
<circle cx="628.87" cy="200.08" r="0.85" fill="#f8696b" opacity="0.8"/>
<circle cx="628.92" cy="218.72" r="0.85" fill="#f8696b" opacity="0.8"/>
<circle cx="630.55" cy="199.87" r="0.85" fill="#f8696b" opacity="0.8"/>
<circle cx="629.74" cy="192.70" r="0.85" fill="#f8696b" opacity="0.8"/>
<circle cx="629.68" cy="218.99" r="0.85" fill="#f8696b" opacity="0.8"/>
<circle cx="628.82" cy="218.99" r="0.85" fill="#f8696b" opacity="0.8"/>
<circle cx="629.46" cy="206.70" r="0.85" fill="#f8696b" opacity="0.8"/>
<circle cx="628.60" cy="207.89" r="0.85" fill="#f8696b" opacity="0.8"/>
<circle cx="628.02" cy="214.01" r="0.85" fill="#f8696b" opacity="0.8"/>
<circle cx="629.43" cy="193.85" r="0.85" fill="#f8696b" opacity="0.8"/>
<circle cx="629.93" cy="197.16" r="0.85" fill="#f8696b" opacity="0.8"/>
<circle cx="630.40" cy="204.36" r="0.85" fill="#f8696b" opacity="0.8"/>
<circle cx="628.57" cy="211.22" r="0.85" fill="#f8696b" opacity="0.8"/>
<circle cx="629.91" cy="203.22" r="0.85" fill="#f8696b" opacity="0.8"/>
<circle cx="629.68" cy="206.36" r="0.85" fill="#f8696b" opacity="0.8"/>
<circle cx="629.73" cy="180.52" r="0.85" fill="#f8696b" opacity="0.8"/>
<circle cx="630.15" cy="208.41" r="0.85" fill="#f8696b" opacity="0.8"/>
<circle cx="628.38" cy="203.39" r="0.85" fill="#f8696b" opacity="0.8"/>
<circle cx="629.25" cy="216.91" r="0.85" fill="#f8696b" opacity="0.8"/>
<circle cx="630.53" cy="196.11" r="0.85" fill="#f8696b" opacity="0.8"/>
<circle cx="629.32" cy="207.12" r="0.85" fill="#f8696b" opacity="0.8"/>
<circle cx="628.89" cy="202.99" r="0.85" fill="#f8696b" opacity="0.8"/>
<circle cx="628.30" cy="201.84" r="0.85" fill="#f8696b" opacity="0.8"/>
<circle cx="630.35" cy="215.37" r="0.85" fill="#f8696b" opacity="0.8"/>
<circle cx="629.52" cy="218.99" r="0.85" fill="#f8696b" opacity="0.8"/>
<circle cx="629.73" cy="206.21" r="0.85" fill="#f8696b" opacity="0.8"/>
<circle cx="629.35" cy="199.02" r="0.85" fill="#f8696b" opacity="0.8"/>
<circle cx="630.28" cy="204.58" r="0.85" fill="#f8696b" opacity="0.8"/>
<circle cx="628.40" cy="212.39" r="0.85" fill="#f8696b" opacity="0.8"/>
<circle cx="629.54" cy="205.22" r="0.85" fill="#f8696b" opacity="0.8"/>
<circle cx="630.31" cy="194.47" r="0.85" fill="#f8696b" opacity="0.8"/>
<circle cx="629.95" cy="194.90" r="0.85" fill="#f8696b" opacity="0.8"/>
<circle cx="628.43" cy="189.30" r="0.85" fill="#f8696b" opacity="0.8"/>
<circle cx="630.12" cy="189.68" r="0.85" fill="#f8696b" opacity="0.8"/>
<circle cx="630.26" cy="197.08" r="0.85" fill="#f8696b" opacity="0.8"/>
<circle cx="628.99" cy="203.87" r="0.85" fill="#f8696b" opacity="0.8"/>
<circle cx="629.28" cy="213.27" r="0.85" fill="#f8696b" opacity="0.8"/>
<circle cx="628.59" cy="194.91" r="0.85" fill="#f8696b" opacity="0.8"/>
<circle cx="629.50" cy="207.43" r="0.85" fill="#f8696b" opacity="0.8"/>
<circle cx="627.89" cy="195.66" r="0.85" fill="#f8696b" opacity="0.8"/>
<circle cx="628.12" cy="203.78" r="0.85" fill="#f8696b" opacity="0.8"/>
<circle cx="628.31" cy="215.69" r="0.85" fill="#f8696b" opacity="0.8"/>
<circle cx="628.33" cy="207.88" r="0.85" fill="#f8696b" opacity="0.8"/>
<circle cx="629.73" cy="215.04" r="0.85" fill="#f8696b" opacity="0.8"/>
<circle cx="629.84" cy="210.92" r="0.85" fill="#f8696b" opacity="0.8"/>
<circle cx="630.14" cy="191.02" r="0.85" fill="#f8696b" opacity="0.8"/>
<circle cx="630.48" cy="197.75" r="0.85" fill="#f8696b" opacity="0.8"/>
<circle cx="629.61" cy="210.98" r="0.85" fill="#f8696b" opacity="0.8"/>
<circle cx="630.39" cy="183.54" r="0.85" fill="#f8696b" opacity="0.8"/>
<circle cx="630.15" cy="200.20" r="0.85" fill="#f8696b" opacity="0.8"/>
<circle cx="629.13" cy="186.08" r="0.85" fill="#f8696b" opacity="0.8"/>
<circle cx="628.24" cy="196.74" r="0.85" fill="#f8696b" opacity="0.8"/>
<circle cx="628.06" cy="198.23" r="0.85" fill="#f8696b" opacity="0.8"/>
<circle cx="628.09" cy="193.86" r="0.85" fill="#f8696b" opacity="0.8"/>
<circle cx="629.92" cy="190.36" r="0.85" fill="#f8696b" opacity="0.8"/>
<circle cx="630.05" cy="204.04" r="0.85" fill="#f8696b" opacity="0.8"/>
<circle cx="629.80" cy="218.99" r="0.85" fill="#f8696b" opacity="0.8"/>
<circle cx="629.55" cy="178.69" r="0.85" fill="#f8696b" opacity="0.8"/>
<circle cx="630.50" cy="214.58" r="0.85" fill="#f8696b" opacity="0.8"/>
<circle cx="627.98" cy="198.41" r="0.85" fill="#f8696b" opacity="0.8"/>
<circle cx="628.38" cy="199.36" r="0.85" fill="#f8696b" opacity="0.8"/>
<circle cx="629.71" cy="210.64" r="0.85" fill="#f8696b" opacity="0.8"/>
<circle cx="629.88" cy="194.00" r="0.85" fill="#f8696b" opacity="0.8"/>
<circle cx="629.32" cy="193.02" r="0.85" fill="#f8696b" opacity="0.8"/>
<circle cx="628.85" cy="196.93" r="0.85" fill="#f8696b" opacity="0.8"/>
<circle cx="628.85" cy="191.76" r="0.85" fill="#f8696b" opacity="0.8"/>
<circle cx="629.71" cy="192.71" r="0.85" fill="#f8696b" opacity="0.8"/>
<circle cx="630.45" cy="218.99" r="0.85" fill="#f8696b" opacity="0.8"/>
<circle cx="628.00" cy="201.58" r="0.85" fill="#f8696b" opacity="0.8"/>
<circle cx="663.10" cy="171.55" r="0.85" fill="#8dc63f" opacity="0.8"/>
<circle cx="662.03" cy="208.37" r="0.85" fill="#8dc63f" opacity="0.8"/>
<circle cx="663.76" cy="205.95" r="0.85" fill="#8dc63f" opacity="0.8"/>
<circle cx="664.27" cy="196.66" r="0.85" fill="#8dc63f" opacity="0.8"/>
<circle cx="663.10" cy="203.16" r="0.85" fill="#8dc63f" opacity="0.8"/>
<circle cx="663.65" cy="192.80" r="0.85" fill="#8dc63f" opacity="0.8"/>
<circle cx="662.53" cy="194.94" r="0.85" fill="#8dc63f" opacity="0.8"/>
<circle cx="662.64" cy="208.37" r="0.85" fill="#8dc63f" opacity="0.8"/>
<circle cx="661.84" cy="191.56" r="0.85" fill="#8dc63f" opacity="0.8"/>
<circle cx="662.88" cy="206.49" r="0.85" fill="#8dc63f" opacity="0.8"/>
<circle cx="661.91" cy="196.75" r="0.85" fill="#8dc63f" opacity="0.8"/>
<circle cx="662.46" cy="184.68" r="0.85" fill="#8dc63f" opacity="0.8"/>
<circle cx="664.46" cy="189.44" r="0.85" fill="#8dc63f" opacity="0.8"/>
<circle cx="663.22" cy="192.03" r="0.85" fill="#8dc63f" opacity="0.8"/>
<circle cx="661.96" cy="208.37" r="0.85" fill="#8dc63f" opacity="0.8"/>
<circle cx="662.70" cy="184.23" r="0.85" fill="#8dc63f" opacity="0.8"/>
<line x1="575.70" y1="154.40" x2="575.70" y2="232.10" stroke="#222" stroke-width="0.9"/>
<line x1="575.25" y1="232.10" x2="684.00" y2="232.10" stroke="#222" stroke-width="0.9"/>
<line x1="573.70" y1="228.90" x2="575.70" y2="228.90" stroke="#222" stroke-width="0.7"/>
<text x="573.10" y="231.60" font-size="7.7" text-anchor="end">0</text>
<line x1="573.70" y1="211.20" x2="575.70" y2="211.20" stroke="#222" stroke-width="0.7"/>
<text x="573.10" y="213.90" font-size="7.7" text-anchor="end">50</text>
<line x1="573.70" y1="193.50" x2="575.70" y2="193.50" stroke="#222" stroke-width="0.7"/>
<text x="573.10" y="196.20" font-size="7.7" text-anchor="end">100</text>
<line x1="573.70" y1="175.80" x2="575.70" y2="175.80" stroke="#222" stroke-width="0.7"/>
<text x="573.10" y="178.50" font-size="7.7" text-anchor="end">150</text>
<line x1="573.70" y1="158.10" x2="575.70" y2="158.10" stroke="#222" stroke-width="0.7"/>
<text x="573.10" y="160.80" font-size="7.7" text-anchor="end">200</text>
<line x1="595.00" y1="232.10" x2="595.00" y2="234.10" stroke="#222" stroke-width="0.7"/>
<line x1="629.20" y1="232.10" x2="629.20" y2="234.10" stroke="#222" stroke-width="0.7"/>
<line x1="663.10" y1="232.10" x2="663.10" y2="234.10" stroke="#222" stroke-width="0.7"/>
<text x="595.00" y="240.00" font-size="7.8" text-anchor="middle">Normal</text>
<text x="629.20" y="240.00" font-size="7.8" text-anchor="middle">Primary</text>
<text x="663.10" y="240.00" font-size="7.8" text-anchor="middle">Peritoneal</text>
<text x="595.00" y="249.00" font-size="7.8" text-anchor="middle">(n = 97)</text>
<text x="629.20" y="249.00" font-size="7.8" text-anchor="middle">(n = 97)</text>
<text x="663.10" y="249.00" font-size="7.8" text-anchor="middle">(n = 16)</text>
<text x="629.00" y="150.80" font-size="8.2" text-anchor="middle">SYSUCC−GC</text>
<polyline points="595.00,169.60 595.00,167.60 629.20,167.60 629.20,169.60" fill="none" stroke="#222" stroke-width="0.8"/>
<text x="612.10" y="164.80" font-size="6.5" text-anchor="middle">P &lt; 0.0001</text>
<polyline points="629.80,164.40 629.80,162.40 663.10,162.40 663.10,164.40" fill="none" stroke="#222" stroke-width="0.8"/>
<text x="646.45" y="159.60" font-size="6.5" text-anchor="middle">P = 0.0001</text>
<text x="557.10" y="196.00" font-size="7.8" text-anchor="middle" transform="rotate(-90 557.10 196.00)">TβR1 IHC score</text>
<text x="0.50" y="276.10" font-size="12.4" fill="#000" font-weight="bold">E</text>
<path d="M48.60,287.40 H52.80 V287.40 H54.74 V288.18 H56.99 V289.73 H59.09 V291.28 H61.71 V292.84 H63.49 V294.39 H64.60 V295.95 H65.70 V297.50 H66.06 V298.80 H66.43 V300.09 H66.80 V301.39 H70.10 V302.94 H76.66 V304.49 H80.07 V305.66 H83.21 V306.82 H87.41 V307.60 H91.97 V309.16 H96.32 V310.32 H113.89 V310.71 H116.07 V312.26 H118.25 V313.82 H122.02 V315.37 H125.96 V316.93 H129.21 V317.70 H143.00 V317.70" fill="none" stroke="#30609a" stroke-width="1.1"/>
<path d="M48.60,287.40 H50.17 V287.40 H51.22 V288.57 H52.80 V290.12 H54.37 V292.06 H55.84 V294.39 H56.22 V295.69 H56.61 V296.98 H56.99 V298.28 H57.52 V300.22 H58.04 V302.16 H58.39 V303.46 H58.74 V304.75 H59.09 V306.05 H59.61 V308.38 H60.01 V309.74 H60.40 V311.10 H60.79 V312.46 H61.19 V313.82 H61.89 V315.11 H62.59 V316.41 H63.28 V317.70 H65.70 V320.03 H67.90 V320.81 H72.20 V321.20 H78.81 V321.59 H83.21 V323.14 H87.41 V323.92 H98.42 V325.47 H102.93 V327.03 H113.89 V327.80 H122.55 V328.97 H127.27 V329.75 H143.00 V329.75" fill="none" stroke="#f8696b" stroke-width="1.1"/>
<line x1="48.20" y1="285.90" x2="48.20" y2="365.60" stroke="#222" stroke-width="0.9"/>
<line x1="47.75" y1="365.40" x2="143.50" y2="365.40" stroke="#222" stroke-width="0.9"/>
<line x1="46.40" y1="365.10" x2="48.20" y2="365.10" stroke="#222" stroke-width="0.7"/>
<text x="46.70" y="367.60" font-size="7.0" text-anchor="end">0%</text>
<line x1="46.40" y1="345.68" x2="48.20" y2="345.68" stroke="#222" stroke-width="0.7"/>
<text x="46.70" y="348.18" font-size="7.0" text-anchor="end">25%</text>
<line x1="46.40" y1="326.25" x2="48.20" y2="326.25" stroke="#222" stroke-width="0.7"/>
<text x="46.70" y="328.75" font-size="7.0" text-anchor="end">50%</text>
<line x1="46.40" y1="306.82" x2="48.20" y2="306.82" stroke="#222" stroke-width="0.7"/>
<text x="46.70" y="309.32" font-size="7.0" text-anchor="end">75%</text>
<line x1="46.40" y1="287.40" x2="48.20" y2="287.40" stroke="#222" stroke-width="0.7"/>
<text x="46.70" y="289.90" font-size="7.0" text-anchor="end">100%</text>
<line x1="48.60" y1="365.40" x2="48.60" y2="367.30" stroke="#222" stroke-width="0.7"/>
<text x="48.60" y="373.20" font-size="7.0" text-anchor="middle">0</text>
<line x1="64.33" y1="365.40" x2="64.33" y2="367.30" stroke="#222" stroke-width="0.7"/>
<text x="64.33" y="373.20" font-size="7.0" text-anchor="middle">30</text>
<line x1="80.07" y1="365.40" x2="80.07" y2="367.30" stroke="#222" stroke-width="0.7"/>
<text x="80.07" y="373.20" font-size="7.0" text-anchor="middle">60</text>
<line x1="95.80" y1="365.40" x2="95.80" y2="367.30" stroke="#222" stroke-width="0.7"/>
<text x="95.80" y="373.20" font-size="7.0" text-anchor="middle">90</text>
<line x1="111.53" y1="365.40" x2="111.53" y2="367.30" stroke="#222" stroke-width="0.7"/>
<text x="111.53" y="373.20" font-size="7.0" text-anchor="middle">120</text>
<line x1="127.27" y1="365.40" x2="127.27" y2="367.30" stroke="#222" stroke-width="0.7"/>
<text x="127.27" y="373.20" font-size="7.0" text-anchor="middle">150</text>
<line x1="143.00" y1="365.40" x2="143.00" y2="367.30" stroke="#222" stroke-width="0.7"/>
<text x="143.00" y="373.20" font-size="7.0" text-anchor="middle">180</text>
<text x="95.50" y="379.70" font-size="7.0" text-anchor="middle">Time (months)</text>
<text x="94.20" y="283.20" font-size="7.8" text-anchor="middle">SYSUCC−GC_OS</text>
<text x="59.60" y="343.70" font-size="7.2">Log-rank P = 0.0052</text>
<line x1="51.80" y1="350.70" x2="56.40" y2="350.70" stroke="#f8696b" stroke-width="1.1"/>
<line x1="51.80" y1="358.20" x2="56.40" y2="358.20" stroke="#30609a" stroke-width="1.1"/>
<text x="58.70" y="353.10" font-size="7.2">TGFβ1_high (n = 81)</text>
<text x="58.70" y="360.60" font-size="7.2">TGFβ1_low (n = 91)</text>
<text x="26.20" y="325.50" font-size="7.0" text-anchor="middle" transform="rotate(-90 26.20 325.50)">Survival probability</text>
<path d="M189.90,285.90 H194.08 V285.90 H196.33 V286.38 H197.45 V287.88 H198.58 V289.38 H199.73 V290.93 H200.88 V292.47 H202.39 V294.02 H203.91 V295.56 H205.17 V297.09 H206.42 V298.62 H207.67 V300.16 H208.85 V301.66 H210.03 V303.17 H216.14 V304.67 H222.21 V306.25 H226.81 V308.55 H230.62 V310.06 H234.44 V311.56 H257.34 V311.56 H260.37 V313.86 H264.19 V315.40 H268.00 V316.95 H284.00 V316.95" fill="none" stroke="#30609a" stroke-width="1.1"/>
<path d="M189.90,285.90 H191.47 V285.90 H193.25 V287.88 H194.79 V289.42 H196.33 V290.97 H197.45 V292.47 H198.58 V293.98 H200.09 V295.56 H200.36 V297.09 H200.62 V298.62 H200.88 V300.16 H201.18 V301.68 H201.48 V303.20 H201.79 V304.72 H202.09 V306.24 H202.39 V307.76 H203.02 V309.30 H203.65 V310.85 H205.48 V312.35 H206.49 V313.88 H207.50 V315.42 H208.51 V316.95 H210.81 V319.24 H216.14 V319.96 H222.21 V320.75 H225.29 V322.33 H229.84 V324.71 H239.04 V325.50 H243.59 V326.29 H255.77 V327.64 H266.43 V329.14 H284.00 V329.14" fill="none" stroke="#f8696b" stroke-width="1.1"/>
<line x1="189.50" y1="284.40" x2="189.50" y2="365.60" stroke="#222" stroke-width="0.9"/>
<line x1="189.05" y1="365.40" x2="284.50" y2="365.40" stroke="#222" stroke-width="0.9"/>
<line x1="187.70" y1="365.10" x2="189.50" y2="365.10" stroke="#222" stroke-width="0.7"/>
<text x="188.00" y="367.60" font-size="7.0" text-anchor="end">0%</text>
<line x1="187.70" y1="345.30" x2="189.50" y2="345.30" stroke="#222" stroke-width="0.7"/>
<text x="188.00" y="347.80" font-size="7.0" text-anchor="end">25%</text>
<line x1="187.70" y1="325.50" x2="189.50" y2="325.50" stroke="#222" stroke-width="0.7"/>
<text x="188.00" y="328.00" font-size="7.0" text-anchor="end">50%</text>
<line x1="187.70" y1="305.70" x2="189.50" y2="305.70" stroke="#222" stroke-width="0.7"/>
<text x="188.00" y="308.20" font-size="7.0" text-anchor="end">75%</text>
<line x1="187.70" y1="285.90" x2="189.50" y2="285.90" stroke="#222" stroke-width="0.7"/>
<text x="188.00" y="288.40" font-size="7.0" text-anchor="end">100%</text>
<line x1="189.90" y1="365.40" x2="189.90" y2="367.30" stroke="#222" stroke-width="0.7"/>
<text x="189.90" y="373.20" font-size="7.0" text-anchor="middle">0</text>
<line x1="205.58" y1="365.40" x2="205.58" y2="367.30" stroke="#222" stroke-width="0.7"/>
<text x="205.58" y="373.20" font-size="7.0" text-anchor="middle">30</text>
<line x1="221.27" y1="365.40" x2="221.27" y2="367.30" stroke="#222" stroke-width="0.7"/>
<text x="221.27" y="373.20" font-size="7.0" text-anchor="middle">60</text>
<line x1="236.95" y1="365.40" x2="236.95" y2="367.30" stroke="#222" stroke-width="0.7"/>
<text x="236.95" y="373.20" font-size="7.0" text-anchor="middle">90</text>
<line x1="252.63" y1="365.40" x2="252.63" y2="367.30" stroke="#222" stroke-width="0.7"/>
<text x="252.63" y="373.20" font-size="7.0" text-anchor="middle">120</text>
<line x1="268.32" y1="365.40" x2="268.32" y2="367.30" stroke="#222" stroke-width="0.7"/>
<text x="268.32" y="373.20" font-size="7.0" text-anchor="middle">150</text>
<line x1="284.00" y1="365.40" x2="284.00" y2="367.30" stroke="#222" stroke-width="0.7"/>
<text x="284.00" y="373.20" font-size="7.0" text-anchor="middle">180</text>
<text x="236.50" y="379.70" font-size="7.0" text-anchor="middle">Time (month)</text>
<text x="240.00" y="283.20" font-size="7.8" text-anchor="middle">SYSUCC−GC_OS</text>
<text x="202.70" y="343.40" font-size="7.2">Log-rank P = 0.016</text>
<line x1="193.10" y1="350.70" x2="197.70" y2="350.70" stroke="#f8696b" stroke-width="1.1"/>
<line x1="193.10" y1="358.20" x2="197.70" y2="358.20" stroke="#30609a" stroke-width="1.1"/>
<text x="200.00" y="353.10" font-size="7.2">TβR1_high (n = 82)</text>
<text x="200.00" y="360.60" font-size="7.2">TβR1_low (n = 90)</text>
<text x="167.50" y="325.50" font-size="7.0" text-anchor="middle" transform="rotate(-90 167.50 325.50)">Survival probability</text>
<text x="308.60" y="276.10" font-size="12.4" fill="#000" font-weight="bold">F</text>
<path d="M327.2,322.2 C333,319.5 339,318.5 344,317.8 L344.7,314 L356,312.6 L359.6,318.7 C365,319.5 370,320 373.6,321.3 C377,324 378,332 378.5,340 C379.5,346 380.5,351 380.6,354.6 L376.5,357.5 C372,352 369,347 366.6,342.3 L365,363.4 L336.8,363.4 L335.9,342.3 C333,348 328,354 322.8,358.1 L320.1,355.5 C322,346 324,334 327.2,322.2 Z" fill="#f9e0dc" stroke="#2a2a2a" stroke-width="0.7"/>
<path d="M344.7,314 C343.5,311.5 342.5,311.2 342,310.5 C340.5,309.5 339.5,308 340.2,306.5 C338.5,306 337.2,305.2 337.5,304.2 C338.5,302.5 339.5,301 339.8,299 C339.5,294.5 343,291.5 349,291.5 C355.5,291.5 359,295.5 358.7,301 C358.5,305 357,309 356,312.6 Z" fill="#f9e0dc" stroke="#2a2a2a" stroke-width="0.7"/>
<path d="M352.5,300 c1.5,-0.5 2.5,1 1.8,2.5 c-0.5,1 -1.5,1 -2,0.5" fill="none" stroke="#2a2a2a" stroke-width="0.5"/>
<path d="M340.5,300.5 l2.5,-0.3" fill="none" stroke="#2a2a2a" stroke-width="0.4"/>
<path d="M343,329 c2,0.8 4,0.8 6,0 M353,329 c2,0.8 4,0.8 6,0 M350.5,330 l0,2" fill="none" stroke="#2a2a2a" stroke-width="0.45"/>
<path d="M352,339.5 C354.5,339 355,341 355,343 C355,345 356.5,346.5 359,346.5 C361.5,347 362,350 360.5,352.5 C358,355.5 352,356 348.5,354.5 C347,353.5 347.5,351.5 349,351.5 C351,352 352,350 351.5,347 C351,344 350.5,341 352,339.5 Z" fill="#f3a793" stroke="#e58a78" stroke-width="0.4"/>
<ellipse cx="352.3" cy="352.3" rx="2.2" ry="1.4" fill="#7a6a66"/>
<path d="M356,351.6 L364,345.7 L388.8,353.9 L364,362.7 L356,355.2 Z" fill="#e6eef7" stroke="#5b8fc8" stroke-width="0.6"/>
<path d="M367.6,346.6 L375.5,349.2 L380.5,361 L372.5,362.5 Z" fill="#f2f2f6" stroke="#556" stroke-width="0.4"/>
<rect x="353.50" y="351.80" width="4.00" height="3.20" fill="#f4f4f8" stroke="#99a" stroke-width="0.3"/>
<path d="M400,331 L391.5,338.5 M400,331 L408.5,338.5" fill="none" stroke="#2a2a2a" stroke-width="0.6"/>
<path d="M395.5,327.5 L404.5,333.5 M404.5,327.5 L395.5,333.5 M396,330.5 L404,330.5" fill="none" stroke="#2a2a2a" stroke-width="0.5"/>
<ellipse cx="391.2" cy="340.5" rx="2" ry="2.8" fill="#fff" stroke="#333" stroke-width="0.5" transform="rotate(-25 391.2 340.5)"/>
<ellipse cx="408.8" cy="340.5" rx="2" ry="2.8" fill="#fff" stroke="#333" stroke-width="0.5" transform="rotate(25 408.8 340.5)"/>
<path d="M390,344 C396,342.5 404,342.5 410,344 L410.8,358.2 C404,357 396,357 389.5,358.2 Z" fill="#f3d2c8" stroke="#2a2a2a" stroke-width="0.5"/>
<ellipse cx="400" cy="346.6" rx="5.5" ry="3" fill="#a95d58"/>
<path d="M395,349.3 C398,350.5 402,350.5 405,349.3" fill="none" stroke="#f0b838" stroke-width="0.8"/>
<ellipse cx="400" cy="354" rx="6" ry="4" fill="#c98c7c"/>
<path d="M391,358.5 C392,361 395,361.5 396,359 M409,358.5 C408,361 405,361.5 404,359" fill="#fff" stroke="#2a2a2a" stroke-width="0.5"/>
<path d="M400,357.5 C400.5,363 400.8,368 399.5,372 C398.8,374 398.5,376 398.3,378" fill="none" stroke="#2a2a2a" stroke-width="0.6"/>
<path d="M404.5,349 L425,337.8 L425,357.8 Z" fill="#fcefe2" stroke="#e9b070" stroke-width="0.5"/>
<path d="M418,339.5 C421.5,339 426.5,341.5 427.5,347 C428.2,352 425,356 420,356 C415.5,356 411.5,353.5 412.5,351 C413.5,349.5 416.5,351 418.5,350 C420,348.5 418,345 417.5,342.5 C417.2,341 417.3,340 418,339.5 Z" fill="#f6b5b0" stroke="#e8908a" stroke-width="0.4"/>
<ellipse cx="421" cy="351.3" rx="2.2" ry="1.5" fill="#5a4030"/>
<text x="347.30" y="370.80" font-size="8.4" text-anchor="middle">GC patient</text>
<text x="399.50" y="370.80" font-size="8.4" text-anchor="middle">NSG mice</text>
<text x="399.50" y="313.50" font-size="8.4" text-anchor="middle">Orthotopic</text>
<text x="399.50" y="323.50" font-size="8.4" text-anchor="middle">PDX</text>
<text x="453.50" y="298.00" font-size="8.5" text-anchor="middle">Vehicle</text>
<text x="453.50" y="306.52" font-size="8.5" text-anchor="middle">or</text>
<text x="453.50" y="315.04" font-size="8.5" text-anchor="middle">Galunisertib</text>
<text x="453.50" y="323.56" font-size="8.5" text-anchor="middle">(75 mg/kg)</text>
<text x="453.50" y="332.08" font-size="8.5" text-anchor="middle">or</text>
<text x="453.50" y="340.60" font-size="8.5" text-anchor="middle">Vactosertib</text>
<text x="453.50" y="349.12" font-size="8.5" text-anchor="middle">(40 mg/kg)</text>
<line x1="432.70" y1="353.20" x2="432.70" y2="358.50" stroke="#2f63a8" stroke-width="0.9"/>
<path d="M431.1,357.3 L432.7,360.9 L434.3,357.3 Z" fill="#2f63a8"/>
<line x1="440.90" y1="353.20" x2="440.90" y2="358.50" stroke="#2f63a8" stroke-width="0.9"/>
<path d="M439.3,357.3 L440.9,360.9 L442.5,357.3 Z" fill="#2f63a8"/>
<line x1="449.00" y1="353.20" x2="449.00" y2="358.50" stroke="#2f63a8" stroke-width="0.9"/>
<path d="M447.4,357.3 L449.0,360.9 L450.6,357.3 Z" fill="#2f63a8"/>
<line x1="457.20" y1="353.20" x2="457.20" y2="358.50" stroke="#2f63a8" stroke-width="0.9"/>
<path d="M455.6,357.3 L457.2,360.9 L458.8,357.3 Z" fill="#2f63a8"/>
<line x1="465.40" y1="353.20" x2="465.40" y2="358.50" stroke="#2f63a8" stroke-width="0.9"/>
<path d="M463.8,357.3 L465.4,360.9 L467.0,357.3 Z" fill="#2f63a8"/>
<line x1="474.00" y1="353.20" x2="474.00" y2="358.50" stroke="#2f63a8" stroke-width="0.9"/>
<path d="M472.4,357.3 L474.0,360.9 L475.6,357.3 Z" fill="#2f63a8"/>
<line x1="426.20" y1="362.40" x2="481.50" y2="362.40" stroke="#222" stroke-width="0.8"/>
<path d="M480,360.6 L483.5,362.4 L480,364.2 Z" fill="#222"/>
<text x="484.20" y="364.90" font-size="8.45">Terminally ill</text>
<text x="452.70" y="370.20" font-size="8.4" text-anchor="middle">i.p. q3d</text>
<rect x="487.90" y="327.40" width="37.80" height="28.20" fill="#f8b6b6"/>
<text x="506.80" y="338.20" font-size="8.4" text-anchor="middle" fill="#333">Survival</text>
<text x="506.80" y="348.00" font-size="8.4" text-anchor="middle" fill="#333">analysis</text>
<text x="540.20" y="276.60" font-size="12.4" fill="#000" font-weight="bold">G</text>
<line x1="589.50" y1="303.00" x2="589.50" y2="364.50" stroke="#555" stroke-width="0.9"/>
<rect x="590.00" y="307.50" width="77.60" height="13.60" fill="#30609a" stroke="#333" stroke-width="0.5"/>
<rect x="590.00" y="307.50" width="30.50" height="13.60" fill="#f8696b" stroke="#333" stroke-width="0.5"/>
<text x="588.60" y="317.00" font-size="7.9" text-anchor="end">Vehicle</text>
<line x1="587.70" y1="314.30" x2="589.50" y2="314.30" stroke="#222" stroke-width="0.7"/>
<text x="670.30" y="317.00" font-size="7.9">4/6</text>
<rect x="590.00" y="327.20" width="77.60" height="13.10" fill="#30609a" stroke="#333" stroke-width="0.5"/>
<text x="588.60" y="336.45" font-size="7.9" text-anchor="end">Galunisertib</text>
<line x1="587.70" y1="333.75" x2="589.50" y2="333.75" stroke="#222" stroke-width="0.7"/>
<text x="670.30" y="336.45" font-size="7.9">0/10</text>
<rect x="590.00" y="346.70" width="77.60" height="13.50" fill="#30609a" stroke="#333" stroke-width="0.5"/>
<rect x="590.00" y="346.70" width="7.20" height="13.50" fill="#f8696b" stroke="#333" stroke-width="0.5"/>
<text x="588.60" y="356.15" font-size="7.9" text-anchor="end">Vactosertib</text>
<line x1="587.70" y1="353.45" x2="589.50" y2="353.45" stroke="#222" stroke-width="0.7"/>
<text x="670.30" y="356.15" font-size="7.9">1/9</text>
<text x="587.70" y="298.50" font-size="7.9">Metastasis</text>
<rect x="629.60" y="292.60" width="3.50" height="6.00" fill="#30609a" stroke="#333" stroke-width="0.4"/>
<text x="636.40" y="298.50" font-size="7.9">No</text>
<rect x="651.00" y="292.60" width="3.50" height="6.00" fill="#f8696b" stroke="#333" stroke-width="0.4"/>
<text x="657.90" y="298.50" font-size="7.9">Yes</text>
<text x="590.00" y="372.90" font-size="7.9" text-anchor="middle">0%</text>
<text x="609.45" y="372.90" font-size="7.9" text-anchor="middle">25%</text>
<text x="628.90" y="372.90" font-size="7.9" text-anchor="middle">50%</text>
<text x="648.35" y="372.90" font-size="7.9" text-anchor="middle">75%</text>
<text x="667.80" y="372.90" font-size="7.9" text-anchor="middle">100%</text>
<text x="629.20" y="379.00" font-size="7.9" text-anchor="middle">Percentage</text>
<text x="0.50" y="403.00" font-size="12.4" fill="#000" font-weight="bold">H</text>
<line x1="46.60" y1="415.00" x2="46.60" y2="497.00" stroke="#222" stroke-width="0.9"/>
<line x1="46.20" y1="496.70" x2="175.00" y2="496.70" stroke="#222" stroke-width="0.9"/>
<line x1="44.80" y1="496.40" x2="46.60" y2="496.40" stroke="#222" stroke-width="0.7"/>
<text x="45.00" y="499.30" font-size="8.0" text-anchor="end">0%</text>
<line x1="44.80" y1="476.25" x2="46.60" y2="476.25" stroke="#222" stroke-width="0.7"/>
<text x="45.00" y="479.15" font-size="8.0" text-anchor="end">25%</text>
<line x1="44.80" y1="456.10" x2="46.60" y2="456.10" stroke="#222" stroke-width="0.7"/>
<text x="45.00" y="459.00" font-size="8.0" text-anchor="end">50%</text>
<line x1="44.80" y1="435.95" x2="46.60" y2="435.95" stroke="#222" stroke-width="0.7"/>
<text x="45.00" y="438.85" font-size="8.0" text-anchor="end">75%</text>
<line x1="44.80" y1="415.80" x2="46.60" y2="415.80" stroke="#222" stroke-width="0.7"/>
<text x="45.00" y="418.70" font-size="8.0" text-anchor="end">100%</text>
<line x1="46.80" y1="496.70" x2="46.80" y2="498.50" stroke="#222" stroke-width="0.7"/>
<text x="46.80" y="504.60" font-size="8.0" text-anchor="middle">0</text>
<line x1="64.42" y1="496.70" x2="64.42" y2="498.50" stroke="#222" stroke-width="0.7"/>
<text x="64.42" y="504.60" font-size="8.0" text-anchor="middle">10</text>
<line x1="82.04" y1="496.70" x2="82.04" y2="498.50" stroke="#222" stroke-width="0.7"/>
<text x="82.04" y="504.60" font-size="8.0" text-anchor="middle">20</text>
<line x1="99.66" y1="496.70" x2="99.66" y2="498.50" stroke="#222" stroke-width="0.7"/>
<text x="99.66" y="504.60" font-size="8.0" text-anchor="middle">30</text>
<line x1="117.28" y1="496.70" x2="117.28" y2="498.50" stroke="#222" stroke-width="0.7"/>
<text x="117.28" y="504.60" font-size="8.0" text-anchor="middle">40</text>
<line x1="134.90" y1="496.70" x2="134.90" y2="498.50" stroke="#222" stroke-width="0.7"/>
<text x="134.90" y="504.60" font-size="8.0" text-anchor="middle">50</text>
<line x1="152.52" y1="496.70" x2="152.52" y2="498.50" stroke="#222" stroke-width="0.7"/>
<text x="152.52" y="504.60" font-size="8.0" text-anchor="middle">60</text>
<line x1="170.14" y1="496.70" x2="170.14" y2="498.50" stroke="#222" stroke-width="0.7"/>
<text x="170.14" y="504.60" font-size="8.0" text-anchor="middle">70</text>
<text x="105.40" y="511.30" font-size="8.0" text-anchor="middle">Time (days)</text>
<text x="22.00" y="456.50" font-size="8.0" text-anchor="middle" transform="rotate(-90 22.00 456.50)">Survival probability</text>
<path d="M46.80,415.80 H140.40 V423.86 H145.60 V431.92 H152.60 V439.98 H155.90 V448.04 H162.90 V456.10 H166.60 V464.16 H170.20 V480.28 H173.80 V488.34 H177.40 V496.40" fill="none" stroke="#30609a" stroke-width="1.1"/>
<path d="M46.80,415.80 H134.80 V431.92 H143.60 V439.98 H147.00 V448.04 H152.30 V456.10 H155.70 V464.16 H159.30 V472.22 H162.90 V480.28 H168.50 V488.34 H173.80 V496.40" fill="none" stroke="#8dc63f" stroke-width="1.1"/>
<path d="M46.80,415.80 H127.80 V423.86 H129.50 V431.92 H136.50 V439.98 H145.40 V448.04 H150.30 V456.10 H154.00 V464.16 H157.40 V472.22 H161.50 V480.28 H164.60 V488.34 H170.20 V496.40" fill="none" stroke="#f8696b" stroke-width="1.1"/>
<line x1="84.00" y1="468.90" x2="88.80" y2="468.90" stroke="#30609a" stroke-width="1.2"/>
<text x="92.40" y="471.50" font-size="7.9">Vehicle</text>
<line x1="84.00" y1="477.95" x2="88.80" y2="477.95" stroke="#f8696b" stroke-width="1.2"/>
<text x="92.40" y="480.55" font-size="7.9">Galunisertib</text>
<line x1="84.00" y1="487.00" x2="88.80" y2="487.00" stroke="#8dc63f" stroke-width="1.2"/>
<text x="92.40" y="489.60" font-size="7.9">Vactosertib</text>
<polyline points="64.80,468.80 63.20,468.80 63.20,487.40 64.80,487.40" fill="none" stroke="#333" stroke-width="0.7"/>
<polyline points="79.30,468.80 77.70,468.80 77.70,477.60 79.30,477.60" fill="none" stroke="#333" stroke-width="0.7"/>
<text x="61.20" y="478.20" font-size="7.15" text-anchor="middle" transform="rotate(-90 61.20 478.20)">p = 0.16</text>
<text x="75.80" y="472.60" font-size="7.15" text-anchor="middle" transform="rotate(-90 75.80 472.60)">p = 0.055</text>
<text x="208.30" y="403.00" font-size="12.4" fill="#000" font-weight="bold">I</text>
<text x="277.90" y="407.10" font-size="7.8" text-anchor="middle">Vehicle</text>
<text x="365.50" y="407.20" font-size="7.8" text-anchor="middle">Galunisertib</text>
<line x1="225.20" y1="409.60" x2="324.90" y2="409.60" stroke="#999" stroke-width="1.2"/>
<line x1="327.00" y1="409.60" x2="401.80" y2="409.60" stroke="#999" stroke-width="1.2"/>
<line x1="223.60" y1="411.30" x2="223.60" y2="504.00" stroke="#222" stroke-width="1"/>
<text x="219.80" y="455.50" font-size="7.8" text-anchor="middle" transform="rotate(-90 219.80 455.50)">Sagittal</text>
<g clip-path="url(#c16)">
<rect x="225.00" y="411.60" width="23.00" height="92.20" fill="#000"/>
<rect x="225.00" y="411.60" width="23.00" height="9.00" fill="#3a3a3a"/>
<line x1="232.00" y1="411.60" x2="232.50" y2="420.60" stroke="#111" stroke-width="1.2"/>
<line x1="240.50" y1="411.60" x2="240.00" y2="420.60" stroke="#111" stroke-width="1.2"/>
<ellipse cx="236.5" cy="457.5" rx="8.5" ry="36.5" fill="#141c34" stroke="#6a7080" stroke-width="0.8" stroke-opacity="0.7"/>
<ellipse cx="236.5" cy="457.5" rx="8.5" ry="36.5" fill="#000" filter="url(#motL)" opacity="0.35"/>
<ellipse cx="236.5" cy="465.5" rx="5.1" ry="22.5" fill="url(#gBlue)" opacity="0.45"/>
<ellipse cx="237.5" cy="434.0" rx="8.0" ry="14.0" fill="url(#gGreen)"/>
<ellipse cx="236.8" cy="434.0" rx="6.5" ry="12.0" fill="url(#gHot)"/>
<circle cx="240.0" cy="462.7" r="4.3" fill="url(#gGreen)"/>
<circle cx="240.2" cy="479.0" r="6.0" fill="url(#gBlad)"/>
<ellipse cx="236.6" cy="455.5" rx="8.5" ry="6.4" fill="#1a2a5a" fill-opacity="0.5" stroke="#f02ca4" stroke-width="1.6" stroke-dasharray="1.2 1.2"/>
<circle cx="240.0" cy="462.7" r="4.3" fill="none" stroke="#f8c020" stroke-width="1.5" stroke-dasharray="1.1 1.1"/>
</g>
<g clip-path="url(#c17)">
<rect x="250.40" y="411.60" width="23.00" height="92.20" fill="#000"/>
<rect x="250.40" y="411.60" width="23.00" height="9.00" fill="#3a3a3a"/>
<line x1="257.40" y1="411.60" x2="257.90" y2="420.60" stroke="#111" stroke-width="1.2"/>
<line x1="265.90" y1="411.60" x2="265.40" y2="420.60" stroke="#111" stroke-width="1.2"/>
<ellipse cx="261.9" cy="461.0" rx="9.5" ry="37.0" fill="#141c34" stroke="#6a7080" stroke-width="0.8" stroke-opacity="0.7"/>
<ellipse cx="261.9" cy="461.0" rx="9.5" ry="37.0" fill="#000" filter="url(#motL)" opacity="0.35"/>
<ellipse cx="261.9" cy="469.0" rx="5.7" ry="23.0" fill="url(#gBlue)" opacity="0.45"/>
<ellipse cx="262.5" cy="431.0" rx="6.5" ry="7.5" fill="url(#gGreen)"/>
<ellipse cx="262.0" cy="443.0" rx="8.0" ry="7.0" fill="url(#gGreen)"/>
<ellipse cx="260.5" cy="442.5" rx="5.5" ry="5.5" fill="url(#gHot)"/>
<ellipse cx="266.5" cy="446.0" rx="3.2" ry="3.5" fill="url(#gHot)"/>
<circle cx="261.5" cy="467.8" r="6.4" fill="url(#gGreen)"/>
<circle cx="263.2" cy="483.0" r="6.0" fill="url(#gBlad)"/>
<ellipse cx="262.6" cy="458.0" rx="9.8" ry="7.8" fill="#1a2a5a" fill-opacity="0.5" stroke="#f02ca4" stroke-width="1.6" stroke-dasharray="1.2 1.2"/>
<circle cx="261.5" cy="467.8" r="6.4" fill="none" stroke="#f8c020" stroke-width="1.5" stroke-dasharray="1.1 1.1"/>
</g>
<g clip-path="url(#c18)">
<rect x="275.90" y="411.60" width="23.00" height="92.20" fill="#000"/>
<rect x="275.90" y="411.60" width="23.00" height="9.00" fill="#3a3a3a"/>
<line x1="282.90" y1="411.60" x2="283.40" y2="420.60" stroke="#111" stroke-width="1.2"/>
<line x1="291.40" y1="411.60" x2="290.90" y2="420.60" stroke="#111" stroke-width="1.2"/>
<ellipse cx="287.4" cy="458.0" rx="6.5" ry="42.0" fill="#141c34" stroke="#6a7080" stroke-width="0.8" stroke-opacity="0.7"/>
<ellipse cx="287.4" cy="458.0" rx="6.5" ry="42.0" fill="#000" filter="url(#motL)" opacity="0.35"/>
<ellipse cx="287.4" cy="466.0" rx="3.9" ry="28.0" fill="url(#gBlue)" opacity="0.45"/>
<ellipse cx="288.5" cy="421.5" rx="3.2" ry="5.5" fill="url(#gGreen)"/>
<ellipse cx="287.7" cy="446.0" rx="4.0" ry="4.0" fill="url(#gGreen)"/>
<circle cx="287.0" cy="462.7" r="4.8" fill="url(#gGreen)"/>
<circle cx="288.1" cy="478.2" r="5.0" fill="url(#gBlad)"/>
<ellipse cx="287.7" cy="456.5" rx="7.2" ry="6.5" fill="#1a2a5a" fill-opacity="0.5" stroke="#f02ca4" stroke-width="1.6" stroke-dasharray="1.2 1.2"/>
<circle cx="287.0" cy="462.7" r="4.8" fill="none" stroke="#f8c020" stroke-width="1.5" stroke-dasharray="1.1 1.1"/>
</g>
<g clip-path="url(#c19)">
<rect x="301.50" y="411.60" width="23.00" height="92.20" fill="#000"/>
<rect x="301.50" y="411.60" width="23.00" height="9.00" fill="#3a3a3a"/>
<line x1="308.50" y1="411.60" x2="309.00" y2="420.60" stroke="#111" stroke-width="1.2"/>
<line x1="317.00" y1="411.60" x2="316.50" y2="420.60" stroke="#111" stroke-width="1.2"/>
<ellipse cx="313.0" cy="456.5" rx="9.0" ry="37.5" fill="#141c34" stroke="#6a7080" stroke-width="0.8" stroke-opacity="0.7"/>
<ellipse cx="313.0" cy="456.5" rx="9.0" ry="37.5" fill="#000" filter="url(#motL)" opacity="0.35"/>
<ellipse cx="313.0" cy="464.5" rx="5.4" ry="23.5" fill="url(#gBlue)" opacity="0.45"/>
<ellipse cx="312.5" cy="432.0" rx="7.0" ry="12.0" fill="url(#gGreen)"/>
<ellipse cx="312.3" cy="430.0" rx="5.2" ry="8.5" fill="url(#gHot)"/>
<circle cx="317.7" cy="462.7" r="4.3" fill="url(#gGreen)"/>
<circle cx="315.7" cy="478.6" r="4.8" fill="url(#gBlad)"/>
<ellipse cx="312.6" cy="456.5" rx="8.0" ry="7.2" fill="#1a2a5a" fill-opacity="0.5" stroke="#f02ca4" stroke-width="1.6" stroke-dasharray="1.2 1.2"/>
<circle cx="317.7" cy="462.7" r="4.3" fill="none" stroke="#f8c020" stroke-width="1.5" stroke-dasharray="1.1 1.1"/>
</g>
<g clip-path="url(#c20)">
<rect x="327.10" y="411.60" width="23.00" height="92.20" fill="#000"/>
<rect x="327.10" y="411.60" width="23.00" height="9.00" fill="#3a3a3a"/>
<line x1="334.10" y1="411.60" x2="334.60" y2="420.60" stroke="#111" stroke-width="1.2"/>
<line x1="342.60" y1="411.60" x2="342.10" y2="420.60" stroke="#111" stroke-width="1.2"/>
<ellipse cx="338.6" cy="458.5" rx="9.5" ry="39.5" fill="#141c34" stroke="#6a7080" stroke-width="0.8" stroke-opacity="0.7"/>
<ellipse cx="338.6" cy="458.5" rx="9.5" ry="39.5" fill="#000" filter="url(#motL)" opacity="0.35"/>
<ellipse cx="338.6" cy="466.5" rx="5.7" ry="25.5" fill="url(#gBlue)" opacity="0.45"/>
<ellipse cx="339.0" cy="436.0" rx="8.5" ry="15.0" fill="url(#gGreen)"/>
<ellipse cx="340.5" cy="425.5" rx="4.2" ry="5.2" fill="url(#gGreen)"/>
<ellipse cx="337.0" cy="440.5" rx="6.5" ry="8.0" fill="url(#gHot)"/>
<circle cx="343.4" cy="463.3" r="5.0" fill="url(#gGreen)"/>
<circle cx="342.2" cy="484.3" r="3.8" fill="url(#gBlad)"/>
<ellipse cx="339.9" cy="455.0" rx="8.8" ry="6.8" fill="#1a2a5a" fill-opacity="0.5" stroke="#f02ca4" stroke-width="1.6" stroke-dasharray="1.2 1.2"/>
<circle cx="343.4" cy="463.3" r="5.0" fill="none" stroke="#f8c020" stroke-width="1.5" stroke-dasharray="1.1 1.1"/>
</g>
<g clip-path="url(#c21)">
<rect x="352.70" y="411.60" width="23.00" height="92.20" fill="#000"/>
<rect x="352.70" y="411.60" width="23.00" height="9.00" fill="#3a3a3a"/>
<line x1="359.70" y1="411.60" x2="360.20" y2="420.60" stroke="#111" stroke-width="1.2"/>
<line x1="368.20" y1="411.60" x2="367.70" y2="420.60" stroke="#111" stroke-width="1.2"/>
<ellipse cx="364.2" cy="456.0" rx="9.0" ry="38.0" fill="#141c34" stroke="#6a7080" stroke-width="0.8" stroke-opacity="0.7"/>
<ellipse cx="364.2" cy="456.0" rx="9.0" ry="38.0" fill="#000" filter="url(#motL)" opacity="0.35"/>
<ellipse cx="364.2" cy="464.0" rx="5.4" ry="24.0" fill="url(#gBlue)" opacity="0.45"/>
<ellipse cx="363.0" cy="437.0" rx="8.0" ry="14.0" fill="url(#gGreen)"/>
<ellipse cx="363.5" cy="425.5" rx="4.0" ry="5.0" fill="url(#gGreen)"/>
<ellipse cx="361.5" cy="443.5" rx="6.2" ry="6.8" fill="url(#gHot)"/>
<circle cx="363.2" cy="464.4" r="5.4" fill="url(#gGreen)"/>
<circle cx="362.5" cy="483.1" r="5.0" fill="url(#gBlad)"/>
<ellipse cx="363.2" cy="455.0" rx="8.8" ry="6.8" fill="#1a2a5a" fill-opacity="0.5" stroke="#f02ca4" stroke-width="1.6" stroke-dasharray="1.2 1.2"/>
<circle cx="363.2" cy="464.4" r="5.4" fill="none" stroke="#f8c020" stroke-width="1.5" stroke-dasharray="1.1 1.1"/>
</g>
<g clip-path="url(#c22)">
<rect x="378.20" y="411.60" width="23.00" height="92.20" fill="#000"/>
<rect x="378.20" y="411.60" width="23.00" height="9.00" fill="#3a3a3a"/>
<line x1="385.20" y1="411.60" x2="385.70" y2="420.60" stroke="#111" stroke-width="1.2"/>
<line x1="393.70" y1="411.60" x2="393.20" y2="420.60" stroke="#111" stroke-width="1.2"/>
<ellipse cx="389.7" cy="454.5" rx="8.5" ry="35.5" fill="#141c34" stroke="#6a7080" stroke-width="0.8" stroke-opacity="0.7"/>
<ellipse cx="389.7" cy="454.5" rx="8.5" ry="35.5" fill="#000" filter="url(#motL)" opacity="0.35"/>
<ellipse cx="389.7" cy="462.5" rx="5.1" ry="21.5" fill="url(#gBlue)" opacity="0.45"/>
<ellipse cx="389.5" cy="434.0" rx="7.5" ry="13.0" fill="url(#gGreen)"/>
<ellipse cx="389.5" cy="430.0" rx="5.5" ry="8.5" fill="url(#gHot)"/>
<circle cx="385.4" cy="463.3" r="4.4" fill="url(#gGreen)"/>
<circle cx="388.9" cy="480.0" r="6.5" fill="url(#gBlad)"/>
<ellipse cx="388.9" cy="455.0" rx="8.3" ry="6.8" fill="#1a2a5a" fill-opacity="0.5" stroke="#f02ca4" stroke-width="1.6" stroke-dasharray="1.2 1.2"/>
<circle cx="385.4" cy="463.3" r="4.4" fill="none" stroke="#f8c020" stroke-width="1.5" stroke-dasharray="1.1 1.1"/>
</g>
<text x="425.10" y="407.20" font-size="7.8" text-anchor="middle">Vehicle</text>
<text x="460.20" y="407.20" font-size="7.8" text-anchor="middle">Galunisertib</text>
<line x1="415.80" y1="409.60" x2="438.00" y2="409.60" stroke="#999" stroke-width="1.2"/>
<line x1="441.00" y1="409.60" x2="463.00" y2="409.60" stroke="#999" stroke-width="1.2"/>
<line x1="414.60" y1="411.60" x2="414.60" y2="504.10" stroke="#222" stroke-width="1"/>
<text x="411.80" y="455.00" font-size="7.8" text-anchor="middle" transform="rotate(-90 411.80 455.00)">Transverse</text>
<g clip-path="url(#c23)">
<rect x="416.20" y="411.90" width="21.80" height="21.70" fill="#000"/>
<ellipse cx="427.1" cy="422.8" rx="9" ry="9.3" fill="#2c3650" stroke="#5a6070" stroke-width="0.5"/>
<ellipse cx="427.1" cy="422.8" rx="9" ry="9.3" fill="#000" filter="url(#motL)" opacity="0.3"/>
<ellipse cx="425.6" cy="420.8" rx="6" ry="5.5" fill="#2a50a0" opacity="0.45"/>
<ellipse cx="430.1" cy="426.5" rx="5.5" ry="5.3" fill="url(#gGreen)" opacity="0.85" transform="rotate(0 430.1 426.5)"/>
<ellipse cx="430.1" cy="426.5" rx="5.0" ry="4.8" fill="none" stroke="#f6a828" stroke-width="1.5" stroke-dasharray="1.1 1.3" transform="rotate(0 430.1 426.5)"/>
</g>
<g clip-path="url(#c24)">
<rect x="416.20" y="435.20" width="21.80" height="22.20" fill="#000"/>
<ellipse cx="427.1" cy="446.3" rx="9" ry="9.3" fill="#2c3650" stroke="#5a6070" stroke-width="0.5"/>
<ellipse cx="427.1" cy="446.3" rx="9" ry="9.3" fill="#000" filter="url(#motL)" opacity="0.3"/>
<ellipse cx="425.6" cy="444.3" rx="6" ry="5.5" fill="#2a50a0" opacity="0.45"/>
<ellipse cx="430.8" cy="445.0" rx="6.1" ry="5.7" fill="url(#gGreen)" opacity="0.85" transform="rotate(0 430.8 445.0)"/>
<ellipse cx="430.8" cy="445.0" rx="5.5" ry="5.2" fill="none" stroke="#f6a828" stroke-width="1.5" stroke-dasharray="1.1 1.3" transform="rotate(0 430.8 445.0)"/>
</g>
<g clip-path="url(#c25)">
<rect x="416.20" y="459.30" width="21.80" height="21.50" fill="#000"/>
<ellipse cx="427.1" cy="470.1" rx="9" ry="9.3" fill="#2c3650" stroke="#5a6070" stroke-width="0.5"/>
<ellipse cx="427.1" cy="470.1" rx="9" ry="9.3" fill="#000" filter="url(#motL)" opacity="0.3"/>
<ellipse cx="425.6" cy="468.1" rx="6" ry="5.5" fill="#2a50a0" opacity="0.45"/>
<ellipse cx="428.7" cy="474.0" rx="5.1" ry="4.4" fill="url(#gGreen)" opacity="0.85" transform="rotate(0 428.7 474.0)"/>
<ellipse cx="428.7" cy="474.0" rx="4.6" ry="4.0" fill="none" stroke="#f6a828" stroke-width="1.5" stroke-dasharray="1.1 1.3" transform="rotate(0 428.7 474.0)"/>
</g>
<g clip-path="url(#c26)">
<rect x="416.20" y="482.60" width="21.80" height="21.50" fill="#000"/>
<ellipse cx="427.1" cy="493.4" rx="9" ry="9.3" fill="#2c3650" stroke="#5a6070" stroke-width="0.5"/>
<ellipse cx="427.1" cy="493.4" rx="9" ry="9.3" fill="#000" filter="url(#motL)" opacity="0.3"/>
<ellipse cx="425.6" cy="491.4" rx="6" ry="5.5" fill="#2a50a0" opacity="0.45"/>
<ellipse cx="429.4" cy="495.5" rx="4.4" ry="4.8" fill="url(#gGreen)" opacity="0.85" transform="rotate(0 429.4 495.5)"/>
<ellipse cx="429.4" cy="495.5" rx="4.0" ry="4.4" fill="none" stroke="#f6a828" stroke-width="1.5" stroke-dasharray="1.1 1.3" transform="rotate(0 429.4 495.5)"/>
</g>
<g clip-path="url(#c27)">
<rect x="440.30" y="411.90" width="22.20" height="21.70" fill="#000"/>
<ellipse cx="451.4" cy="422.8" rx="9" ry="9.3" fill="#2c3650" stroke="#5a6070" stroke-width="0.5"/>
<ellipse cx="451.4" cy="422.8" rx="9" ry="9.3" fill="#000" filter="url(#motL)" opacity="0.3"/>
<ellipse cx="449.9" cy="420.8" rx="6" ry="5.5" fill="#2a50a0" opacity="0.45"/>
<ellipse cx="449.5" cy="424.5" rx="5.1" ry="7.9" fill="url(#gHot)" opacity="0.85" transform="rotate(-12 449.5 424.5)"/>
<ellipse cx="449.5" cy="424.5" rx="4.6" ry="7.2" fill="none" stroke="#f6a828" stroke-width="1.5" stroke-dasharray="1.1 1.3" transform="rotate(-12 449.5 424.5)"/>
</g>
<g clip-path="url(#c28)">
<rect x="440.30" y="435.20" width="22.20" height="22.20" fill="#000"/>
<ellipse cx="451.4" cy="446.3" rx="9" ry="9.3" fill="#2c3650" stroke="#5a6070" stroke-width="0.5"/>
<ellipse cx="451.4" cy="446.3" rx="9" ry="9.3" fill="#000" filter="url(#motL)" opacity="0.3"/>
<ellipse cx="449.9" cy="444.3" rx="6" ry="5.5" fill="#2a50a0" opacity="0.45"/>
<ellipse cx="453.5" cy="447.5" rx="7.7" ry="5.1" fill="url(#gHot)" opacity="0.85" transform="rotate(-28 453.5 447.5)"/>
<ellipse cx="453.5" cy="447.5" rx="7.0" ry="4.6" fill="none" stroke="#f6a828" stroke-width="1.5" stroke-dasharray="1.1 1.3" transform="rotate(-28 453.5 447.5)"/>
</g>
<g clip-path="url(#c29)">
<rect x="440.30" y="459.30" width="22.20" height="21.50" fill="#000"/>
<ellipse cx="451.4" cy="470.1" rx="9" ry="9.3" fill="#2c3650" stroke="#5a6070" stroke-width="0.5"/>
<ellipse cx="451.4" cy="470.1" rx="9" ry="9.3" fill="#000" filter="url(#motL)" opacity="0.3"/>
<ellipse cx="449.9" cy="468.1" rx="6" ry="5.5" fill="#2a50a0" opacity="0.45"/>
<ellipse cx="453.8" cy="470.5" rx="7.3" ry="5.5" fill="url(#gGreen)" opacity="0.85" transform="rotate(-32 453.8 470.5)"/>
<ellipse cx="453.8" cy="470.5" rx="6.6" ry="5.0" fill="none" stroke="#f6a828" stroke-width="1.5" stroke-dasharray="1.1 1.3" transform="rotate(-32 453.8 470.5)"/>
</g>
<text x="507.80" y="403.60" font-size="12.4" fill="#000" font-weight="bold">J</text>
<rect x="551.00" y="472.23" width="16.00" height="17.07" fill="#30609a" stroke="#111" stroke-width="0.7"/>
<rect x="570.40" y="443.12" width="16.40" height="46.18" fill="#f8696b" stroke="#111" stroke-width="0.7"/>
<line x1="559.20" y1="481.02" x2="559.20" y2="463.20" stroke="#111" stroke-width="0.8"/>
<line x1="556.70" y1="481.02" x2="561.70" y2="481.02" stroke="#111" stroke-width="0.8"/>
<line x1="556.70" y1="463.20" x2="561.70" y2="463.20" stroke="#111" stroke-width="0.8"/>
<line x1="578.60" y1="454.66" x2="578.60" y2="431.32" stroke="#111" stroke-width="0.8"/>
<line x1="576.10" y1="454.66" x2="581.10" y2="454.66" stroke="#111" stroke-width="0.8"/>
<line x1="576.10" y1="431.32" x2="581.10" y2="431.32" stroke="#111" stroke-width="0.8"/>
<circle cx="554.60" cy="464.20" r="1.60" fill="#000"/>
<circle cx="558.50" cy="461.69" r="1.60" fill="#000"/>
<circle cx="555.70" cy="478.51" r="1.60" fill="#000"/>
<circle cx="556.60" cy="482.02" r="1.60" fill="#000"/>
<circle cx="578.10" cy="428.81" r="1.60" fill="#000"/>
<circle cx="582.80" cy="442.61" r="1.60" fill="#000"/>
<circle cx="575.70" cy="457.17" r="1.60" fill="#000"/>
<line x1="546.50" y1="409.80" x2="546.50" y2="489.60" stroke="#555" stroke-width="1.1"/>
<line x1="546.05" y1="489.60" x2="590.50" y2="489.60" stroke="#222" stroke-width="0.9"/>
<line x1="544.70" y1="489.30" x2="546.50" y2="489.30" stroke="#222" stroke-width="0.7"/>
<text x="544.30" y="492.10" font-size="7.9" text-anchor="end">0</text>
<line x1="544.70" y1="464.20" x2="546.50" y2="464.20" stroke="#222" stroke-width="0.7"/>
<text x="544.30" y="467.00" font-size="7.9" text-anchor="end">100</text>
<line x1="544.70" y1="439.10" x2="546.50" y2="439.10" stroke="#222" stroke-width="0.7"/>
<text x="544.30" y="441.90" font-size="7.9" text-anchor="end">200</text>
<line x1="544.70" y1="414.00" x2="546.50" y2="414.00" stroke="#222" stroke-width="0.7"/>
<text x="544.30" y="416.80" font-size="7.9" text-anchor="end">300</text>
<polyline points="558.50,422.70 558.50,421.10 578.60,421.10 578.60,422.70" fill="none" stroke="#222" stroke-width="0.8"/>
<text x="568.55" y="418.10" font-size="6.4" text-anchor="middle">P = 0.0465</text>
<text x="528.4" y="450.0" font-size="8.5" text-anchor="middle" fill="#1a1a1a" transform="rotate(-90 528.4 450.0)">Volume with <tspan font-size="4.5" dy="-3">18</tspan><tspan dy="3">FDG uptake</tspan></text>
<text x="563.50" y="494.60" font-size="7.9" text-anchor="end" transform="rotate(-45 563.50 494.60)">Vehicle</text>
<text x="583.10" y="494.60" font-size="7.9" text-anchor="end" transform="rotate(-45 583.10 494.60)">Galunisertib</text>
<rect x="638.40" y="475.07" width="15.50" height="14.13" fill="#30609a" stroke="#111" stroke-width="0.7"/>
<rect x="657.30" y="439.30" width="15.50" height="49.90" fill="#f8696b" stroke="#111" stroke-width="0.7"/>
<line x1="646.40" y1="482.29" x2="646.40" y2="467.56" stroke="#111" stroke-width="0.8"/>
<line x1="643.90" y1="482.29" x2="648.90" y2="482.29" stroke="#111" stroke-width="0.8"/>
<line x1="643.90" y1="467.56" x2="648.90" y2="467.56" stroke="#111" stroke-width="0.8"/>
<line x1="665.00" y1="451.32" x2="665.00" y2="427.58" stroke="#111" stroke-width="0.8"/>
<line x1="662.50" y1="451.32" x2="667.50" y2="451.32" stroke="#111" stroke-width="0.8"/>
<line x1="662.50" y1="427.58" x2="667.50" y2="427.58" stroke="#111" stroke-width="0.8"/>
<circle cx="648.90" cy="464.25" r="1.60" fill="#000"/>
<circle cx="647.40" cy="472.37" r="1.60" fill="#000"/>
<circle cx="649.70" cy="477.90" r="1.60" fill="#000"/>
<circle cx="648.10" cy="484.09" r="1.60" fill="#000"/>
<circle cx="665.50" cy="427.28" r="1.60" fill="#000"/>
<circle cx="661.60" cy="435.39" r="1.60" fill="#000"/>
<circle cx="663.20" cy="456.74" r="1.60" fill="#000"/>
<line x1="635.00" y1="409.80" x2="635.00" y2="489.50" stroke="#555" stroke-width="1.1"/>
<line x1="634.55" y1="489.50" x2="676.30" y2="489.50" stroke="#222" stroke-width="0.9"/>
<line x1="633.20" y1="489.20" x2="635.00" y2="489.20" stroke="#222" stroke-width="0.7"/>
<text x="632.80" y="492.00" font-size="7.9" text-anchor="end">0.0</text>
<line x1="633.20" y1="474.17" x2="635.00" y2="474.17" stroke="#222" stroke-width="0.7"/>
<text x="632.80" y="476.97" font-size="7.9" text-anchor="end">2.5</text>
<line x1="633.20" y1="459.14" x2="635.00" y2="459.14" stroke="#222" stroke-width="0.7"/>
<text x="632.80" y="461.94" font-size="7.9" text-anchor="end">5.0</text>
<line x1="633.20" y1="444.11" x2="635.00" y2="444.11" stroke="#222" stroke-width="0.7"/>
<text x="632.80" y="446.91" font-size="7.9" text-anchor="end">7.5</text>
<line x1="633.20" y1="429.08" x2="635.00" y2="429.08" stroke="#222" stroke-width="0.7"/>
<text x="632.80" y="431.88" font-size="7.9" text-anchor="end">10.0</text>
<line x1="633.20" y1="414.05" x2="635.00" y2="414.05" stroke="#222" stroke-width="0.7"/>
<text x="632.80" y="416.85" font-size="7.9" text-anchor="end">12.5</text>
<polyline points="646.40,422.50 646.40,420.90 665.50,420.90 665.50,422.50" fill="none" stroke="#222" stroke-width="0.8"/>
<text x="655.95" y="417.90" font-size="6.4" text-anchor="middle">P = 0.0312</text>
<text x="614.2" y="453.2" font-size="7.9" text-anchor="middle" fill="#1a1a1a" transform="rotate(-90 614.2 453.2)">SUV<tspan font-size="4.5" dy="1.8">mean</tspan></text>
<text x="650.65" y="494.50" font-size="7.9" text-anchor="end" transform="rotate(-45 650.65 494.50)">Vehicle</text>
<text x="669.55" y="494.50" font-size="7.9" text-anchor="end" transform="rotate(-45 669.55 494.50)">Galunisertib</text>
<text x="0.50" y="539.10" font-size="12.4" fill="#000" font-weight="bold">K</text>
<line x1="34.50" y1="546.30" x2="34.50" y2="631.00" stroke="#222" stroke-width="0.9"/>
<line x1="34.05" y1="631.00" x2="214.10" y2="631.00" stroke="#222" stroke-width="0.9"/>
<line x1="32.70" y1="626.70" x2="34.50" y2="626.70" stroke="#222" stroke-width="0.7"/>
<text x="32.20" y="629.30" font-size="7.1" text-anchor="end">0.8</text>
<line x1="32.70" y1="605.00" x2="34.50" y2="605.00" stroke="#222" stroke-width="0.7"/>
<text x="32.20" y="607.60" font-size="7.1" text-anchor="end">0.9</text>
<line x1="32.70" y1="583.30" x2="34.50" y2="583.30" stroke="#222" stroke-width="0.7"/>
<text x="32.20" y="585.90" font-size="7.1" text-anchor="end">1.0</text>
<line x1="32.70" y1="561.60" x2="34.50" y2="561.60" stroke="#222" stroke-width="0.7"/>
<text x="32.20" y="564.20" font-size="7.1" text-anchor="end">1.1</text>
<text x="20.80" y="588.90" font-size="7.3" text-anchor="middle" transform="rotate(-90 20.80 588.90)">Relative cell number</text>
<rect x="37.30" y="583.30" width="10.50" height="34.29" fill="#30609a" stroke="#222" stroke-width="0.6"/>
<line x1="42.55" y1="619.76" x2="42.55" y2="614.11" stroke="#111" stroke-width="0.7"/>
<line x1="40.95" y1="619.76" x2="44.15" y2="619.76" stroke="#111" stroke-width="0.7"/>
<line x1="40.95" y1="614.11" x2="44.15" y2="614.11" stroke="#111" stroke-width="0.7"/>
<circle cx="42.44" cy="617.65" r="0.90" fill="#111"/>
<circle cx="41.47" cy="614.87" r="0.90" fill="#111"/>
<circle cx="41.07" cy="616.92" r="0.90" fill="#111"/>
<text x="44.85" y="581.60" font-size="6.6" transform="rotate(-90 44.85 581.60)">P = 0.0028</text>
<line x1="42.55" y1="631.00" x2="42.55" y2="632.80" stroke="#222" stroke-width="0.7"/>
<text x="46.85" y="635.20" font-size="7.3" text-anchor="end" transform="rotate(-45 46.85 635.20)">SNU668</text>
<rect x="49.91" y="583.30" width="10.50" height="34.29" fill="#30609a" stroke="#222" stroke-width="0.6"/>
<line x1="55.16" y1="621.93" x2="55.16" y2="612.38" stroke="#111" stroke-width="0.7"/>
<line x1="53.56" y1="621.93" x2="56.77" y2="621.93" stroke="#111" stroke-width="0.7"/>
<line x1="53.56" y1="612.38" x2="56.77" y2="612.38" stroke="#111" stroke-width="0.7"/>
<circle cx="56.36" cy="621.15" r="0.90" fill="#111"/>
<circle cx="55.33" cy="616.04" r="0.90" fill="#111"/>
<circle cx="53.79" cy="618.31" r="0.90" fill="#111"/>
<text x="57.46" y="581.60" font-size="6.6" transform="rotate(-90 57.46 581.60)">P = 0.0065</text>
<line x1="55.16" y1="631.00" x2="55.16" y2="632.80" stroke="#222" stroke-width="0.7"/>
<text x="59.46" y="635.20" font-size="7.3" text-anchor="end" transform="rotate(-45 59.46 635.20)">HGC27</text>
<rect x="62.53" y="583.30" width="10.50" height="33.20" fill="#30609a" stroke="#222" stroke-width="0.6"/>
<line x1="67.78" y1="622.79" x2="67.78" y2="609.77" stroke="#111" stroke-width="0.7"/>
<line x1="66.18" y1="622.79" x2="69.38" y2="622.79" stroke="#111" stroke-width="0.7"/>
<line x1="66.18" y1="609.77" x2="69.38" y2="609.77" stroke="#111" stroke-width="0.7"/>
<circle cx="68.39" cy="616.91" r="0.90" fill="#111"/>
<circle cx="68.46" cy="620.75" r="0.90" fill="#111"/>
<circle cx="66.99" cy="621.35" r="0.90" fill="#111"/>
<text x="70.08" y="581.60" font-size="6.6" transform="rotate(-90 70.08 581.60)">P = 0.0133</text>
<line x1="67.78" y1="631.00" x2="67.78" y2="632.80" stroke="#222" stroke-width="0.7"/>
<text x="72.08" y="635.20" font-size="7.3" text-anchor="end" transform="rotate(-45 72.08 635.20)">AGS</text>
<rect x="75.14" y="583.30" width="10.50" height="30.38" fill="#30609a" stroke="#222" stroke-width="0.6"/>
<line x1="80.39" y1="616.28" x2="80.39" y2="611.08" stroke="#111" stroke-width="0.7"/>
<line x1="78.80" y1="616.28" x2="81.99" y2="616.28" stroke="#111" stroke-width="0.7"/>
<line x1="78.80" y1="611.08" x2="81.99" y2="611.08" stroke="#111" stroke-width="0.7"/>
<circle cx="80.41" cy="611.47" r="0.90" fill="#111"/>
<circle cx="80.67" cy="612.25" r="0.90" fill="#111"/>
<circle cx="80.05" cy="612.40" r="0.90" fill="#111"/>
<text x="82.69" y="581.60" font-size="6.6" transform="rotate(-90 82.69 581.60)">P = 0.0038</text>
<line x1="80.39" y1="631.00" x2="80.39" y2="632.80" stroke="#222" stroke-width="0.7"/>
<text x="84.69" y="635.20" font-size="7.3" text-anchor="end" transform="rotate(-45 84.69 635.20)">SNU216</text>
<rect x="87.76" y="583.30" width="10.50" height="28.64" fill="#30609a" stroke="#222" stroke-width="0.6"/>
<line x1="93.01" y1="618.45" x2="93.01" y2="605.65" stroke="#111" stroke-width="0.7"/>
<line x1="91.41" y1="618.45" x2="94.61" y2="618.45" stroke="#111" stroke-width="0.7"/>
<line x1="91.41" y1="605.65" x2="94.61" y2="605.65" stroke="#111" stroke-width="0.7"/>
<circle cx="91.82" cy="614.73" r="0.90" fill="#111"/>
<circle cx="93.53" cy="609.16" r="0.90" fill="#111"/>
<circle cx="92.78" cy="617.33" r="0.90" fill="#111"/>
<text x="95.31" y="581.60" font-size="6.6" transform="rotate(-90 95.31 581.60)">P = 0.0175</text>
<line x1="93.01" y1="631.00" x2="93.01" y2="632.80" stroke="#222" stroke-width="0.7"/>
<text x="97.31" y="635.20" font-size="7.3" text-anchor="end" transform="rotate(-45 97.31 635.20)">MKN74</text>
<rect x="100.38" y="583.30" width="10.50" height="24.30" fill="#30609a" stroke="#222" stroke-width="0.6"/>
<line x1="105.62" y1="612.38" x2="105.62" y2="602.83" stroke="#111" stroke-width="0.7"/>
<line x1="104.03" y1="612.38" x2="107.22" y2="612.38" stroke="#111" stroke-width="0.7"/>
<line x1="104.03" y1="602.83" x2="107.22" y2="602.83" stroke="#111" stroke-width="0.7"/>
<circle cx="104.93" cy="610.37" r="0.90" fill="#111"/>
<circle cx="104.97" cy="604.65" r="0.90" fill="#111"/>
<circle cx="104.72" cy="603.91" r="0.90" fill="#111"/>
<text x="107.92" y="581.60" font-size="6.6" transform="rotate(-90 107.92 581.60)">P = 0.0133</text>
<line x1="105.62" y1="631.00" x2="105.62" y2="632.80" stroke="#222" stroke-width="0.7"/>
<text x="109.92" y="635.20" font-size="7.3" text-anchor="end" transform="rotate(-45 109.92 635.20)">KATO_III</text>
<rect x="112.99" y="583.30" width="10.50" height="8.25" fill="#8dc63f" stroke="#222" stroke-width="0.6"/>
<line x1="118.24" y1="596.75" x2="118.24" y2="583.73" stroke="#111" stroke-width="0.7"/>
<line x1="116.64" y1="596.75" x2="119.84" y2="596.75" stroke="#111" stroke-width="0.7"/>
<line x1="116.64" y1="583.73" x2="119.84" y2="583.73" stroke="#111" stroke-width="0.7"/>
<circle cx="119.38" cy="596.04" r="0.90" fill="#111"/>
<circle cx="117.88" cy="590.35" r="0.90" fill="#111"/>
<circle cx="116.81" cy="591.22" r="0.90" fill="#111"/>
<text x="120.54" y="581.60" font-size="6.6" transform="rotate(-90 120.54 581.60)">P = 0.1475</text>
<line x1="118.24" y1="631.00" x2="118.24" y2="632.80" stroke="#222" stroke-width="0.7"/>
<text x="122.54" y="635.20" font-size="7.3" text-anchor="end" transform="rotate(-45 122.54 635.20)">DLD−1</text>
<rect x="125.61" y="583.30" width="10.50" height="5.21" fill="#30609a" stroke="#222" stroke-width="0.6"/>
<line x1="130.86" y1="590.68" x2="130.86" y2="586.34" stroke="#111" stroke-width="0.7"/>
<line x1="129.26" y1="590.68" x2="132.46" y2="590.68" stroke="#111" stroke-width="0.7"/>
<line x1="129.26" y1="586.34" x2="132.46" y2="586.34" stroke="#111" stroke-width="0.7"/>
<circle cx="132.07" cy="590.19" r="0.90" fill="#111"/>
<circle cx="131.15" cy="590.15" r="0.90" fill="#111"/>
<circle cx="131.09" cy="586.79" r="0.90" fill="#111"/>
<text x="133.16" y="581.60" font-size="6.6" transform="rotate(-90 133.16 581.60)">P = 0.0494</text>
<line x1="130.86" y1="631.00" x2="130.86" y2="632.80" stroke="#222" stroke-width="0.7"/>
<text x="135.16" y="635.20" font-size="7.3" text-anchor="end" transform="rotate(-45 135.16 635.20)">MKN45</text>
<rect x="138.22" y="583.30" width="10.50" height="4.77" fill="#8dc63f" stroke="#222" stroke-width="0.6"/>
<line x1="143.47" y1="590.68" x2="143.47" y2="585.47" stroke="#111" stroke-width="0.7"/>
<line x1="141.87" y1="590.68" x2="145.07" y2="590.68" stroke="#111" stroke-width="0.7"/>
<line x1="141.87" y1="585.47" x2="145.07" y2="585.47" stroke="#111" stroke-width="0.7"/>
<circle cx="142.58" cy="590.64" r="0.90" fill="#111"/>
<circle cx="142.22" cy="587.87" r="0.90" fill="#111"/>
<circle cx="142.02" cy="590.24" r="0.90" fill="#111"/>
<text x="145.77" y="581.60" font-size="6.6" transform="rotate(-90 145.77 581.60)">P = 0.0848</text>
<line x1="143.47" y1="631.00" x2="143.47" y2="632.80" stroke="#222" stroke-width="0.7"/>
<text x="147.77" y="635.20" font-size="7.3" text-anchor="end" transform="rotate(-45 147.77 635.20)">SW480</text>
<rect x="150.83" y="583.30" width="10.50" height="2.17" fill="#30609a" stroke="#222" stroke-width="0.6"/>
<line x1="156.08" y1="588.72" x2="156.08" y2="581.56" stroke="#111" stroke-width="0.7"/>
<line x1="154.48" y1="588.72" x2="157.68" y2="588.72" stroke="#111" stroke-width="0.7"/>
<line x1="154.48" y1="581.56" x2="157.68" y2="581.56" stroke="#111" stroke-width="0.7"/>
<circle cx="156.08" cy="582.13" r="0.90" fill="#111"/>
<circle cx="155.85" cy="585.87" r="0.90" fill="#111"/>
<circle cx="156.50" cy="588.06" r="0.90" fill="#111"/>
<text x="158.38" y="590.00" font-size="6.6" text-anchor="end" transform="rotate(-90 158.38 590.00)">P = 0.5101</text>
<line x1="156.08" y1="631.00" x2="156.08" y2="632.80" stroke="#222" stroke-width="0.7"/>
<text x="160.38" y="635.20" font-size="7.3" text-anchor="end" transform="rotate(-45 160.38 635.20)">NCI−N87</text>
<rect x="163.45" y="579.39" width="10.50" height="3.91" fill="#8dc63f" stroke="#222" stroke-width="0.6"/>
<line x1="168.70" y1="581.78" x2="168.70" y2="576.79" stroke="#111" stroke-width="0.7"/>
<line x1="167.10" y1="581.78" x2="170.30" y2="581.78" stroke="#111" stroke-width="0.7"/>
<line x1="167.10" y1="576.79" x2="170.30" y2="576.79" stroke="#111" stroke-width="0.7"/>
<circle cx="168.94" cy="580.92" r="0.90" fill="#111"/>
<circle cx="169.03" cy="577.00" r="0.90" fill="#111"/>
<circle cx="167.36" cy="579.01" r="0.90" fill="#111"/>
<text x="171.00" y="586.50" font-size="6.6" text-anchor="end" transform="rotate(-90 171.00 586.50)">P = 0.1276</text>
<line x1="168.70" y1="631.00" x2="168.70" y2="632.80" stroke="#222" stroke-width="0.7"/>
<text x="173.00" y="635.20" font-size="7.3" text-anchor="end" transform="rotate(-45 173.00 635.20)">RKO</text>
<rect x="176.06" y="572.02" width="10.50" height="11.28" fill="#8dc63f" stroke="#222" stroke-width="0.6"/>
<line x1="181.31" y1="573.32" x2="181.31" y2="571.15" stroke="#111" stroke-width="0.7"/>
<line x1="179.72" y1="573.32" x2="182.91" y2="573.32" stroke="#111" stroke-width="0.7"/>
<line x1="179.72" y1="571.15" x2="182.91" y2="571.15" stroke="#111" stroke-width="0.7"/>
<circle cx="181.63" cy="572.99" r="0.90" fill="#111"/>
<circle cx="180.62" cy="571.16" r="0.90" fill="#111"/>
<circle cx="182.81" cy="573.05" r="0.90" fill="#111"/>
<text x="183.62" y="586.50" font-size="6.6" text-anchor="end" transform="rotate(-90 183.62 586.50)">P = 0.0033</text>
<line x1="181.31" y1="631.00" x2="181.31" y2="632.80" stroke="#222" stroke-width="0.7"/>
<text x="185.62" y="635.20" font-size="7.3" text-anchor="end" transform="rotate(-45 185.62 635.20)">LoVo</text>
<rect x="188.68" y="567.68" width="10.50" height="15.62" fill="#8dc63f" stroke="#222" stroke-width="0.6"/>
<line x1="193.93" y1="571.37" x2="193.93" y2="563.12" stroke="#111" stroke-width="0.7"/>
<line x1="192.33" y1="571.37" x2="195.53" y2="571.37" stroke="#111" stroke-width="0.7"/>
<line x1="192.33" y1="563.12" x2="195.53" y2="563.12" stroke="#111" stroke-width="0.7"/>
<circle cx="194.55" cy="563.52" r="0.90" fill="#111"/>
<circle cx="193.14" cy="566.33" r="0.90" fill="#111"/>
<circle cx="192.56" cy="568.35" r="0.90" fill="#111"/>
<text x="196.23" y="586.50" font-size="6.6" text-anchor="end" transform="rotate(-90 196.23 586.50)">P = 0.0270</text>
<line x1="193.93" y1="631.00" x2="193.93" y2="632.80" stroke="#222" stroke-width="0.7"/>
<text x="198.23" y="635.20" font-size="7.3" text-anchor="end" transform="rotate(-45 198.23 635.20)">HT−29</text>
<rect x="201.30" y="557.26" width="10.50" height="26.04" fill="#8dc63f" stroke="#222" stroke-width="0.6"/>
<line x1="206.55" y1="560.95" x2="206.55" y2="552.92" stroke="#111" stroke-width="0.7"/>
<line x1="204.95" y1="560.95" x2="208.15" y2="560.95" stroke="#111" stroke-width="0.7"/>
<line x1="204.95" y1="552.92" x2="208.15" y2="552.92" stroke="#111" stroke-width="0.7"/>
<circle cx="207.07" cy="556.21" r="0.90" fill="#111"/>
<circle cx="207.37" cy="560.25" r="0.90" fill="#111"/>
<circle cx="206.09" cy="554.01" r="0.90" fill="#111"/>
<text x="208.85" y="586.50" font-size="6.6" text-anchor="end" transform="rotate(-90 208.85 586.50)">P = 0.0105</text>
<line x1="206.55" y1="631.00" x2="206.55" y2="632.80" stroke="#222" stroke-width="0.7"/>
<text x="210.85" y="635.20" font-size="7.3" text-anchor="end" transform="rotate(-45 210.85 635.20)">HCT116</text>
<rect x="150.20" y="544.40" width="6.50" height="6.00" fill="#30609a" stroke="#222" stroke-width="0.5"/>
<text x="157.70" y="550.20" font-size="7.5">GC</text>
<rect x="180.30" y="544.40" width="6.30" height="6.00" fill="#8dc63f" stroke="#222" stroke-width="0.5"/>
<text x="187.90" y="550.20" font-size="7.5">CRC</text>
<text x="226.60" y="538.70" font-size="12.4" fill="#000" font-weight="bold">L</text>
<text x="264.00" y="538.60" font-size="7.3" text-anchor="middle">HGC27</text>
<path d="M251,556 C248,553 248.5,548 251,546 C250,543 252,541.3 254.5,542.5 C256,541 258.5,541.5 259,543.5 C262,543 266,545 268,548 C270.5,550 271,553 269.5,555.5 C267,558 256,558.5 251,556 Z" fill="#f2c2c2" stroke="#333" stroke-width="0.7"/>
<path d="M269.5,555.5 C272,557 273,558.5 268,559" fill="none" stroke="#333" stroke-width="0.7"/>
<path d="M262.5,553 L271,542.5" fill="none" stroke="#333" stroke-width="1.6"/>
<path d="M262.5,553 L271,542.5" fill="none" stroke="#e8e0d8" stroke-width="0.8"/>
<circle cx="262.80" cy="552.50" r="1.00" fill="#c9a878" stroke="#333" stroke-width="0.4"/>
<circle cx="253.50" cy="548.00" r="0.50" fill="#333"/>
<text x="261.10" y="571.60" font-size="7.1" text-anchor="middle">BALB/c-nu</text>
<line x1="279.50" y1="553.80" x2="337.40" y2="553.80" stroke="#222" stroke-width="0.9"/>
<line x1="279.50" y1="553.80" x2="279.50" y2="556.40" stroke="#222" stroke-width="0.8"/>
<text x="279.50" y="564.60" font-size="7.3" text-anchor="middle">0</text>
<line x1="288.98" y1="553.80" x2="288.98" y2="556.40" stroke="#222" stroke-width="0.8"/>
<text x="288.98" y="564.60" font-size="7.3" text-anchor="middle">5</text>
<line x1="298.47" y1="553.80" x2="298.47" y2="556.40" stroke="#222" stroke-width="0.8"/>
<text x="298.47" y="564.60" font-size="7.3" text-anchor="middle">10</text>
<line x1="307.95" y1="553.80" x2="307.95" y2="556.40" stroke="#222" stroke-width="0.8"/>
<text x="307.95" y="564.60" font-size="7.3" text-anchor="middle">15</text>
<line x1="317.43" y1="553.80" x2="317.43" y2="556.40" stroke="#222" stroke-width="0.8"/>
<text x="317.43" y="564.60" font-size="7.3" text-anchor="middle">20</text>
<line x1="326.92" y1="553.80" x2="326.92" y2="556.40" stroke="#222" stroke-width="0.8"/>
<text x="326.92" y="564.60" font-size="7.3" text-anchor="middle">25</text>
<line x1="336.40" y1="553.80" x2="336.40" y2="556.40" stroke="#222" stroke-width="0.8"/>
<text x="336.40" y="564.60" font-size="7.3" text-anchor="middle">30</text>
<text x="317.10" y="571.60" font-size="7.3" text-anchor="middle">Days</text>
<circle cx="280.10" cy="549.80" r="1.50" fill="#b9a07a" stroke="#555" stroke-width="0.4"/>
<line x1="286.20" y1="543.20" x2="286.20" y2="549.50" stroke="#2446a8" stroke-width="0.9"/>
<path d="M284.4,548.2 L286.2,552.1 L288.0,548.2 Z" fill="#2446a8"/>
<line x1="291.90" y1="543.20" x2="291.90" y2="549.50" stroke="#2446a8" stroke-width="0.9"/>
<path d="M290.1,548.2 L291.9,552.1 L293.7,548.2 Z" fill="#2446a8"/>
<line x1="297.60" y1="543.20" x2="297.60" y2="549.50" stroke="#2446a8" stroke-width="0.9"/>
<path d="M295.8,548.2 L297.6,552.1 L299.4,548.2 Z" fill="#2446a8"/>
<line x1="303.30" y1="543.20" x2="303.30" y2="549.50" stroke="#2446a8" stroke-width="0.9"/>
<path d="M301.5,548.2 L303.3,552.1 L305.1,548.2 Z" fill="#2446a8"/>
<line x1="309.30" y1="543.20" x2="309.30" y2="549.50" stroke="#2446a8" stroke-width="0.9"/>
<path d="M307.5,548.2 L309.3,552.1 L311.1,548.2 Z" fill="#2446a8"/>
<line x1="315.20" y1="543.20" x2="315.20" y2="549.50" stroke="#2446a8" stroke-width="0.9"/>
<path d="M313.4,548.2 L315.2,552.1 L317.0,548.2 Z" fill="#2446a8"/>
<line x1="320.90" y1="543.20" x2="320.90" y2="549.50" stroke="#2446a8" stroke-width="0.9"/>
<path d="M319.1,548.2 L320.9,552.1 L322.7,548.2 Z" fill="#2446a8"/>
<line x1="327.00" y1="543.20" x2="327.00" y2="549.50" stroke="#2446a8" stroke-width="0.9"/>
<path d="M325.2,548.2 L327.0,552.1 L328.8,548.2 Z" fill="#2446a8"/>
<text x="371.80" y="542.50" font-size="7.15" text-anchor="middle">Galunisertib (75 mg/kg) or</text>
<text x="371.80" y="551.00" font-size="7.15" text-anchor="middle">Vactosertib (40 mg/kg)</text>
<text x="371.80" y="559.60" font-size="7.15" text-anchor="middle">q3d i.p.</text>
<text x="379.60" y="576.70" font-size="7.6" text-anchor="middle">HGC27</text>
<line x1="339.90" y1="580.00" x2="423.10" y2="580.00" stroke="#333" stroke-width="0.9"/>
<rect x="339.90" y="581.60" width="83.20" height="55.00" fill="url(#gPhoto)"/>
<rect x="339.90" y="636.10" width="83.20" height="2.60" fill="#4a4838"/>
<text x="338.20" y="594.00" font-size="7.8" text-anchor="end">Vehicle</text>
<text x="338.20" y="611.80" font-size="7.8" text-anchor="end">Galunisertib</text>
<text x="338.20" y="629.30" font-size="7.8" text-anchor="end">Vactosertib</text>
<ellipse cx="348.0" cy="591.0" rx="4.1" ry="4.2" fill="#b8b8b6" opacity="0.5"/>
<ellipse cx="346.0" cy="592.0" rx="3.6" ry="4.2" fill="url(#gTum)"/>
<circle cx="344.79" cy="592.80" r="0.70" fill="#e46048" opacity="0.55"/>
<circle cx="346.49" cy="591.91" r="0.70" fill="#e46048" opacity="0.55"/>
<circle cx="344.98" cy="593.23" r="0.70" fill="#e46048" opacity="0.55"/>
<circle cx="347.11" cy="592.05" r="0.60" fill="#fff" opacity="0.7"/>
<circle cx="346.02" cy="590.89" r="0.60" fill="#fff" opacity="0.7"/>
<ellipse cx="362.4" cy="591.0" rx="4.1" ry="4.2" fill="#b8b8b6" opacity="0.5"/>
<ellipse cx="360.4" cy="592.0" rx="3.6" ry="4.2" fill="url(#gTum)"/>
<circle cx="358.61" cy="591.46" r="0.70" fill="#e46048" opacity="0.55"/>
<circle cx="360.71" cy="590.19" r="0.70" fill="#e46048" opacity="0.55"/>
<circle cx="361.46" cy="590.88" r="0.70" fill="#e46048" opacity="0.55"/>
<circle cx="359.44" cy="590.08" r="0.60" fill="#fff" opacity="0.7"/>
<circle cx="362.19" cy="593.00" r="0.60" fill="#fff" opacity="0.7"/>
<ellipse cx="375.1" cy="591.0" rx="4.1" ry="4.2" fill="#b8b8b6" opacity="0.5"/>
<ellipse cx="373.1" cy="592.0" rx="3.6" ry="4.2" fill="url(#gTum)"/>
<circle cx="374.45" cy="592.49" r="0.70" fill="#e46048" opacity="0.55"/>
<circle cx="371.42" cy="591.28" r="0.70" fill="#e46048" opacity="0.55"/>
<circle cx="373.09" cy="590.39" r="0.70" fill="#e46048" opacity="0.55"/>
<circle cx="374.73" cy="591.45" r="0.60" fill="#fff" opacity="0.7"/>
<circle cx="371.86" cy="593.33" r="0.60" fill="#fff" opacity="0.7"/>
<ellipse cx="389.4" cy="591.5" rx="3.7" ry="3.8" fill="#b8b8b6" opacity="0.5"/>
<ellipse cx="387.4" cy="592.5" rx="3.2" ry="3.8" fill="url(#gTum)"/>
<circle cx="386.20" cy="594.13" r="0.70" fill="#e46048" opacity="0.55"/>
<circle cx="387.25" cy="592.70" r="0.70" fill="#e46048" opacity="0.55"/>
<circle cx="386.90" cy="592.44" r="0.70" fill="#e46048" opacity="0.55"/>
<circle cx="386.40" cy="590.74" r="0.60" fill="#fff" opacity="0.7"/>
<circle cx="388.57" cy="591.49" r="0.60" fill="#fff" opacity="0.7"/>
<ellipse cx="401.8" cy="590.5" rx="3.3" ry="4.0" fill="#b8b8b6" opacity="0.5"/>
<ellipse cx="399.8" cy="591.5" rx="2.8" ry="4.0" fill="url(#gTum)"/>
<circle cx="400.58" cy="590.33" r="0.70" fill="#e46048" opacity="0.55"/>
<circle cx="401.11" cy="593.08" r="0.70" fill="#e46048" opacity="0.55"/>
<circle cx="400.51" cy="592.55" r="0.70" fill="#e46048" opacity="0.55"/>
<circle cx="400.03" cy="592.42" r="0.60" fill="#fff" opacity="0.7"/>
<circle cx="398.74" cy="591.41" r="0.60" fill="#fff" opacity="0.7"/>
<ellipse cx="412.7" cy="591.5" rx="3.8" ry="3.6" fill="#b8b8b6" opacity="0.5"/>
<ellipse cx="410.7" cy="592.5" rx="3.3" ry="3.6" fill="url(#gTum)"/>
<circle cx="411.78" cy="591.42" r="0.70" fill="#e46048" opacity="0.55"/>
<circle cx="412.10" cy="593.90" r="0.70" fill="#e46048" opacity="0.55"/>
<circle cx="410.40" cy="592.01" r="0.70" fill="#e46048" opacity="0.55"/>
<circle cx="410.54" cy="592.09" r="0.60" fill="#fff" opacity="0.7"/>
<circle cx="412.33" cy="592.09" r="0.60" fill="#fff" opacity="0.7"/>
<ellipse cx="348.5" cy="608.0" rx="5.1" ry="5.3" fill="#b8b8b6" opacity="0.5"/>
<ellipse cx="346.5" cy="609.0" rx="4.6" ry="5.3" fill="url(#gTum)"/>
<circle cx="344.32" cy="606.84" r="0.70" fill="#e46048" opacity="0.55"/>
<circle cx="347.50" cy="611.61" r="0.70" fill="#e46048" opacity="0.55"/>
<circle cx="346.48" cy="608.96" r="0.70" fill="#e46048" opacity="0.55"/>
<circle cx="346.73" cy="610.32" r="0.60" fill="#fff" opacity="0.7"/>
<circle cx="345.22" cy="609.58" r="0.60" fill="#fff" opacity="0.7"/>
<ellipse cx="362.2" cy="607.6" rx="5.0" ry="5.0" fill="#b8b8b6" opacity="0.5"/>
<ellipse cx="360.2" cy="608.6" rx="4.5" ry="5.0" fill="url(#gTum)"/>
<circle cx="360.45" cy="609.21" r="0.70" fill="#e46048" opacity="0.55"/>
<circle cx="358.76" cy="606.95" r="0.70" fill="#e46048" opacity="0.55"/>
<circle cx="359.52" cy="610.74" r="0.70" fill="#e46048" opacity="0.55"/>
<circle cx="359.51" cy="609.09" r="0.60" fill="#fff" opacity="0.7"/>
<circle cx="359.33" cy="606.62" r="0.60" fill="#fff" opacity="0.7"/>
<ellipse cx="375.3" cy="607.8" rx="4.7" ry="4.9" fill="#b8b8b6" opacity="0.5"/>
<ellipse cx="373.3" cy="608.8" rx="4.2" ry="4.9" fill="url(#gTum)"/>
<circle cx="371.48" cy="610.34" r="0.70" fill="#e46048" opacity="0.55"/>
<circle cx="374.46" cy="608.19" r="0.70" fill="#e46048" opacity="0.55"/>
<circle cx="374.07" cy="609.66" r="0.70" fill="#e46048" opacity="0.55"/>
<circle cx="374.97" cy="611.05" r="0.60" fill="#fff" opacity="0.7"/>
<circle cx="372.91" cy="611.20" r="0.60" fill="#fff" opacity="0.7"/>
<ellipse cx="389.5" cy="607.4" rx="4.5" ry="5.6" fill="#b8b8b6" opacity="0.5"/>
<ellipse cx="387.5" cy="608.4" rx="4.0" ry="5.6" fill="url(#gTum)"/>
<circle cx="389.35" cy="608.91" r="0.70" fill="#e46048" opacity="0.55"/>
<circle cx="389.03" cy="608.35" r="0.70" fill="#e46048" opacity="0.55"/>
<circle cx="387.00" cy="606.98" r="0.70" fill="#e46048" opacity="0.55"/>
<circle cx="389.00" cy="606.51" r="0.60" fill="#fff" opacity="0.7"/>
<circle cx="385.78" cy="610.11" r="0.60" fill="#fff" opacity="0.7"/>
<ellipse cx="401.3" cy="607.8" rx="4.8" ry="4.5" fill="#b8b8b6" opacity="0.5"/>
<ellipse cx="399.3" cy="608.8" rx="4.3" ry="4.5" fill="url(#gTum)"/>
<circle cx="400.48" cy="608.72" r="0.70" fill="#e46048" opacity="0.55"/>
<circle cx="400.75" cy="606.78" r="0.70" fill="#e46048" opacity="0.55"/>
<circle cx="398.26" cy="607.85" r="0.70" fill="#e46048" opacity="0.55"/>
<circle cx="398.95" cy="607.32" r="0.60" fill="#fff" opacity="0.7"/>
<circle cx="397.45" cy="608.07" r="0.60" fill="#fff" opacity="0.7"/>
<ellipse cx="413.0" cy="607.8" rx="4.5" ry="5.0" fill="#b8b8b6" opacity="0.5"/>
<ellipse cx="411.0" cy="608.8" rx="4.0" ry="5.0" fill="url(#gTum)"/>
<circle cx="412.60" cy="611.22" r="0.70" fill="#e46048" opacity="0.55"/>
<circle cx="411.98" cy="608.69" r="0.70" fill="#e46048" opacity="0.55"/>
<circle cx="410.01" cy="611.09" r="0.70" fill="#e46048" opacity="0.55"/>
<circle cx="411.10" cy="609.94" r="0.60" fill="#fff" opacity="0.7"/>
<circle cx="409.11" cy="607.36" r="0.60" fill="#fff" opacity="0.7"/>
<ellipse cx="348.5" cy="624.5" rx="4.7" ry="5.6" fill="#b8b8b6" opacity="0.5"/>
<ellipse cx="346.5" cy="625.5" rx="4.2" ry="5.6" fill="url(#gTum)"/>
<circle cx="347.92" cy="627.15" r="0.70" fill="#e46048" opacity="0.55"/>
<circle cx="348.10" cy="626.07" r="0.70" fill="#e46048" opacity="0.55"/>
<circle cx="346.19" cy="625.95" r="0.70" fill="#e46048" opacity="0.55"/>
<circle cx="347.97" cy="624.42" r="0.60" fill="#fff" opacity="0.7"/>
<circle cx="346.64" cy="624.25" r="0.60" fill="#fff" opacity="0.7"/>
<ellipse cx="363.5" cy="624.2" rx="5.0" ry="5.8" fill="#b8b8b6" opacity="0.5"/>
<ellipse cx="361.5" cy="625.2" rx="4.5" ry="5.8" fill="url(#gTum)"/>
<circle cx="362.71" cy="622.36" r="0.70" fill="#e46048" opacity="0.55"/>
<circle cx="362.33" cy="627.83" r="0.70" fill="#e46048" opacity="0.55"/>
<circle cx="359.36" cy="625.74" r="0.70" fill="#e46048" opacity="0.55"/>
<circle cx="362.15" cy="627.24" r="0.60" fill="#fff" opacity="0.7"/>
<circle cx="361.88" cy="623.79" r="0.60" fill="#fff" opacity="0.7"/>
<ellipse cx="375.7" cy="624.3" rx="4.7" ry="5.0" fill="#b8b8b6" opacity="0.5"/>
<ellipse cx="373.7" cy="625.3" rx="4.2" ry="5.0" fill="url(#gTum)"/>
<circle cx="373.30" cy="627.59" r="0.70" fill="#e46048" opacity="0.55"/>
<circle cx="375.40" cy="623.47" r="0.70" fill="#e46048" opacity="0.55"/>
<circle cx="372.00" cy="623.27" r="0.70" fill="#e46048" opacity="0.55"/>
<circle cx="371.71" cy="625.03" r="0.60" fill="#fff" opacity="0.7"/>
<circle cx="372.19" cy="627.14" r="0.60" fill="#fff" opacity="0.7"/>
<ellipse cx="389.5" cy="623.8" rx="4.7" ry="5.0" fill="#b8b8b6" opacity="0.5"/>
<ellipse cx="387.5" cy="624.8" rx="4.2" ry="5.0" fill="url(#gTum)"/>
<circle cx="388.15" cy="622.93" r="0.70" fill="#e46048" opacity="0.55"/>
<circle cx="387.66" cy="623.92" r="0.70" fill="#e46048" opacity="0.55"/>
<circle cx="387.47" cy="623.40" r="0.70" fill="#e46048" opacity="0.55"/>
<circle cx="386.10" cy="623.22" r="0.60" fill="#fff" opacity="0.7"/>
<circle cx="386.99" cy="625.85" r="0.60" fill="#fff" opacity="0.7"/>
<ellipse cx="402.8" cy="623.8" rx="4.8" ry="4.5" fill="#b8b8b6" opacity="0.5"/>
<ellipse cx="400.8" cy="624.8" rx="4.3" ry="4.5" fill="url(#gTum)"/>
<circle cx="401.02" cy="622.76" r="0.70" fill="#e46048" opacity="0.55"/>
<circle cx="401.71" cy="626.48" r="0.70" fill="#e46048" opacity="0.55"/>
<circle cx="401.98" cy="626.11" r="0.70" fill="#e46048" opacity="0.55"/>
<circle cx="398.68" cy="624.64" r="0.60" fill="#fff" opacity="0.7"/>
<circle cx="398.92" cy="625.99" r="0.60" fill="#fff" opacity="0.7"/>
<ellipse cx="414.0" cy="623.5" rx="4.5" ry="4.5" fill="#b8b8b6" opacity="0.5"/>
<ellipse cx="412.0" cy="624.5" rx="4.0" ry="4.5" fill="url(#gTum)"/>
<circle cx="410.70" cy="625.45" r="0.70" fill="#e46048" opacity="0.55"/>
<circle cx="411.01" cy="625.39" r="0.70" fill="#e46048" opacity="0.55"/>
<circle cx="411.25" cy="622.44" r="0.70" fill="#e46048" opacity="0.55"/>
<circle cx="411.56" cy="623.64" r="0.60" fill="#fff" opacity="0.7"/>
<circle cx="413.60" cy="623.58" r="0.60" fill="#fff" opacity="0.7"/>
<line x1="413.20" y1="640.60" x2="422.70" y2="640.60" stroke="#222" stroke-width="0.9"/>
<text x="422.90" y="646.60" font-size="7.6" text-anchor="end">1 cm</text>
<text x="433.90" y="538.90" font-size="12.4" fill="#000" font-weight="bold">M</text>
<text x="524.20" y="551.70" font-size="7.6" text-anchor="middle">HGC27</text>
<line x1="476.60" y1="555.00" x2="476.60" y2="633.50" stroke="#222" stroke-width="0.9"/>
<line x1="476.20" y1="633.20" x2="571.20" y2="633.20" stroke="#222" stroke-width="0.9"/>
<line x1="474.80" y1="629.50" x2="476.60" y2="629.50" stroke="#222" stroke-width="0.7"/>
<text x="474.40" y="632.20" font-size="7.6" text-anchor="end">0</text>
<line x1="474.80" y1="607.30" x2="476.60" y2="607.30" stroke="#222" stroke-width="0.7"/>
<text x="474.40" y="610.00" font-size="7.6" text-anchor="end">500</text>
<line x1="474.80" y1="585.10" x2="476.60" y2="585.10" stroke="#222" stroke-width="0.7"/>
<text x="474.40" y="587.80" font-size="7.6" text-anchor="end">1000</text>
<line x1="474.80" y1="562.90" x2="476.60" y2="562.90" stroke="#222" stroke-width="0.7"/>
<text x="474.40" y="565.60" font-size="7.6" text-anchor="end">1500</text>
<line x1="481.00" y1="633.20" x2="481.00" y2="635.00" stroke="#222" stroke-width="0.7"/>
<text x="481.00" y="641.00" font-size="7.6" text-anchor="middle">0</text>
<line x1="498.20" y1="633.20" x2="498.20" y2="635.00" stroke="#222" stroke-width="0.7"/>
<text x="498.20" y="641.00" font-size="7.6" text-anchor="middle">6</text>
<line x1="515.39" y1="633.20" x2="515.39" y2="635.00" stroke="#222" stroke-width="0.7"/>
<text x="515.39" y="641.00" font-size="7.6" text-anchor="middle">12</text>
<line x1="532.59" y1="633.20" x2="532.59" y2="635.00" stroke="#222" stroke-width="0.7"/>
<text x="532.59" y="641.00" font-size="7.6" text-anchor="middle">18</text>
<line x1="549.78" y1="633.20" x2="549.78" y2="635.00" stroke="#222" stroke-width="0.7"/>
<text x="549.78" y="641.00" font-size="7.6" text-anchor="middle">24</text>
<line x1="566.98" y1="633.20" x2="566.98" y2="635.00" stroke="#222" stroke-width="0.7"/>
<text x="566.98" y="641.00" font-size="7.6" text-anchor="middle">30</text>
<text x="524.20" y="647.50" font-size="7.6" text-anchor="middle">Time (days)</text>
<text x="453.6" y="594.4" font-size="7.6" text-anchor="middle" fill="#1a1a1a" transform="rotate(-90 453.6 594.4)">Tumor volume (mm<tspan font-size="4.8" dy="-2.8">3</tspan><tspan dy="2.8">)</tspan></text>
<polyline points="481.00,629.50 506.79,625.06 523.99,620.18 538.32,613.52 549.78,610.85 558.38,601.08" fill="none" stroke="#30609a" stroke-width="1.1"/>
<circle cx="481.00" cy="629.50" r="1.10" fill="#30609a"/>
<line x1="506.79" y1="625.95" x2="506.79" y2="624.17" stroke="#30609a" stroke-width="0.8"/>
<line x1="505.59" y1="624.17" x2="507.99" y2="624.17" stroke="#30609a" stroke-width="0.8"/>
<line x1="505.59" y1="625.95" x2="507.99" y2="625.95" stroke="#30609a" stroke-width="0.8"/>
<circle cx="506.79" cy="625.06" r="1.10" fill="#30609a"/>
<line x1="523.99" y1="623.28" x2="523.99" y2="617.07" stroke="#30609a" stroke-width="0.8"/>
<line x1="522.79" y1="617.07" x2="525.19" y2="617.07" stroke="#30609a" stroke-width="0.8"/>
<line x1="522.79" y1="623.28" x2="525.19" y2="623.28" stroke="#30609a" stroke-width="0.8"/>
<circle cx="523.99" cy="620.18" r="1.10" fill="#30609a"/>
<line x1="538.32" y1="617.96" x2="538.32" y2="609.08" stroke="#30609a" stroke-width="0.8"/>
<line x1="537.12" y1="609.08" x2="539.52" y2="609.08" stroke="#30609a" stroke-width="0.8"/>
<line x1="537.12" y1="617.96" x2="539.52" y2="617.96" stroke="#30609a" stroke-width="0.8"/>
<circle cx="538.32" cy="613.52" r="1.10" fill="#30609a"/>
<line x1="549.78" y1="616.18" x2="549.78" y2="605.52" stroke="#30609a" stroke-width="0.8"/>
<line x1="548.58" y1="605.52" x2="550.98" y2="605.52" stroke="#30609a" stroke-width="0.8"/>
<line x1="548.58" y1="616.18" x2="550.98" y2="616.18" stroke="#30609a" stroke-width="0.8"/>
<circle cx="549.78" cy="610.85" r="1.10" fill="#30609a"/>
<line x1="558.38" y1="609.08" x2="558.38" y2="593.09" stroke="#30609a" stroke-width="0.8"/>
<line x1="557.18" y1="593.09" x2="559.58" y2="593.09" stroke="#30609a" stroke-width="0.8"/>
<line x1="557.18" y1="609.08" x2="559.58" y2="609.08" stroke="#30609a" stroke-width="0.8"/>
<circle cx="558.38" cy="601.08" r="1.10" fill="#30609a"/>
<polyline points="481.00,629.50 506.79,623.73 523.99,612.63 538.32,597.98 549.78,591.76 558.38,574.00" fill="none" stroke="#f8696b" stroke-width="1.1"/>
<circle cx="481.00" cy="629.50" r="1.10" fill="#f8696b"/>
<line x1="506.79" y1="624.62" x2="506.79" y2="622.84" stroke="#f8696b" stroke-width="0.8"/>
<line x1="505.59" y1="622.84" x2="507.99" y2="622.84" stroke="#f8696b" stroke-width="0.8"/>
<line x1="505.59" y1="624.62" x2="507.99" y2="624.62" stroke="#f8696b" stroke-width="0.8"/>
<circle cx="506.79" cy="623.73" r="1.10" fill="#f8696b"/>
<line x1="523.99" y1="616.18" x2="523.99" y2="609.08" stroke="#f8696b" stroke-width="0.8"/>
<line x1="522.79" y1="609.08" x2="525.19" y2="609.08" stroke="#f8696b" stroke-width="0.8"/>
<line x1="522.79" y1="616.18" x2="525.19" y2="616.18" stroke="#f8696b" stroke-width="0.8"/>
<circle cx="523.99" cy="612.63" r="1.10" fill="#f8696b"/>
<line x1="538.32" y1="602.42" x2="538.32" y2="593.54" stroke="#f8696b" stroke-width="0.8"/>
<line x1="537.12" y1="593.54" x2="539.52" y2="593.54" stroke="#f8696b" stroke-width="0.8"/>
<line x1="537.12" y1="602.42" x2="539.52" y2="602.42" stroke="#f8696b" stroke-width="0.8"/>
<circle cx="538.32" cy="597.98" r="1.10" fill="#f8696b"/>
<line x1="549.78" y1="599.31" x2="549.78" y2="584.21" stroke="#f8696b" stroke-width="0.8"/>
<line x1="548.58" y1="584.21" x2="550.98" y2="584.21" stroke="#f8696b" stroke-width="0.8"/>
<line x1="548.58" y1="599.31" x2="550.98" y2="599.31" stroke="#f8696b" stroke-width="0.8"/>
<circle cx="549.78" cy="591.76" r="1.10" fill="#f8696b"/>
<line x1="558.38" y1="586.43" x2="558.38" y2="561.57" stroke="#f8696b" stroke-width="0.8"/>
<line x1="557.18" y1="561.57" x2="559.58" y2="561.57" stroke="#f8696b" stroke-width="0.8"/>
<line x1="557.18" y1="586.43" x2="559.58" y2="586.43" stroke="#f8696b" stroke-width="0.8"/>
<circle cx="558.38" cy="574.00" r="1.10" fill="#f8696b"/>
<polyline points="481.00,629.50 506.79,624.39 523.99,614.40 538.32,602.86 549.78,595.76 558.38,574.00" fill="none" stroke="#8dc63f" stroke-width="1.1"/>
<circle cx="481.00" cy="629.50" r="1.10" fill="#8dc63f"/>
<line x1="506.79" y1="625.28" x2="506.79" y2="623.51" stroke="#8dc63f" stroke-width="0.8"/>
<line x1="505.59" y1="623.51" x2="507.99" y2="623.51" stroke="#8dc63f" stroke-width="0.8"/>
<line x1="505.59" y1="625.28" x2="507.99" y2="625.28" stroke="#8dc63f" stroke-width="0.8"/>
<circle cx="506.79" cy="624.39" r="1.10" fill="#8dc63f"/>
<line x1="523.99" y1="617.07" x2="523.99" y2="611.74" stroke="#8dc63f" stroke-width="0.8"/>
<line x1="522.79" y1="611.74" x2="525.19" y2="611.74" stroke="#8dc63f" stroke-width="0.8"/>
<line x1="522.79" y1="617.07" x2="525.19" y2="617.07" stroke="#8dc63f" stroke-width="0.8"/>
<circle cx="523.99" cy="614.40" r="1.10" fill="#8dc63f"/>
<line x1="538.32" y1="608.19" x2="538.32" y2="597.53" stroke="#8dc63f" stroke-width="0.8"/>
<line x1="537.12" y1="597.53" x2="539.52" y2="597.53" stroke="#8dc63f" stroke-width="0.8"/>
<line x1="537.12" y1="608.19" x2="539.52" y2="608.19" stroke="#8dc63f" stroke-width="0.8"/>
<circle cx="538.32" cy="602.86" r="1.10" fill="#8dc63f"/>
<line x1="549.78" y1="604.64" x2="549.78" y2="586.88" stroke="#8dc63f" stroke-width="0.8"/>
<line x1="548.58" y1="586.88" x2="550.98" y2="586.88" stroke="#8dc63f" stroke-width="0.8"/>
<line x1="548.58" y1="604.64" x2="550.98" y2="604.64" stroke="#8dc63f" stroke-width="0.8"/>
<circle cx="549.78" cy="595.76" r="1.10" fill="#8dc63f"/>
<line x1="558.38" y1="585.54" x2="558.38" y2="562.46" stroke="#8dc63f" stroke-width="0.8"/>
<line x1="557.18" y1="562.46" x2="559.58" y2="562.46" stroke="#8dc63f" stroke-width="0.8"/>
<line x1="557.18" y1="585.54" x2="559.58" y2="585.54" stroke="#8dc63f" stroke-width="0.8"/>
<circle cx="558.38" cy="574.00" r="1.10" fill="#8dc63f"/>
<line x1="482.20" y1="559.80" x2="487.20" y2="559.80" stroke="#30609a" stroke-width="1.1"/>
<circle cx="484.70" cy="559.80" r="1.10" fill="#30609a"/>
<text x="489.60" y="562.40" font-size="7.85">Vehicle</text>
<line x1="482.20" y1="567.00" x2="487.20" y2="567.00" stroke="#f8696b" stroke-width="1.1"/>
<circle cx="484.70" cy="567.00" r="1.10" fill="#f8696b"/>
<text x="489.60" y="569.60" font-size="7.85">Galunisertib</text>
<line x1="482.20" y1="574.20" x2="487.20" y2="574.20" stroke="#8dc63f" stroke-width="1.1"/>
<circle cx="484.70" cy="574.20" r="1.10" fill="#8dc63f"/>
<text x="489.60" y="576.80" font-size="7.85">Vactosertib</text>
<polyline points="561.50,575.30 563.10,575.30 563.10,601.50 561.50,601.50" fill="none" stroke="#333" stroke-width="0.7"/>
<polyline points="571.80,572.30 573.40,572.30 573.40,601.30 571.80,601.30" fill="none" stroke="#333" stroke-width="0.7"/>
<text x="565.40" y="588.90" font-size="6.6" text-anchor="middle" transform="rotate(90 565.40 588.90)">P = 0.0021</text>
<text x="576.90" y="587.50" font-size="6.6" text-anchor="middle" transform="rotate(90 576.90 587.50)">P = 0.0010</text>
<text x="592.20" y="538.20" font-size="12.4" fill="#000" font-weight="bold">N</text>
<text x="654.40" y="551.60" font-size="7.6" text-anchor="middle">HGC27</text>
<line x1="630.70" y1="554.70" x2="630.70" y2="629.70" stroke="#222" stroke-width="0.9"/>
<line x1="630.30" y1="629.40" x2="679.60" y2="629.40" stroke="#222" stroke-width="0.9"/>
<line x1="628.90" y1="629.40" x2="630.70" y2="629.40" stroke="#222" stroke-width="0.7"/>
<text x="628.50" y="632.10" font-size="7.6" text-anchor="end">0</text>
<line x1="628.90" y1="610.60" x2="630.70" y2="610.60" stroke="#222" stroke-width="0.7"/>
<text x="628.50" y="613.30" font-size="7.6" text-anchor="end">500</text>
<line x1="628.90" y1="591.80" x2="630.70" y2="591.80" stroke="#222" stroke-width="0.7"/>
<text x="628.50" y="594.50" font-size="7.6" text-anchor="end">1000</text>
<line x1="628.90" y1="573.00" x2="630.70" y2="573.00" stroke="#222" stroke-width="0.7"/>
<text x="628.50" y="575.70" font-size="7.6" text-anchor="end">1500</text>
<text x="609.50" y="592.00" font-size="7.6" text-anchor="middle" transform="rotate(-90 609.50 592.00)">Tumor weight (mg)</text>
<rect x="633.10" y="608.34" width="12.70" height="21.06" fill="#30609a" stroke="#111" stroke-width="0.7"/>
<line x1="639.45" y1="613.23" x2="639.45" y2="603.46" stroke="#111" stroke-width="0.8"/>
<line x1="637.15" y1="613.23" x2="641.75" y2="613.23" stroke="#111" stroke-width="0.8"/>
<line x1="637.15" y1="603.46" x2="641.75" y2="603.46" stroke="#111" stroke-width="0.8"/>
<circle cx="638.50" cy="601.58" r="1.55" fill="#000"/>
<circle cx="638.02" cy="602.33" r="1.55" fill="#000"/>
<circle cx="639.08" cy="606.84" r="1.55" fill="#000"/>
<circle cx="638.21" cy="609.85" r="1.55" fill="#000"/>
<circle cx="637.89" cy="611.35" r="1.55" fill="#000"/>
<circle cx="639.10" cy="615.11" r="1.55" fill="#000"/>
<line x1="639.45" y1="629.40" x2="639.45" y2="631.20" stroke="#222" stroke-width="0.7"/>
<rect x="648.40" y="588.42" width="13.00" height="40.98" fill="#f8696b" stroke="#111" stroke-width="0.7"/>
<line x1="654.90" y1="599.32" x2="654.90" y2="577.14" stroke="#111" stroke-width="0.8"/>
<line x1="652.60" y1="599.32" x2="657.20" y2="599.32" stroke="#111" stroke-width="0.8"/>
<line x1="652.60" y1="577.14" x2="657.20" y2="577.14" stroke="#111" stroke-width="0.8"/>
<circle cx="656.40" cy="576.01" r="1.55" fill="#000"/>
<circle cx="655.98" cy="577.51" r="1.55" fill="#000"/>
<circle cx="655.85" cy="589.92" r="1.55" fill="#000"/>
<circle cx="653.90" cy="592.55" r="1.55" fill="#000"/>
<circle cx="655.03" cy="597.44" r="1.55" fill="#000"/>
<circle cx="654.10" cy="600.82" r="1.55" fill="#000"/>
<line x1="654.90" y1="629.40" x2="654.90" y2="631.20" stroke="#222" stroke-width="0.7"/>
<rect x="664.00" y="591.80" width="12.70" height="37.60" fill="#8dc63f" stroke="#111" stroke-width="0.7"/>
<line x1="670.35" y1="603.08" x2="670.35" y2="580.90" stroke="#111" stroke-width="0.8"/>
<line x1="668.05" y1="603.08" x2="672.65" y2="603.08" stroke="#111" stroke-width="0.8"/>
<line x1="668.05" y1="580.90" x2="672.65" y2="580.90" stroke="#111" stroke-width="0.8"/>
<circle cx="669.17" cy="578.26" r="1.55" fill="#000"/>
<circle cx="668.93" cy="584.28" r="1.55" fill="#000"/>
<circle cx="669.32" cy="594.81" r="1.55" fill="#000"/>
<circle cx="671.89" cy="603.08" r="1.55" fill="#000"/>
<circle cx="671.53" cy="604.58" r="1.55" fill="#000"/>
<line x1="670.35" y1="629.40" x2="670.35" y2="631.20" stroke="#222" stroke-width="0.7"/>
<text x="641.70" y="635.20" font-size="7.6" text-anchor="end" transform="rotate(-45 641.70 635.20)">Vehicle</text>
<text x="657.20" y="635.20" font-size="7.6" text-anchor="end" transform="rotate(-45 657.20 635.20)">Galunisertib</text>
<text x="672.60" y="635.20" font-size="7.6" text-anchor="end" transform="rotate(-45 672.60 635.20)">Vactosertib</text>
<polyline points="639.30,572.80 639.30,571.20 654.80,571.20 654.80,572.80" fill="none" stroke="#333" stroke-width="0.8"/>
<text x="647.20" y="568.60" font-size="6.35" text-anchor="middle">P = 0.0058</text>
<polyline points="639.30,563.80 639.30,562.20 670.40,562.20 670.40,563.80" fill="none" stroke="#333" stroke-width="0.8"/>
<text x="655.00" y="559.10" font-size="6.35" text-anchor="middle">P = 0.0198</text>
<text x="0.00" y="677.40" font-size="12.4" fill="#000" font-weight="bold">O</text>
<text x="115.50" y="677.00" font-size="7.9" text-anchor="middle">Organoid #GC22</text>
<line x1="42.60" y1="681.90" x2="182.30" y2="681.90" stroke="#333" stroke-width="0.9"/>
<text x="58.80" y="691.30" font-size="7.95" text-anchor="middle">Vehicle</text>
<text x="94.50" y="691.30" font-size="7.95" text-anchor="middle">TGF</text>
<text x="130.30" y="691.30" font-size="7.95" text-anchor="middle">TGF&amp;Gal</text>
<text x="166.10" y="691.30" font-size="7.95" text-anchor="middle">TGF&amp;Vac</text>
<text x="40.20" y="714.75" font-size="8.0" text-anchor="end">Day 0</text>
<text x="40.20" y="749.80" font-size="8.0" text-anchor="end">Day 4</text>
<text x="40.20" y="784.95" font-size="8.0" text-anchor="end">Day 8</text>
<g clip-path="url(#c30)">
<rect x="42.60" y="696.10" width="32.40" height="31.70" fill="#c2c2c0"/>
<rect x="42.60" y="696.10" width="32.40" height="31.70" fill="#000" filter="url(#motS)" opacity="0.45"/>
<rect x="42.60" y="696.10" width="32.40" height="31.70" fill="#000" filter="url(#motSL)" opacity="0.4"/>
<circle cx="52.32" cy="705.61" r="2.50" fill="#f4f4f2" stroke="#888" stroke-width="0.4"/>
<circle cx="58.80" cy="711.95" r="3.00" fill="none" stroke="#e8e8e0" stroke-width="1.0"/>
<circle cx="58.80" cy="711.95" r="3.80" fill="none" stroke="#707070" stroke-width="0.4"/>
<circle cx="68.52" cy="700.86" r="2.00" fill="none" stroke="#e8e8e0" stroke-width="1.0"/>
<circle cx="68.52" cy="700.86" r="2.80" fill="none" stroke="#707070" stroke-width="0.4"/>
<circle cx="65.28" cy="719.88" r="2.50" fill="#f4f4f2" stroke="#888" stroke-width="0.4"/>
<line x1="61.00" y1="726.20" x2="73.00" y2="726.20" stroke="#2a2a2a" stroke-width="1.2"/>
</g>
<g clip-path="url(#c31)">
<rect x="78.30" y="696.10" width="32.40" height="31.70" fill="#b8b8b5"/>
<rect x="78.30" y="696.10" width="32.40" height="31.70" fill="#000" filter="url(#motS)" opacity="0.45"/>
<rect x="78.30" y="696.10" width="32.40" height="31.70" fill="#000" filter="url(#motSL)" opacity="0.4"/>
<circle cx="104.22" cy="702.44" r="2.00" fill="#8a8a86" stroke="#4a4a48" stroke-width="0.6"/>
<circle cx="103.82" cy="702.04" r="0.70" fill="#d8d8d4"/>
<circle cx="102.60" cy="710.37" r="2.00" fill="#8a8a86" stroke="#4a4a48" stroke-width="0.6"/>
<circle cx="102.20" cy="709.97" r="0.70" fill="#d8d8d4"/>
<circle cx="84.78" cy="718.29" r="2.50" fill="#8a8a86" stroke="#4a4a48" stroke-width="0.6"/>
<circle cx="84.28" cy="717.79" r="0.88" fill="#d8d8d4"/>
<circle cx="97.74" cy="716.70" r="3.00" fill="none" stroke="#3a3a38" stroke-width="0.7"/>
<circle cx="97.74" cy="716.70" r="2.20" fill="none" stroke="#eaeae4" stroke-width="0.5"/>
<circle cx="91.26" cy="724.63" r="1.50" fill="#8a8a86" stroke="#4a4a48" stroke-width="0.6"/>
<circle cx="90.96" cy="724.33" r="0.52" fill="#d8d8d4"/>
<line x1="96.70" y1="726.20" x2="108.70" y2="726.20" stroke="#2a2a2a" stroke-width="1.2"/>
</g>
<g clip-path="url(#c32)">
<rect x="114.00" y="696.10" width="32.60" height="31.70" fill="#bcbcb9"/>
<rect x="114.00" y="696.10" width="32.60" height="31.70" fill="#000" filter="url(#motS)" opacity="0.45"/>
<rect x="114.00" y="696.10" width="32.60" height="31.70" fill="#000" filter="url(#motSL)" opacity="0.4"/>
<circle cx="136.82" cy="705.61" r="2.20" fill="none" stroke="#e8e8e0" stroke-width="1.0"/>
<circle cx="136.82" cy="705.61" r="3.00" fill="none" stroke="#707070" stroke-width="0.4"/>
<circle cx="131.93" cy="710.37" r="1.50" fill="#8a8a86" stroke="#4a4a48" stroke-width="0.6"/>
<circle cx="131.63" cy="710.07" r="0.52" fill="#d8d8d4"/>
<circle cx="123.78" cy="718.29" r="2.00" fill="none" stroke="#e8e8e0" stroke-width="1.0"/>
<circle cx="123.78" cy="718.29" r="2.80" fill="none" stroke="#707070" stroke-width="0.4"/>
<circle cx="140.08" cy="721.46" r="1.00" fill="#f4f4f2" stroke="#888" stroke-width="0.4"/>
<line x1="132.60" y1="726.20" x2="144.60" y2="726.20" stroke="#2a2a2a" stroke-width="1.2"/>
</g>
<g clip-path="url(#c33)">
<rect x="149.90" y="696.10" width="32.40" height="31.70" fill="#cacac8"/>
<rect x="149.90" y="696.10" width="32.40" height="31.70" fill="#000" filter="url(#motS)" opacity="0.45"/>
<rect x="149.90" y="696.10" width="32.40" height="31.70" fill="#000" filter="url(#motSL)" opacity="0.4"/>
<circle cx="159.62" cy="713.53" r="1.50" fill="#f4f4f2" stroke="#888" stroke-width="0.4"/>
<circle cx="170.96" cy="715.12" r="3.00" fill="#f4f4f2" stroke="#888" stroke-width="0.4"/>
<circle cx="174.20" cy="705.61" r="1.00" fill="#f4f4f2" stroke="#888" stroke-width="0.4"/>
<circle cx="169.34" cy="723.04" r="1.50" fill="none" stroke="#e8e8e0" stroke-width="1.0"/>
<circle cx="169.34" cy="723.04" r="2.30" fill="none" stroke="#707070" stroke-width="0.4"/>
<line x1="168.30" y1="726.20" x2="180.30" y2="726.20" stroke="#2a2a2a" stroke-width="1.2"/>
</g>
<g clip-path="url(#c34)">
<rect x="42.60" y="731.10" width="32.40" height="31.80" fill="#babab7"/>
<rect x="42.60" y="731.10" width="32.40" height="31.80" fill="#000" filter="url(#motS)" opacity="0.45"/>
<rect x="42.60" y="731.10" width="32.40" height="31.80" fill="#000" filter="url(#motSL)" opacity="0.4"/>
<circle cx="52.32" cy="742.23" r="3.50" fill="#b0b0a8" stroke="#e8e8e4" stroke-width="0.8"/>
<circle cx="55.15" cy="741.50" r="0.55" fill="#f0f0ea"/>
<circle cx="52.12" cy="742.39" r="0.55" fill="#f0f0ea"/>
<circle cx="52.46" cy="741.85" r="0.55" fill="#f0f0ea"/>
<circle cx="53.27" cy="742.97" r="0.55" fill="#f0f0ea"/>
<circle cx="51.31" cy="740.74" r="0.55" fill="#f0f0ea"/>
<circle cx="53.87" cy="740.41" r="0.55" fill="#707068"/>
<circle cx="55.35" cy="741.95" r="0.55" fill="#f0f0ea"/>
<circle cx="50.93" cy="740.78" r="0.55" fill="#707068"/>
<circle cx="50.86" cy="742.75" r="0.55" fill="#f0f0ea"/>
<circle cx="52.72" cy="741.76" r="0.55" fill="#f0f0ea"/>
<circle cx="50.03" cy="740.61" r="0.55" fill="#f0f0ea"/>
<circle cx="53.94" cy="750.18" r="3.00" fill="#b0b0a8" stroke="#e8e8e4" stroke-width="0.8"/>
<circle cx="53.92" cy="751.91" r="0.55" fill="#f0f0ea"/>
<circle cx="52.37" cy="752.34" r="0.55" fill="#f0f0ea"/>
<circle cx="54.26" cy="749.42" r="0.55" fill="#707068"/>
<circle cx="54.62" cy="748.31" r="0.55" fill="#f0f0ea"/>
<circle cx="56.23" cy="748.80" r="0.55" fill="#f0f0ea"/>
<circle cx="54.67" cy="749.30" r="0.55" fill="#707068"/>
<circle cx="55.73" cy="750.54" r="0.55" fill="#f0f0ea"/>
<circle cx="53.39" cy="749.63" r="0.55" fill="#f0f0ea"/>
<circle cx="65.28" cy="745.41" r="5.00" fill="none" stroke="#e8e8e0" stroke-width="1.0"/>
<circle cx="65.28" cy="745.41" r="5.80" fill="none" stroke="#707070" stroke-width="0.4"/>
<circle cx="68.52" cy="756.54" r="2.00" fill="#8a8a86" stroke="#4a4a48" stroke-width="0.6"/>
<circle cx="68.12" cy="756.14" r="0.70" fill="#d8d8d4"/>
<line x1="61.00" y1="761.30" x2="73.00" y2="761.30" stroke="#2a2a2a" stroke-width="1.2"/>
</g>
<g clip-path="url(#c35)">
<rect x="78.30" y="731.10" width="32.40" height="31.80" fill="#bcbcb9"/>
<rect x="78.30" y="731.10" width="32.40" height="31.80" fill="#000" filter="url(#motS)" opacity="0.45"/>
<rect x="78.30" y="731.10" width="32.40" height="31.80" fill="#000" filter="url(#motSL)" opacity="0.4"/>
<circle cx="97.74" cy="740.64" r="1.60" fill="none" stroke="#e8e8e0" stroke-width="1.0"/>
<circle cx="97.74" cy="740.64" r="2.40" fill="none" stroke="#707070" stroke-width="0.4"/>
<circle cx="91.26" cy="745.41" r="1.50" fill="none" stroke="#e8e8e0" stroke-width="1.0"/>
<circle cx="91.26" cy="745.41" r="2.30" fill="none" stroke="#707070" stroke-width="0.4"/>
<circle cx="105.84" cy="740.64" r="1.50" fill="none" stroke="#e8e8e0" stroke-width="1.0"/>
<circle cx="105.84" cy="740.64" r="2.30" fill="none" stroke="#707070" stroke-width="0.4"/>
<circle cx="96.12" cy="756.54" r="1.50" fill="#8a8a86" stroke="#4a4a48" stroke-width="0.6"/>
<circle cx="95.82" cy="756.24" r="0.52" fill="#d8d8d4"/>
<line x1="96.70" y1="761.30" x2="108.70" y2="761.30" stroke="#2a2a2a" stroke-width="1.2"/>
</g>
<g clip-path="url(#c36)">
<rect x="114.00" y="731.10" width="32.60" height="31.80" fill="#b8b8b5"/>
<rect x="114.00" y="731.10" width="32.60" height="31.80" fill="#000" filter="url(#motS)" opacity="0.45"/>
<rect x="114.00" y="731.10" width="32.60" height="31.80" fill="#000" filter="url(#motSL)" opacity="0.4"/>
<circle cx="120.52" cy="743.82" r="3.00" fill="#b0b0a8" stroke="#e8e8e4" stroke-width="0.8"/>
<circle cx="119.90" cy="741.35" r="0.55" fill="#f0f0ea"/>
<circle cx="118.69" cy="743.16" r="0.55" fill="#707068"/>
<circle cx="122.78" cy="744.66" r="0.55" fill="#f0f0ea"/>
<circle cx="121.53" cy="746.26" r="0.55" fill="#707068"/>
<circle cx="118.39" cy="744.71" r="0.55" fill="#707068"/>
<circle cx="119.67" cy="741.66" r="0.55" fill="#707068"/>
<circle cx="120.02" cy="741.72" r="0.55" fill="#f0f0ea"/>
<circle cx="120.23" cy="745.68" r="0.55" fill="#f0f0ea"/>
<circle cx="133.56" cy="742.23" r="4.50" fill="#b0b0a8" stroke="#e8e8e4" stroke-width="0.8"/>
<circle cx="133.01" cy="744.48" r="0.55" fill="#f0f0ea"/>
<circle cx="134.31" cy="743.14" r="0.55" fill="#f0f0ea"/>
<circle cx="133.46" cy="740.96" r="0.55" fill="#f0f0ea"/>
<circle cx="134.16" cy="739.85" r="0.55" fill="#707068"/>
<circle cx="131.37" cy="740.43" r="0.55" fill="#707068"/>
<circle cx="133.80" cy="746.02" r="0.55" fill="#707068"/>
<circle cx="134.13" cy="744.14" r="0.55" fill="#707068"/>
<circle cx="130.81" cy="741.04" r="0.55" fill="#f0f0ea"/>
<circle cx="131.98" cy="745.80" r="0.55" fill="#707068"/>
<circle cx="130.98" cy="741.40" r="0.55" fill="#707068"/>
<circle cx="134.16" cy="744.77" r="0.55" fill="#707068"/>
<circle cx="131.03" cy="744.33" r="0.55" fill="#f0f0ea"/>
<circle cx="133.95" cy="742.86" r="0.55" fill="#707068"/>
<circle cx="132.56" cy="741.99" r="0.55" fill="#f0f0ea"/>
<circle cx="133.94" cy="738.85" r="0.55" fill="#707068"/>
<circle cx="130.13" cy="742.34" r="0.55" fill="#f0f0ea"/>
<circle cx="134.34" cy="745.82" r="0.55" fill="#707068"/>
<circle cx="135.00" cy="743.49" r="0.55" fill="#707068"/>
<circle cx="136.82" cy="757.18" r="3.50" fill="#b0b0a8" stroke="#e8e8e4" stroke-width="0.8"/>
<circle cx="137.08" cy="758.26" r="0.55" fill="#f0f0ea"/>
<circle cx="139.26" cy="758.29" r="0.55" fill="#707068"/>
<circle cx="135.42" cy="754.56" r="0.55" fill="#f0f0ea"/>
<circle cx="139.64" cy="757.06" r="0.55" fill="#f0f0ea"/>
<circle cx="134.75" cy="758.16" r="0.55" fill="#f0f0ea"/>
<circle cx="135.90" cy="759.89" r="0.55" fill="#707068"/>
<circle cx="139.00" cy="757.00" r="0.55" fill="#707068"/>
<circle cx="136.54" cy="756.68" r="0.55" fill="#707068"/>
<circle cx="138.06" cy="757.21" r="0.55" fill="#707068"/>
<circle cx="136.06" cy="754.40" r="0.55" fill="#707068"/>
<circle cx="139.05" cy="759.32" r="0.55" fill="#f0f0ea"/>
<line x1="132.60" y1="761.30" x2="144.60" y2="761.30" stroke="#2a2a2a" stroke-width="1.2"/>
</g>
<g clip-path="url(#c37)">
<rect x="149.90" y="731.10" width="32.40" height="31.80" fill="#bebebc"/>
<rect x="149.90" y="731.10" width="32.40" height="31.80" fill="#000" filter="url(#motS)" opacity="0.45"/>
<rect x="149.90" y="731.10" width="32.40" height="31.80" fill="#000" filter="url(#motSL)" opacity="0.4"/>
<circle cx="169.34" cy="737.46" r="2.50" fill="none" stroke="#e8e8e0" stroke-width="1.0"/>
<circle cx="169.34" cy="737.46" r="3.30" fill="none" stroke="#707070" stroke-width="0.4"/>
<circle cx="159.62" cy="748.59" r="2.80" fill="#f4f4f2" stroke="#888" stroke-width="0.4"/>
<circle cx="167.72" cy="753.36" r="2.50" fill="#f4f4f2" stroke="#888" stroke-width="0.4"/>
<circle cx="175.82" cy="758.13" r="1.20" fill="#f4f4f2" stroke="#888" stroke-width="0.4"/>
<line x1="168.30" y1="761.30" x2="180.30" y2="761.30" stroke="#2a2a2a" stroke-width="1.2"/>
</g>
<g clip-path="url(#c38)">
<rect x="42.60" y="766.20" width="32.40" height="31.90" fill="#b8b8b5"/>
<rect x="42.60" y="766.20" width="32.40" height="31.90" fill="#000" filter="url(#motS)" opacity="0.45"/>
<rect x="42.60" y="766.20" width="32.40" height="31.90" fill="#000" filter="url(#motSL)" opacity="0.4"/>
<circle cx="60.42" cy="775.77" r="6.00" fill="#b0b0a8" stroke="#e8e8e4" stroke-width="0.8"/>
<circle cx="63.73" cy="779.31" r="0.55" fill="#707068"/>
<circle cx="59.97" cy="772.50" r="0.55" fill="#f0f0ea"/>
<circle cx="59.72" cy="777.94" r="0.55" fill="#707068"/>
<circle cx="61.27" cy="777.95" r="0.55" fill="#707068"/>
<circle cx="62.86" cy="777.60" r="0.55" fill="#707068"/>
<circle cx="61.58" cy="780.67" r="0.55" fill="#f0f0ea"/>
<circle cx="60.31" cy="771.74" r="0.55" fill="#707068"/>
<circle cx="65.13" cy="776.79" r="0.55" fill="#707068"/>
<circle cx="65.62" cy="775.42" r="0.55" fill="#f0f0ea"/>
<circle cx="55.17" cy="775.40" r="0.55" fill="#f0f0ea"/>
<circle cx="65.69" cy="775.34" r="0.55" fill="#707068"/>
<circle cx="64.51" cy="773.44" r="0.55" fill="#f0f0ea"/>
<circle cx="62.73" cy="775.54" r="0.55" fill="#707068"/>
<circle cx="60.76" cy="779.31" r="0.55" fill="#f0f0ea"/>
<circle cx="57.56" cy="779.57" r="0.55" fill="#f0f0ea"/>
<circle cx="60.87" cy="778.97" r="0.55" fill="#f0f0ea"/>
<circle cx="65.13" cy="776.58" r="0.55" fill="#707068"/>
<circle cx="61.82" cy="773.89" r="0.55" fill="#f0f0ea"/>
<circle cx="65.23" cy="777.65" r="0.55" fill="#f0f0ea"/>
<circle cx="61.96" cy="774.52" r="0.55" fill="#707068"/>
<circle cx="65.10" cy="776.70" r="0.55" fill="#707068"/>
<circle cx="63.34" cy="779.34" r="0.55" fill="#707068"/>
<circle cx="59.67" cy="772.86" r="0.55" fill="#707068"/>
<circle cx="59.99" cy="772.06" r="0.55" fill="#707068"/>
<circle cx="59.17" cy="775.76" r="0.55" fill="#707068"/>
<circle cx="61.30" cy="777.82" r="0.55" fill="#f0f0ea"/>
<circle cx="59.65" cy="776.30" r="0.55" fill="#707068"/>
<circle cx="64.88" cy="778.05" r="0.55" fill="#707068"/>
<circle cx="61.52" cy="776.68" r="0.55" fill="#f0f0ea"/>
<circle cx="62.86" cy="779.27" r="0.55" fill="#f0f0ea"/>
<circle cx="63.88" cy="778.37" r="0.55" fill="#f0f0ea"/>
<circle cx="62.51" cy="771.37" r="0.55" fill="#707068"/>
<circle cx="51.67" cy="791.08" r="5.50" fill="#b0b0a8" stroke="#e8e8e4" stroke-width="0.8"/>
<circle cx="47.28" cy="793.24" r="0.55" fill="#707068"/>
<circle cx="48.77" cy="787.47" r="0.55" fill="#f0f0ea"/>
<circle cx="53.04" cy="787.70" r="0.55" fill="#707068"/>
<circle cx="55.51" cy="791.60" r="0.55" fill="#707068"/>
<circle cx="53.53" cy="793.65" r="0.55" fill="#f0f0ea"/>
<circle cx="47.10" cy="789.58" r="0.55" fill="#f0f0ea"/>
<circle cx="55.64" cy="793.42" r="0.55" fill="#f0f0ea"/>
<circle cx="49.36" cy="788.94" r="0.55" fill="#f0f0ea"/>
<circle cx="49.07" cy="792.86" r="0.55" fill="#f0f0ea"/>
<circle cx="53.01" cy="788.06" r="0.55" fill="#f0f0ea"/>
<circle cx="53.32" cy="793.63" r="0.55" fill="#f0f0ea"/>
<circle cx="55.34" cy="790.79" r="0.55" fill="#707068"/>
<circle cx="52.15" cy="789.98" r="0.55" fill="#f0f0ea"/>
<circle cx="50.89" cy="795.57" r="0.55" fill="#f0f0ea"/>
<circle cx="47.53" cy="788.49" r="0.55" fill="#707068"/>
<circle cx="53.86" cy="791.87" r="0.55" fill="#f0f0ea"/>
<circle cx="47.84" cy="788.95" r="0.55" fill="#707068"/>
<circle cx="53.38" cy="789.71" r="0.55" fill="#f0f0ea"/>
<circle cx="56.12" cy="790.87" r="0.55" fill="#f0f0ea"/>
<circle cx="47.98" cy="793.79" r="0.55" fill="#707068"/>
<circle cx="49.89" cy="794.12" r="0.55" fill="#f0f0ea"/>
<circle cx="50.15" cy="790.02" r="0.55" fill="#f0f0ea"/>
<circle cx="51.18" cy="786.37" r="0.55" fill="#f0f0ea"/>
<circle cx="48.77" cy="789.82" r="0.55" fill="#707068"/>
<circle cx="47.35" cy="792.54" r="0.55" fill="#707068"/>
<circle cx="49.64" cy="790.98" r="0.55" fill="#707068"/>
<circle cx="49.87" cy="795.50" r="0.55" fill="#f0f0ea"/>
<line x1="61.00" y1="796.50" x2="73.00" y2="796.50" stroke="#2a2a2a" stroke-width="1.2"/>
</g>
<g clip-path="url(#c39)">
<rect x="78.30" y="766.20" width="32.40" height="31.90" fill="#b9b9b6"/>
<rect x="78.30" y="766.20" width="32.40" height="31.90" fill="#000" filter="url(#motS)" opacity="0.45"/>
<rect x="78.30" y="766.20" width="32.40" height="31.90" fill="#000" filter="url(#motSL)" opacity="0.4"/>
<circle cx="96.12" cy="770.99" r="2.00" fill="#8a8a86" stroke="#4a4a48" stroke-width="0.6"/>
<circle cx="95.72" cy="770.59" r="0.70" fill="#d8d8d4"/>
<circle cx="88.02" cy="791.72" r="2.20" fill="#8a8a86" stroke="#4a4a48" stroke-width="0.6"/>
<circle cx="87.58" cy="791.28" r="0.77" fill="#d8d8d4"/>
<circle cx="102.60" cy="793.32" r="2.00" fill="#8a8a86" stroke="#4a4a48" stroke-width="0.6"/>
<circle cx="102.20" cy="792.92" r="0.70" fill="#d8d8d4"/>
<circle cx="94.50" cy="783.75" r="1.50" fill="none" stroke="#e8e8e0" stroke-width="1.0"/>
<circle cx="94.50" cy="783.75" r="2.30" fill="none" stroke="#707070" stroke-width="0.4"/>
<line x1="96.70" y1="796.50" x2="108.70" y2="796.50" stroke="#2a2a2a" stroke-width="1.2"/>
</g>
<g clip-path="url(#c40)">
<rect x="114.00" y="766.20" width="32.60" height="31.90" fill="#b6b6b3"/>
<rect x="114.00" y="766.20" width="32.60" height="31.90" fill="#000" filter="url(#motS)" opacity="0.45"/>
<rect x="114.00" y="766.20" width="32.60" height="31.90" fill="#000" filter="url(#motSL)" opacity="0.4"/>
<circle cx="123.78" cy="780.56" r="7.00" fill="#b0b0a8" stroke="#e8e8e4" stroke-width="0.8"/>
<circle cx="127.35" cy="778.99" r="0.55" fill="#f0f0ea"/>
<circle cx="119.29" cy="783.35" r="0.55" fill="#f0f0ea"/>
<circle cx="119.52" cy="779.34" r="0.55" fill="#f0f0ea"/>
<circle cx="127.12" cy="783.55" r="0.55" fill="#f0f0ea"/>
<circle cx="126.70" cy="784.59" r="0.55" fill="#707068"/>
<circle cx="129.07" cy="778.81" r="0.55" fill="#f0f0ea"/>
<circle cx="123.13" cy="784.27" r="0.55" fill="#f0f0ea"/>
<circle cx="129.82" cy="780.31" r="0.55" fill="#707068"/>
<circle cx="122.88" cy="786.44" r="0.55" fill="#f0f0ea"/>
<circle cx="125.15" cy="784.32" r="0.55" fill="#f0f0ea"/>
<circle cx="125.10" cy="783.22" r="0.55" fill="#f0f0ea"/>
<circle cx="120.19" cy="780.67" r="0.55" fill="#f0f0ea"/>
<circle cx="122.81" cy="783.20" r="0.55" fill="#707068"/>
<circle cx="124.08" cy="780.30" r="0.55" fill="#707068"/>
<circle cx="123.75" cy="779.86" r="0.55" fill="#707068"/>
<circle cx="125.09" cy="784.73" r="0.55" fill="#707068"/>
<circle cx="121.49" cy="785.38" r="0.55" fill="#707068"/>
<circle cx="129.62" cy="782.25" r="0.55" fill="#707068"/>
<circle cx="122.64" cy="780.39" r="0.55" fill="#707068"/>
<circle cx="129.03" cy="783.91" r="0.55" fill="#707068"/>
<circle cx="117.77" cy="779.52" r="0.55" fill="#f0f0ea"/>
<circle cx="125.65" cy="779.65" r="0.55" fill="#f0f0ea"/>
<circle cx="125.31" cy="782.20" r="0.55" fill="#f0f0ea"/>
<circle cx="122.54" cy="778.81" r="0.55" fill="#707068"/>
<circle cx="126.31" cy="776.83" r="0.55" fill="#f0f0ea"/>
<circle cx="118.19" cy="780.41" r="0.55" fill="#f0f0ea"/>
<circle cx="126.48" cy="781.33" r="0.55" fill="#f0f0ea"/>
<circle cx="122.06" cy="777.47" r="0.55" fill="#f0f0ea"/>
<circle cx="129.10" cy="783.60" r="0.55" fill="#f0f0ea"/>
<circle cx="123.52" cy="780.10" r="0.55" fill="#f0f0ea"/>
<circle cx="124.99" cy="778.12" r="0.55" fill="#707068"/>
<circle cx="119.16" cy="784.07" r="0.55" fill="#707068"/>
<circle cx="121.72" cy="778.22" r="0.55" fill="#707068"/>
<circle cx="124.79" cy="778.17" r="0.55" fill="#f0f0ea"/>
<circle cx="129.00" cy="777.53" r="0.55" fill="#707068"/>
<circle cx="120.01" cy="776.71" r="0.55" fill="#707068"/>
<circle cx="126.77" cy="779.66" r="0.55" fill="#f0f0ea"/>
<circle cx="118.46" cy="782.10" r="0.55" fill="#f0f0ea"/>
<circle cx="124.14" cy="781.27" r="0.55" fill="#f0f0ea"/>
<circle cx="119.85" cy="779.37" r="0.55" fill="#707068"/>
<circle cx="122.40" cy="775.48" r="0.55" fill="#f0f0ea"/>
<circle cx="121.62" cy="782.27" r="0.55" fill="#f0f0ea"/>
<circle cx="122.00" cy="779.08" r="0.55" fill="#f0f0ea"/>
<circle cx="125.25" cy="781.20" r="0.55" fill="#707068"/>
<circle cx="138.45" cy="774.18" r="5.50" fill="#b0b0a8" stroke="#e8e8e4" stroke-width="0.8"/>
<circle cx="140.26" cy="770.03" r="0.55" fill="#f0f0ea"/>
<circle cx="137.22" cy="771.57" r="0.55" fill="#f0f0ea"/>
<circle cx="135.51" cy="776.51" r="0.55" fill="#f0f0ea"/>
<circle cx="134.63" cy="776.15" r="0.55" fill="#f0f0ea"/>
<circle cx="135.59" cy="771.29" r="0.55" fill="#f0f0ea"/>
<circle cx="136.08" cy="775.85" r="0.55" fill="#707068"/>
<circle cx="141.30" cy="770.79" r="0.55" fill="#f0f0ea"/>
<circle cx="140.17" cy="773.68" r="0.55" fill="#f0f0ea"/>
<circle cx="141.35" cy="771.88" r="0.55" fill="#f0f0ea"/>
<circle cx="135.08" cy="772.29" r="0.55" fill="#707068"/>
<circle cx="138.57" cy="770.04" r="0.55" fill="#707068"/>
<circle cx="141.22" cy="774.23" r="0.55" fill="#707068"/>
<circle cx="141.02" cy="771.31" r="0.55" fill="#707068"/>
<circle cx="137.91" cy="775.20" r="0.55" fill="#707068"/>
<circle cx="140.40" cy="774.08" r="0.55" fill="#f0f0ea"/>
<circle cx="141.11" cy="770.55" r="0.55" fill="#707068"/>
<circle cx="137.69" cy="774.18" r="0.55" fill="#f0f0ea"/>
<circle cx="140.91" cy="775.92" r="0.55" fill="#f0f0ea"/>
<circle cx="140.03" cy="774.36" r="0.55" fill="#707068"/>
<circle cx="136.55" cy="769.76" r="0.55" fill="#f0f0ea"/>
<circle cx="137.75" cy="770.10" r="0.55" fill="#f0f0ea"/>
<circle cx="137.11" cy="774.72" r="0.55" fill="#707068"/>
<circle cx="136.28" cy="770.84" r="0.55" fill="#f0f0ea"/>
<circle cx="139.17" cy="772.83" r="0.55" fill="#f0f0ea"/>
<circle cx="136.08" cy="775.81" r="0.55" fill="#707068"/>
<circle cx="139.60" cy="772.99" r="0.55" fill="#f0f0ea"/>
<circle cx="141.53" cy="772.00" r="0.55" fill="#707068"/>
<circle cx="123.78" cy="794.27" r="4.00" fill="#b0b0a8" stroke="#e8e8e4" stroke-width="0.8"/>
<circle cx="125.13" cy="791.90" r="0.55" fill="#f0f0ea"/>
<circle cx="121.78" cy="791.73" r="0.55" fill="#f0f0ea"/>
<circle cx="124.35" cy="794.43" r="0.55" fill="#f0f0ea"/>
<circle cx="124.59" cy="796.69" r="0.55" fill="#f0f0ea"/>
<circle cx="123.96" cy="792.04" r="0.55" fill="#707068"/>
<circle cx="121.38" cy="795.61" r="0.55" fill="#707068"/>
<circle cx="126.49" cy="794.03" r="0.55" fill="#707068"/>
<circle cx="124.10" cy="791.31" r="0.55" fill="#707068"/>
<circle cx="124.05" cy="796.83" r="0.55" fill="#f0f0ea"/>
<circle cx="123.81" cy="794.42" r="0.55" fill="#f0f0ea"/>
<circle cx="123.33" cy="794.72" r="0.55" fill="#f0f0ea"/>
<circle cx="122.88" cy="793.85" r="0.55" fill="#f0f0ea"/>
<circle cx="124.25" cy="796.61" r="0.55" fill="#f0f0ea"/>
<circle cx="125.46" cy="791.21" r="0.55" fill="#707068"/>
<line x1="132.60" y1="796.50" x2="144.60" y2="796.50" stroke="#2a2a2a" stroke-width="1.2"/>
</g>
<g clip-path="url(#c41)">
<rect x="149.90" y="766.20" width="32.40" height="31.90" fill="#b4b4b2"/>
<rect x="149.90" y="766.20" width="32.40" height="31.90" fill="#000" filter="url(#motS)" opacity="0.45"/>
<rect x="149.90" y="766.20" width="32.40" height="31.90" fill="#000" filter="url(#motSL)" opacity="0.4"/>
<circle cx="172.58" cy="777.37" r="7.50" fill="#b0b0a8" stroke="#e8e8e4" stroke-width="0.8"/>
<circle cx="174.02" cy="774.63" r="0.55" fill="#707068"/>
<circle cx="168.35" cy="777.53" r="0.55" fill="#f0f0ea"/>
<circle cx="168.74" cy="773.29" r="0.55" fill="#f0f0ea"/>
<circle cx="174.44" cy="781.53" r="0.55" fill="#707068"/>
<circle cx="171.67" cy="773.34" r="0.55" fill="#707068"/>
<circle cx="171.36" cy="777.37" r="0.55" fill="#f0f0ea"/>
<circle cx="176.05" cy="774.48" r="0.55" fill="#f0f0ea"/>
<circle cx="176.61" cy="773.12" r="0.55" fill="#f0f0ea"/>
<circle cx="171.53" cy="781.13" r="0.55" fill="#f0f0ea"/>
<circle cx="169.18" cy="782.66" r="0.55" fill="#f0f0ea"/>
<circle cx="171.27" cy="773.21" r="0.55" fill="#707068"/>
<circle cx="172.27" cy="772.71" r="0.55" fill="#707068"/>
<circle cx="177.15" cy="775.49" r="0.55" fill="#f0f0ea"/>
<circle cx="173.31" cy="777.22" r="0.55" fill="#707068"/>
<circle cx="178.33" cy="776.19" r="0.55" fill="#707068"/>
<circle cx="166.23" cy="775.98" r="0.55" fill="#f0f0ea"/>
<circle cx="170.55" cy="779.61" r="0.55" fill="#f0f0ea"/>
<circle cx="174.75" cy="775.85" r="0.55" fill="#707068"/>
<circle cx="168.33" cy="774.65" r="0.55" fill="#f0f0ea"/>
<circle cx="177.43" cy="775.81" r="0.55" fill="#f0f0ea"/>
<circle cx="177.07" cy="782.06" r="0.55" fill="#f0f0ea"/>
<circle cx="167.13" cy="776.15" r="0.55" fill="#707068"/>
<circle cx="174.12" cy="777.84" r="0.55" fill="#707068"/>
<circle cx="172.66" cy="772.03" r="0.55" fill="#f0f0ea"/>
<circle cx="175.40" cy="774.47" r="0.55" fill="#f0f0ea"/>
<circle cx="167.71" cy="774.12" r="0.55" fill="#707068"/>
<circle cx="176.45" cy="780.27" r="0.55" fill="#707068"/>
<circle cx="173.13" cy="779.64" r="0.55" fill="#707068"/>
<circle cx="176.97" cy="777.22" r="0.55" fill="#f0f0ea"/>
<circle cx="173.33" cy="779.22" r="0.55" fill="#707068"/>
<circle cx="171.09" cy="777.65" r="0.55" fill="#f0f0ea"/>
<circle cx="174.98" cy="775.21" r="0.55" fill="#f0f0ea"/>
<circle cx="177.16" cy="779.10" r="0.55" fill="#707068"/>
<circle cx="170.79" cy="779.82" r="0.55" fill="#707068"/>
<circle cx="170.86" cy="781.31" r="0.55" fill="#707068"/>
<circle cx="170.51" cy="775.44" r="0.55" fill="#707068"/>
<circle cx="174.53" cy="773.46" r="0.55" fill="#707068"/>
<circle cx="174.92" cy="773.07" r="0.55" fill="#707068"/>
<circle cx="177.29" cy="781.53" r="0.55" fill="#f0f0ea"/>
<circle cx="171.26" cy="772.69" r="0.55" fill="#f0f0ea"/>
<circle cx="170.58" cy="771.31" r="0.55" fill="#707068"/>
<circle cx="171.96" cy="782.56" r="0.55" fill="#f0f0ea"/>
<circle cx="175.86" cy="772.57" r="0.55" fill="#f0f0ea"/>
<circle cx="174.37" cy="774.11" r="0.55" fill="#707068"/>
<circle cx="168.19" cy="773.56" r="0.55" fill="#707068"/>
<circle cx="177.04" cy="778.42" r="0.55" fill="#707068"/>
<circle cx="172.33" cy="780.97" r="0.55" fill="#f0f0ea"/>
<circle cx="169.52" cy="771.46" r="0.55" fill="#f0f0ea"/>
<circle cx="174.12" cy="781.73" r="0.55" fill="#707068"/>
<circle cx="177.80" cy="776.74" r="0.55" fill="#707068"/>
<circle cx="154.76" cy="780.56" r="5.00" fill="#b0b0a8" stroke="#e8e8e4" stroke-width="0.8"/>
<circle cx="151.08" cy="781.73" r="0.55" fill="#f0f0ea"/>
<circle cx="153.12" cy="781.74" r="0.55" fill="#707068"/>
<circle cx="154.78" cy="784.57" r="0.55" fill="#707068"/>
<circle cx="151.73" cy="782.63" r="0.55" fill="#707068"/>
<circle cx="150.95" cy="782.00" r="0.55" fill="#707068"/>
<circle cx="151.97" cy="781.60" r="0.55" fill="#707068"/>
<circle cx="154.01" cy="778.75" r="0.55" fill="#707068"/>
<circle cx="156.24" cy="782.26" r="0.55" fill="#f0f0ea"/>
<circle cx="153.92" cy="782.85" r="0.55" fill="#707068"/>
<circle cx="154.91" cy="777.79" r="0.55" fill="#707068"/>
<circle cx="157.30" cy="777.60" r="0.55" fill="#f0f0ea"/>
<circle cx="153.21" cy="778.92" r="0.55" fill="#707068"/>
<circle cx="155.45" cy="782.58" r="0.55" fill="#707068"/>
<circle cx="153.09" cy="778.75" r="0.55" fill="#f0f0ea"/>
<circle cx="152.82" cy="781.69" r="0.55" fill="#f0f0ea"/>
<circle cx="155.17" cy="776.22" r="0.55" fill="#f0f0ea"/>
<circle cx="157.60" cy="778.27" r="0.55" fill="#f0f0ea"/>
<circle cx="154.17" cy="778.52" r="0.55" fill="#f0f0ea"/>
<circle cx="151.13" cy="781.39" r="0.55" fill="#f0f0ea"/>
<circle cx="151.53" cy="780.80" r="0.55" fill="#707068"/>
<circle cx="153.98" cy="780.83" r="0.55" fill="#f0f0ea"/>
<circle cx="155.36" cy="778.18" r="0.55" fill="#707068"/>
<circle cx="173.23" cy="792.36" r="5.00" fill="#b0b0a8" stroke="#e8e8e4" stroke-width="0.8"/>
<circle cx="174.19" cy="792.58" r="0.55" fill="#f0f0ea"/>
<circle cx="175.83" cy="793.74" r="0.55" fill="#707068"/>
<circle cx="175.07" cy="793.48" r="0.55" fill="#f0f0ea"/>
<circle cx="172.80" cy="791.33" r="0.55" fill="#707068"/>
<circle cx="173.44" cy="793.23" r="0.55" fill="#f0f0ea"/>
<circle cx="175.18" cy="788.73" r="0.55" fill="#707068"/>
<circle cx="168.79" cy="792.05" r="0.55" fill="#707068"/>
<circle cx="174.24" cy="794.39" r="0.55" fill="#f0f0ea"/>
<circle cx="176.50" cy="791.08" r="0.55" fill="#707068"/>
<circle cx="175.31" cy="789.53" r="0.55" fill="#707068"/>
<circle cx="174.25" cy="794.08" r="0.55" fill="#f0f0ea"/>
<circle cx="169.20" cy="793.13" r="0.55" fill="#707068"/>
<circle cx="176.65" cy="792.73" r="0.55" fill="#f0f0ea"/>
<circle cx="170.17" cy="794.66" r="0.55" fill="#707068"/>
<circle cx="171.92" cy="788.61" r="0.55" fill="#707068"/>
<circle cx="169.93" cy="794.95" r="0.55" fill="#707068"/>
<circle cx="170.16" cy="790.84" r="0.55" fill="#f0f0ea"/>
<circle cx="169.90" cy="794.39" r="0.55" fill="#707068"/>
<circle cx="173.34" cy="791.24" r="0.55" fill="#707068"/>
<circle cx="172.14" cy="791.52" r="0.55" fill="#f0f0ea"/>
<circle cx="172.95" cy="793.89" r="0.55" fill="#f0f0ea"/>
<circle cx="174.61" cy="796.15" r="0.55" fill="#f0f0ea"/>
<line x1="168.30" y1="796.50" x2="180.30" y2="796.50" stroke="#2a2a2a" stroke-width="1.2"/>
</g>
<text x="182.10" y="804.80" font-size="7.2" text-anchor="end">100 μm</text>
<line x1="219.90" y1="695.00" x2="219.90" y2="787.80" stroke="#222" stroke-width="0.9"/>
<line x1="219.45" y1="787.50" x2="316.10" y2="787.50" stroke="#222" stroke-width="0.9"/>
<line x1="218.10" y1="783.20" x2="219.90" y2="783.20" stroke="#222" stroke-width="0.7"/>
<text x="217.60" y="785.90" font-size="7.6" text-anchor="end">0</text>
<line x1="218.10" y1="750.90" x2="219.90" y2="750.90" stroke="#222" stroke-width="0.7"/>
<text x="217.60" y="753.60" font-size="7.6" text-anchor="end">50</text>
<line x1="218.10" y1="718.60" x2="219.90" y2="718.60" stroke="#222" stroke-width="0.7"/>
<text x="217.60" y="721.30" font-size="7.6" text-anchor="end">100</text>
<line x1="225.70" y1="787.50" x2="225.70" y2="789.30" stroke="#222" stroke-width="0.7"/>
<text x="225.70" y="794.20" font-size="7.6" text-anchor="middle">0</text>
<line x1="267.42" y1="787.50" x2="267.42" y2="789.30" stroke="#222" stroke-width="0.7"/>
<text x="267.42" y="794.20" font-size="7.6" text-anchor="middle">4</text>
<line x1="309.14" y1="787.50" x2="309.14" y2="789.30" stroke="#222" stroke-width="0.7"/>
<text x="309.14" y="794.20" font-size="7.6" text-anchor="middle">8</text>
<text x="266.60" y="802.70" font-size="7.6" text-anchor="middle">Time (days)</text>
<text x="269.40" y="691.20" font-size="7.1" text-anchor="middle">Organoid #GC22</text>
<text x="199.6" y="745.4" font-size="7.6" text-anchor="middle" fill="#1a1a1a" transform="rotate(-90 199.6 745.4)">Organoid diameter (μm)</text>
<polyline points="225.70,774.16 267.42,753.48 309.14,740.56" fill="none" stroke="#30609a" stroke-width="1.1"/>
<path d="M224.2,774.2 L225.7,772.7 L227.2,774.2 L225.7,775.7 Z" fill="#30609a"/>
<line x1="267.42" y1="755.42" x2="267.42" y2="751.55" stroke="#30609a" stroke-width="0.9"/>
<line x1="265.82" y1="751.55" x2="269.02" y2="751.55" stroke="#30609a" stroke-width="0.9"/>
<line x1="265.82" y1="755.42" x2="269.02" y2="755.42" stroke="#30609a" stroke-width="0.9"/>
<path d="M265.9,753.5 L267.4,752.0 L268.9,753.5 L267.4,755.0 Z" fill="#30609a"/>
<line x1="309.14" y1="741.86" x2="309.14" y2="739.27" stroke="#30609a" stroke-width="0.9"/>
<line x1="307.54" y1="739.27" x2="310.74" y2="739.27" stroke="#30609a" stroke-width="0.9"/>
<line x1="307.54" y1="741.86" x2="310.74" y2="741.86" stroke="#30609a" stroke-width="0.9"/>
<path d="M307.6,740.6 L309.1,739.1 L310.6,740.6 L309.1,742.1 Z" fill="#30609a"/>
<polyline points="225.70,774.16 267.42,765.76 309.14,756.07" fill="none" stroke="#f8696b" stroke-width="1.1"/>
<path d="M224.2,774.2 L225.7,772.7 L227.2,774.2 L225.7,775.7 Z" fill="#f8696b"/>
<path d="M265.9,765.8 L267.4,764.3 L268.9,765.8 L267.4,767.3 Z" fill="#f8696b"/>
<line x1="309.14" y1="758.65" x2="309.14" y2="753.48" stroke="#f8696b" stroke-width="0.9"/>
<line x1="307.54" y1="753.48" x2="310.74" y2="753.48" stroke="#f8696b" stroke-width="0.9"/>
<line x1="307.54" y1="758.65" x2="310.74" y2="758.65" stroke="#f8696b" stroke-width="0.9"/>
<path d="M307.6,756.1 L309.1,754.6 L310.6,756.1 L309.1,757.6 Z" fill="#f8696b"/>
<polyline points="225.70,774.16 267.42,745.73 309.14,725.06" fill="none" stroke="#8dc63f" stroke-width="1.1"/>
<path d="M224.2,774.2 L225.7,772.7 L227.2,774.2 L225.7,775.7 Z" fill="#8dc63f"/>
<line x1="267.42" y1="748.32" x2="267.42" y2="743.15" stroke="#8dc63f" stroke-width="0.9"/>
<line x1="265.82" y1="743.15" x2="269.02" y2="743.15" stroke="#8dc63f" stroke-width="0.9"/>
<line x1="265.82" y1="748.32" x2="269.02" y2="748.32" stroke="#8dc63f" stroke-width="0.9"/>
<path d="M265.9,745.7 L267.4,744.2 L268.9,745.7 L267.4,747.2 Z" fill="#8dc63f"/>
<line x1="309.14" y1="726.35" x2="309.14" y2="723.77" stroke="#8dc63f" stroke-width="0.9"/>
<line x1="307.54" y1="723.77" x2="310.74" y2="723.77" stroke="#8dc63f" stroke-width="0.9"/>
<line x1="307.54" y1="726.35" x2="310.74" y2="726.35" stroke="#8dc63f" stroke-width="0.9"/>
<path d="M307.6,725.1 L309.1,723.6 L310.6,725.1 L309.1,726.6 Z" fill="#8dc63f"/>
<polyline points="225.70,774.16 267.42,737.33 309.14,717.95" fill="none" stroke="#f9c22e" stroke-width="1.1"/>
<path d="M224.2,774.2 L225.7,772.7 L227.2,774.2 L225.7,775.7 Z" fill="#f9c22e"/>
<line x1="267.42" y1="740.56" x2="267.42" y2="734.10" stroke="#f9c22e" stroke-width="0.9"/>
<line x1="265.82" y1="734.10" x2="269.02" y2="734.10" stroke="#f9c22e" stroke-width="0.9"/>
<line x1="265.82" y1="740.56" x2="269.02" y2="740.56" stroke="#f9c22e" stroke-width="0.9"/>
<path d="M265.9,737.3 L267.4,735.8 L268.9,737.3 L267.4,738.8 Z" fill="#f9c22e"/>
<line x1="309.14" y1="723.12" x2="309.14" y2="712.79" stroke="#f9c22e" stroke-width="0.9"/>
<line x1="307.54" y1="712.79" x2="310.74" y2="712.79" stroke="#f9c22e" stroke-width="0.9"/>
<line x1="307.54" y1="723.12" x2="310.74" y2="723.12" stroke="#f9c22e" stroke-width="0.9"/>
<path d="M307.6,718.0 L309.1,716.5 L310.6,718.0 L309.1,719.5 Z" fill="#f9c22e"/>
<line x1="222.90" y1="697.60" x2="228.10" y2="697.60" stroke="#30609a" stroke-width="1.1"/>
<path d="M224.0,697.6 L225.5,696.1 L227.0,697.6 L225.5,699.1 Z" fill="#30609a"/>
<text x="230.90" y="700.20" font-size="7.0">Vehicle</text>
<line x1="222.90" y1="704.93" x2="228.10" y2="704.93" stroke="#f8696b" stroke-width="1.1"/>
<path d="M224.0,704.9 L225.5,703.4 L227.0,704.9 L225.5,706.4 Z" fill="#f8696b"/>
<text x="230.90" y="707.53" font-size="7.0">TGF</text>
<line x1="222.90" y1="712.26" x2="228.10" y2="712.26" stroke="#8dc63f" stroke-width="1.1"/>
<path d="M224.0,712.3 L225.5,710.8 L227.0,712.3 L225.5,713.8 Z" fill="#8dc63f"/>
<text x="230.90" y="714.86" font-size="7.0">TGF&amp;Gal</text>
<line x1="222.90" y1="719.59" x2="228.10" y2="719.59" stroke="#f9c22e" stroke-width="1.1"/>
<path d="M224.0,719.6 L225.5,718.1 L227.0,719.6 L225.5,721.1 Z" fill="#f9c22e"/>
<text x="230.90" y="722.19" font-size="7.0">TGF&amp;Vac</text>
<polyline points="312.50,740.10 314.10,740.10 314.10,755.90 312.50,755.90" fill="none" stroke="#333" stroke-width="0.7"/>
<text x="317.10" y="747.40" font-size="6.6" text-anchor="middle" transform="rotate(90 317.10 747.40)">P =0.0020</text>
<polyline points="322.70,724.20 324.30,724.20 324.30,755.90 322.70,755.90" fill="none" stroke="#333" stroke-width="0.7"/>
<text x="326.00" y="740.70" font-size="6.6" text-anchor="middle" transform="rotate(90 326.00 740.70)">P &lt; 0.0001</text>
<polyline points="332.60,717.20 334.20,717.20 334.20,755.90 332.60,755.90" fill="none" stroke="#333" stroke-width="0.7"/>
<text x="336.10" y="736.60" font-size="6.6" text-anchor="middle" transform="rotate(90 336.10 736.60)">P &lt; 0.0001</text>
<text x="349.80" y="676.90" font-size="12.4" fill="#000" font-weight="bold">P</text>
<text x="451.70" y="676.30" font-size="7.9" text-anchor="middle">Organoid #GC36</text>
<line x1="378.90" y1="681.00" x2="520.00" y2="681.00" stroke="#333" stroke-width="0.9"/>
<text x="394.90" y="691.00" font-size="7.95" text-anchor="middle">Vehicle</text>
<text x="430.40" y="691.00" font-size="7.95" text-anchor="middle">TGF</text>
<text x="465.85" y="691.00" font-size="7.95" text-anchor="middle">TGF&amp;Gal</text>
<text x="501.35" y="691.00" font-size="7.95" text-anchor="middle">TGF&amp;Vac</text>
<text x="377.30" y="714.05" font-size="8.0" text-anchor="end">Day 0</text>
<text x="377.30" y="749.00" font-size="8.0" text-anchor="end">Day 2</text>
<text x="377.30" y="783.95" font-size="8.0" text-anchor="end">Day 4</text>
<g clip-path="url(#c42)">
<rect x="378.90" y="695.50" width="32.00" height="31.50" fill="#a9b0b0"/>
<rect x="378.90" y="695.50" width="32.00" height="31.50" fill="#000" filter="url(#motS)" opacity="0.45"/>
<rect x="378.90" y="695.50" width="32.00" height="31.50" fill="#000" filter="url(#motSL)" opacity="0.4"/>
<circle cx="386.90" cy="700.23" r="2.00" fill="none" stroke="#e8e8e0" stroke-width="1.0"/>
<circle cx="386.90" cy="700.23" r="2.80" fill="none" stroke="#707070" stroke-width="0.4"/>
<circle cx="388.50" cy="711.25" r="1.80" fill="none" stroke="#e8e8e0" stroke-width="1.0"/>
<circle cx="388.50" cy="711.25" r="2.60" fill="none" stroke="#707070" stroke-width="0.4"/>
<circle cx="401.30" cy="712.83" r="2.00" fill="none" stroke="#e8e8e0" stroke-width="1.0"/>
<circle cx="401.30" cy="712.83" r="2.80" fill="none" stroke="#707070" stroke-width="0.4"/>
<circle cx="404.50" cy="719.12" r="1.50" fill="#8a8a86" stroke="#4a4a48" stroke-width="0.6"/>
<circle cx="404.20" cy="718.83" r="0.52" fill="#d8d8d4"/>
<line x1="396.90" y1="725.40" x2="408.90" y2="725.40" stroke="#2a2a2a" stroke-width="1.2"/>
</g>
<g clip-path="url(#c43)">
<rect x="414.40" y="695.50" width="32.00" height="31.50" fill="#aeb4b4"/>
<rect x="414.40" y="695.50" width="32.00" height="31.50" fill="#000" filter="url(#motS)" opacity="0.45"/>
<rect x="414.40" y="695.50" width="32.00" height="31.50" fill="#000" filter="url(#motSL)" opacity="0.4"/>
<circle cx="420.80" cy="706.52" r="1.50" fill="none" stroke="#e8e8e0" stroke-width="1.0"/>
<circle cx="420.80" cy="706.52" r="2.30" fill="none" stroke="#707070" stroke-width="0.4"/>
<circle cx="433.60" cy="704.95" r="1.80" fill="none" stroke="#e8e8e0" stroke-width="1.0"/>
<circle cx="433.60" cy="704.95" r="2.60" fill="none" stroke="#707070" stroke-width="0.4"/>
<circle cx="436.80" cy="714.40" r="1.50" fill="none" stroke="#e8e8e0" stroke-width="1.0"/>
<circle cx="436.80" cy="714.40" r="2.30" fill="none" stroke="#707070" stroke-width="0.4"/>
<circle cx="425.60" cy="717.55" r="1.50" fill="#8a8a86" stroke="#4a4a48" stroke-width="0.6"/>
<circle cx="425.30" cy="717.25" r="0.52" fill="#d8d8d4"/>
<line x1="432.40" y1="725.40" x2="444.40" y2="725.40" stroke="#2a2a2a" stroke-width="1.2"/>
</g>
<g clip-path="url(#c44)">
<rect x="449.80" y="695.50" width="32.10" height="31.50" fill="#a8aeae"/>
<rect x="449.80" y="695.50" width="32.10" height="31.50" fill="#000" filter="url(#motS)" opacity="0.45"/>
<rect x="449.80" y="695.50" width="32.10" height="31.50" fill="#000" filter="url(#motSL)" opacity="0.4"/>
<circle cx="454.62" cy="704.95" r="1.20" fill="#8a8a86" stroke="#4a4a48" stroke-width="0.6"/>
<circle cx="454.38" cy="704.71" r="0.42" fill="#d8d8d4"/>
<circle cx="459.43" cy="711.25" r="1.30" fill="#8a8a86" stroke="#4a4a48" stroke-width="0.6"/>
<circle cx="459.17" cy="710.99" r="0.45" fill="#d8d8d4"/>
<circle cx="462.64" cy="719.12" r="1.80" fill="none" stroke="#3a3a38" stroke-width="0.7"/>
<circle cx="462.64" cy="719.12" r="1.00" fill="none" stroke="#eaeae4" stroke-width="0.5"/>
<circle cx="475.48" cy="706.52" r="1.30" fill="#8a8a86" stroke="#4a4a48" stroke-width="0.6"/>
<circle cx="475.22" cy="706.26" r="0.45" fill="#d8d8d4"/>
<circle cx="472.27" cy="719.12" r="1.00" fill="#8a8a86" stroke="#4a4a48" stroke-width="0.6"/>
<circle cx="472.07" cy="718.92" r="0.35" fill="#d8d8d4"/>
<line x1="467.90" y1="725.40" x2="479.90" y2="725.40" stroke="#2a2a2a" stroke-width="1.2"/>
</g>
<g clip-path="url(#c45)">
<rect x="485.30" y="695.50" width="32.10" height="31.50" fill="#aab0b0"/>
<rect x="485.30" y="695.50" width="32.10" height="31.50" fill="#000" filter="url(#motS)" opacity="0.45"/>
<rect x="485.30" y="695.50" width="32.10" height="31.50" fill="#000" filter="url(#motSL)" opacity="0.4"/>
<circle cx="491.72" cy="701.80" r="1.20" fill="#8a8a86" stroke="#4a4a48" stroke-width="0.6"/>
<circle cx="491.48" cy="701.56" r="0.42" fill="#d8d8d4"/>
<circle cx="501.35" cy="704.95" r="1.50" fill="none" stroke="#e8e8e0" stroke-width="1.0"/>
<circle cx="501.35" cy="704.95" r="2.30" fill="none" stroke="#707070" stroke-width="0.4"/>
<circle cx="507.77" cy="712.83" r="1.30" fill="#8a8a86" stroke="#4a4a48" stroke-width="0.6"/>
<circle cx="507.51" cy="712.57" r="0.45" fill="#d8d8d4"/>
<circle cx="494.93" cy="717.55" r="1.20" fill="#8a8a86" stroke="#4a4a48" stroke-width="0.6"/>
<circle cx="494.69" cy="717.31" r="0.42" fill="#d8d8d4"/>
<line x1="503.40" y1="725.40" x2="515.40" y2="725.40" stroke="#2a2a2a" stroke-width="1.2"/>
</g>
<g clip-path="url(#c46)">
<rect x="378.90" y="730.40" width="32.00" height="31.60" fill="#a6adad"/>
<rect x="378.90" y="730.40" width="32.00" height="31.60" fill="#000" filter="url(#motS)" opacity="0.45"/>
<rect x="378.90" y="730.40" width="32.00" height="31.60" fill="#000" filter="url(#motSL)" opacity="0.4"/>
<ellipse cx="404.5" cy="741.5" rx="6.4" ry="6.3" fill="#b8a080" opacity="0.55"/>
<circle cx="394.90" cy="739.88" r="4.20" fill="none" stroke="#3a3a38" stroke-width="0.7"/>
<circle cx="394.90" cy="739.88" r="3.40" fill="none" stroke="#eaeae4" stroke-width="0.5"/>
<circle cx="404.50" cy="741.46" r="3.50" fill="#b0b0a8" stroke="#e8e8e4" stroke-width="0.8"/>
<circle cx="403.77" cy="742.01" r="0.55" fill="#f0f0ea"/>
<circle cx="405.96" cy="743.07" r="0.55" fill="#707068"/>
<circle cx="406.35" cy="742.92" r="0.55" fill="#707068"/>
<circle cx="405.32" cy="741.29" r="0.55" fill="#f0f0ea"/>
<circle cx="401.65" cy="742.18" r="0.55" fill="#707068"/>
<circle cx="405.05" cy="740.37" r="0.55" fill="#f0f0ea"/>
<circle cx="404.91" cy="744.33" r="0.55" fill="#f0f0ea"/>
<circle cx="405.33" cy="742.98" r="0.55" fill="#707068"/>
<circle cx="405.35" cy="744.41" r="0.55" fill="#707068"/>
<circle cx="406.00" cy="743.15" r="0.55" fill="#f0f0ea"/>
<circle cx="404.67" cy="740.36" r="0.55" fill="#707068"/>
<circle cx="391.70" cy="754.10" r="3.30" fill="none" stroke="#3a3a38" stroke-width="0.7"/>
<circle cx="391.70" cy="754.10" r="2.50" fill="none" stroke="#eaeae4" stroke-width="0.5"/>
<circle cx="382.10" cy="752.52" r="2.50" fill="none" stroke="#e8e8e0" stroke-width="1.0"/>
<circle cx="382.10" cy="752.52" r="3.30" fill="none" stroke="#707070" stroke-width="0.4"/>
<line x1="396.90" y1="760.40" x2="408.90" y2="760.40" stroke="#2a2a2a" stroke-width="1.2"/>
</g>
<g clip-path="url(#c47)">
<rect x="414.40" y="730.40" width="32.00" height="31.60" fill="#a9b0b0"/>
<rect x="414.40" y="730.40" width="32.00" height="31.60" fill="#000" filter="url(#motS)" opacity="0.45"/>
<rect x="414.40" y="730.40" width="32.00" height="31.60" fill="#000" filter="url(#motSL)" opacity="0.4"/>
<circle cx="424.00" cy="739.88" r="3.50" fill="none" stroke="#e8e8e0" stroke-width="1.0"/>
<circle cx="424.00" cy="739.88" r="4.30" fill="none" stroke="#707070" stroke-width="0.4"/>
<circle cx="436.80" cy="749.36" r="3.50" fill="none" stroke="#e8e8e0" stroke-width="1.0"/>
<circle cx="436.80" cy="749.36" r="4.30" fill="none" stroke="#707070" stroke-width="0.4"/>
<circle cx="420.80" cy="754.10" r="2.00" fill="none" stroke="#e8e8e0" stroke-width="1.0"/>
<circle cx="420.80" cy="754.10" r="2.80" fill="none" stroke="#707070" stroke-width="0.4"/>
<line x1="432.40" y1="760.40" x2="444.40" y2="760.40" stroke="#2a2a2a" stroke-width="1.2"/>
</g>
<g clip-path="url(#c48)">
<rect x="449.80" y="730.40" width="32.10" height="31.60" fill="#abb1b0"/>
<rect x="449.80" y="730.40" width="32.10" height="31.60" fill="#000" filter="url(#motS)" opacity="0.45"/>
<rect x="449.80" y="730.40" width="32.10" height="31.60" fill="#000" filter="url(#motSL)" opacity="0.4"/>
<circle cx="457.82" cy="739.88" r="2.50" fill="none" stroke="#e8e8e0" stroke-width="1.0"/>
<circle cx="457.82" cy="739.88" r="3.30" fill="none" stroke="#707070" stroke-width="0.4"/>
<circle cx="464.25" cy="739.88" r="2.50" fill="none" stroke="#e8e8e0" stroke-width="1.0"/>
<circle cx="464.25" cy="739.88" r="3.30" fill="none" stroke="#707070" stroke-width="0.4"/>
<circle cx="469.06" cy="747.78" r="4.00" fill="#b0b0a8" stroke="#e8e8e4" stroke-width="0.8"/>
<circle cx="471.03" cy="747.89" r="0.55" fill="#f0f0ea"/>
<circle cx="470.91" cy="744.94" r="0.55" fill="#f0f0ea"/>
<circle cx="469.79" cy="749.45" r="0.55" fill="#f0f0ea"/>
<circle cx="468.14" cy="746.51" r="0.55" fill="#f0f0ea"/>
<circle cx="468.61" cy="750.69" r="0.55" fill="#707068"/>
<circle cx="467.83" cy="747.89" r="0.55" fill="#707068"/>
<circle cx="471.99" cy="749.05" r="0.55" fill="#707068"/>
<circle cx="468.60" cy="748.82" r="0.55" fill="#f0f0ea"/>
<circle cx="467.51" cy="747.70" r="0.55" fill="#f0f0ea"/>
<circle cx="466.52" cy="748.17" r="0.55" fill="#f0f0ea"/>
<circle cx="465.84" cy="746.55" r="0.55" fill="#f0f0ea"/>
<circle cx="470.82" cy="750.34" r="0.55" fill="#707068"/>
<circle cx="470.36" cy="745.05" r="0.55" fill="#f0f0ea"/>
<circle cx="470.29" cy="747.75" r="0.55" fill="#f0f0ea"/>
<circle cx="477.08" cy="755.68" r="2.50" fill="none" stroke="#e8e8e0" stroke-width="1.0"/>
<circle cx="477.08" cy="755.68" r="3.30" fill="none" stroke="#707070" stroke-width="0.4"/>
<line x1="467.90" y1="760.40" x2="479.90" y2="760.40" stroke="#2a2a2a" stroke-width="1.2"/>
</g>
<g clip-path="url(#c49)">
<rect x="485.30" y="730.40" width="32.10" height="31.60" fill="#b0b4b0"/>
<rect x="485.30" y="730.40" width="32.10" height="31.60" fill="#000" filter="url(#motS)" opacity="0.45"/>
<rect x="485.30" y="730.40" width="32.10" height="31.60" fill="#000" filter="url(#motSL)" opacity="0.4"/>
<circle cx="499.75" cy="741.46" r="7.00" fill="none" stroke="#e8e8e0" stroke-width="1.0"/>
<circle cx="499.75" cy="741.46" r="7.80" fill="none" stroke="#707070" stroke-width="0.4"/>
<circle cx="502.95" cy="755.68" r="4.50" fill="none" stroke="#e8e8e0" stroke-width="1.0"/>
<circle cx="502.95" cy="755.68" r="5.30" fill="none" stroke="#707070" stroke-width="0.4"/>
<line x1="503.40" y1="760.40" x2="515.40" y2="760.40" stroke="#2a2a2a" stroke-width="1.2"/>
</g>
<g clip-path="url(#c50)">
<rect x="378.90" y="765.10" width="32.00" height="32.10" fill="#a8aeae"/>
<rect x="378.90" y="765.10" width="32.00" height="32.10" fill="#000" filter="url(#motS)" opacity="0.45"/>
<rect x="378.90" y="765.10" width="32.00" height="32.10" fill="#000" filter="url(#motSL)" opacity="0.4"/>
<circle cx="396.50" cy="777.94" r="8.00" fill="none" stroke="#e8e8e0" stroke-width="1.0"/>
<circle cx="396.50" cy="777.94" r="8.80" fill="none" stroke="#707070" stroke-width="0.4"/>
<circle cx="385.30" cy="790.78" r="3.50" fill="#b0b0a8" stroke="#e8e8e4" stroke-width="0.8"/>
<circle cx="384.80" cy="793.50" r="0.55" fill="#f0f0ea"/>
<circle cx="383.19" cy="789.75" r="0.55" fill="#707068"/>
<circle cx="385.19" cy="793.36" r="0.55" fill="#707068"/>
<circle cx="384.56" cy="791.87" r="0.55" fill="#f0f0ea"/>
<circle cx="384.40" cy="793.54" r="0.55" fill="#f0f0ea"/>
<circle cx="386.90" cy="790.13" r="0.55" fill="#707068"/>
<circle cx="384.18" cy="789.80" r="0.55" fill="#f0f0ea"/>
<circle cx="383.82" cy="790.28" r="0.55" fill="#707068"/>
<circle cx="384.27" cy="791.85" r="0.55" fill="#f0f0ea"/>
<circle cx="385.97" cy="789.50" r="0.55" fill="#f0f0ea"/>
<circle cx="383.85" cy="788.35" r="0.55" fill="#f0f0ea"/>
<line x1="396.90" y1="795.60" x2="408.90" y2="795.60" stroke="#2a2a2a" stroke-width="1.2"/>
</g>
<g clip-path="url(#c51)">
<rect x="414.40" y="765.10" width="32.00" height="32.10" fill="#abb0ae"/>
<rect x="414.40" y="765.10" width="32.00" height="32.10" fill="#000" filter="url(#motS)" opacity="0.45"/>
<rect x="414.40" y="765.10" width="32.00" height="32.10" fill="#000" filter="url(#motSL)" opacity="0.4"/>
<ellipse cx="417.6" cy="766.7" rx="14.4" ry="11.2" fill="#b8a070" opacity="0.55"/>
<circle cx="432.00" cy="779.55" r="6.00" fill="none" stroke="#e8e8e0" stroke-width="1.0"/>
<circle cx="432.00" cy="779.55" r="6.80" fill="none" stroke="#707070" stroke-width="0.4"/>
<circle cx="420.80" cy="771.52" r="3.00" fill="#b0b0a8" stroke="#e8e8e4" stroke-width="0.8"/>
<circle cx="420.42" cy="771.38" r="0.55" fill="#707068"/>
<circle cx="422.65" cy="772.72" r="0.55" fill="#f0f0ea"/>
<circle cx="419.30" cy="773.22" r="0.55" fill="#707068"/>
<circle cx="420.29" cy="772.61" r="0.55" fill="#f0f0ea"/>
<circle cx="418.72" cy="772.84" r="0.55" fill="#f0f0ea"/>
<circle cx="421.77" cy="771.69" r="0.55" fill="#707068"/>
<circle cx="419.52" cy="769.77" r="0.55" fill="#707068"/>
<circle cx="422.61" cy="770.48" r="0.55" fill="#f0f0ea"/>
<line x1="432.40" y1="795.60" x2="444.40" y2="795.60" stroke="#2a2a2a" stroke-width="1.2"/>
</g>
<g clip-path="url(#c52)">
<rect x="449.80" y="765.10" width="32.10" height="32.10" fill="#b0b4b2"/>
<rect x="449.80" y="765.10" width="32.10" height="32.10" fill="#000" filter="url(#motS)" opacity="0.45"/>
<rect x="449.80" y="765.10" width="32.10" height="32.10" fill="#000" filter="url(#motSL)" opacity="0.4"/>
<circle cx="465.85" cy="782.75" r="11.00" fill="none" stroke="#e8e8e0" stroke-width="1.0"/>
<circle cx="465.85" cy="782.75" r="11.80" fill="none" stroke="#707070" stroke-width="0.4"/>
<circle cx="454.62" cy="774.73" r="2.50" fill="none" stroke="#e8e8e0" stroke-width="1.0"/>
<circle cx="454.62" cy="774.73" r="3.30" fill="none" stroke="#707070" stroke-width="0.4"/>
<circle cx="456.22" cy="784.36" r="2.00" fill="none" stroke="#e8e8e0" stroke-width="1.0"/>
<circle cx="456.22" cy="784.36" r="2.80" fill="none" stroke="#707070" stroke-width="0.4"/>
<line x1="467.90" y1="795.60" x2="479.90" y2="795.60" stroke="#2a2a2a" stroke-width="1.2"/>
</g>
<g clip-path="url(#c53)">
<rect x="485.30" y="765.10" width="32.10" height="32.10" fill="#aeb0aa"/>
<rect x="485.30" y="765.10" width="32.10" height="32.10" fill="#000" filter="url(#motS)" opacity="0.45"/>
<rect x="485.30" y="765.10" width="32.10" height="32.10" fill="#000" filter="url(#motSL)" opacity="0.4"/>
<ellipse cx="511.0" cy="781.2" rx="9.6" ry="14.4" fill="#c0a060" opacity="0.55"/>
<circle cx="498.14" cy="782.75" r="9.00" fill="none" stroke="#3a3a38" stroke-width="0.7"/>
<circle cx="498.14" cy="782.75" r="8.20" fill="none" stroke="#eaeae4" stroke-width="0.5"/>
<circle cx="509.38" cy="779.55" r="6.00" fill="#b0b0a8" stroke="#e8e8e4" stroke-width="0.8"/>
<circle cx="505.13" cy="777.71" r="0.55" fill="#f0f0ea"/>
<circle cx="507.37" cy="784.29" r="0.55" fill="#707068"/>
<circle cx="505.66" cy="777.82" r="0.55" fill="#f0f0ea"/>
<circle cx="506.35" cy="781.31" r="0.55" fill="#f0f0ea"/>
<circle cx="506.35" cy="782.83" r="0.55" fill="#f0f0ea"/>
<circle cx="513.80" cy="778.53" r="0.55" fill="#f0f0ea"/>
<circle cx="510.94" cy="778.43" r="0.55" fill="#f0f0ea"/>
<circle cx="511.13" cy="778.31" r="0.55" fill="#707068"/>
<circle cx="506.84" cy="776.60" r="0.55" fill="#f0f0ea"/>
<circle cx="507.75" cy="776.90" r="0.55" fill="#f0f0ea"/>
<circle cx="509.38" cy="783.24" r="0.55" fill="#f0f0ea"/>
<circle cx="507.79" cy="777.09" r="0.55" fill="#f0f0ea"/>
<circle cx="508.81" cy="781.83" r="0.55" fill="#f0f0ea"/>
<circle cx="506.35" cy="777.89" r="0.55" fill="#707068"/>
<circle cx="512.47" cy="775.26" r="0.55" fill="#707068"/>
<circle cx="511.75" cy="776.93" r="0.55" fill="#707068"/>
<circle cx="509.43" cy="782.33" r="0.55" fill="#707068"/>
<circle cx="509.16" cy="776.00" r="0.55" fill="#f0f0ea"/>
<circle cx="504.94" cy="779.63" r="0.55" fill="#f0f0ea"/>
<circle cx="507.50" cy="782.79" r="0.55" fill="#707068"/>
<circle cx="509.94" cy="775.54" r="0.55" fill="#707068"/>
<circle cx="509.02" cy="776.76" r="0.55" fill="#707068"/>
<circle cx="507.78" cy="778.54" r="0.55" fill="#f0f0ea"/>
<circle cx="511.72" cy="775.06" r="0.55" fill="#f0f0ea"/>
<circle cx="506.41" cy="781.79" r="0.55" fill="#f0f0ea"/>
<circle cx="509.27" cy="782.29" r="0.55" fill="#f0f0ea"/>
<circle cx="510.63" cy="774.65" r="0.55" fill="#f0f0ea"/>
<circle cx="510.22" cy="783.43" r="0.55" fill="#f0f0ea"/>
<circle cx="506.79" cy="780.40" r="0.55" fill="#707068"/>
<circle cx="507.68" cy="782.31" r="0.55" fill="#707068"/>
<circle cx="510.54" cy="776.67" r="0.55" fill="#f0f0ea"/>
<circle cx="508.48" cy="778.51" r="0.55" fill="#707068"/>
<line x1="503.40" y1="795.60" x2="515.40" y2="795.60" stroke="#2a2a2a" stroke-width="1.2"/>
</g>
<text x="518.20" y="805.00" font-size="7.2" text-anchor="end">100 μm</text>
<line x1="556.50" y1="695.00" x2="556.50" y2="787.80" stroke="#222" stroke-width="0.9"/>
<line x1="556.05" y1="787.50" x2="651.10" y2="787.50" stroke="#222" stroke-width="0.9"/>
<line x1="554.70" y1="783.20" x2="556.50" y2="783.20" stroke="#222" stroke-width="0.7"/>
<text x="554.20" y="785.90" font-size="7.6" text-anchor="end">0</text>
<line x1="554.70" y1="752.95" x2="556.50" y2="752.95" stroke="#222" stroke-width="0.7"/>
<text x="554.20" y="755.65" font-size="7.6" text-anchor="end">100</text>
<line x1="554.70" y1="722.70" x2="556.50" y2="722.70" stroke="#222" stroke-width="0.7"/>
<text x="554.20" y="725.40" font-size="7.6" text-anchor="end">200</text>
<line x1="562.40" y1="787.50" x2="562.40" y2="789.30" stroke="#222" stroke-width="0.7"/>
<text x="562.40" y="794.20" font-size="7.6" text-anchor="middle">0</text>
<line x1="603.86" y1="787.50" x2="603.86" y2="789.30" stroke="#222" stroke-width="0.7"/>
<text x="603.86" y="794.20" font-size="7.6" text-anchor="middle">2</text>
<line x1="645.32" y1="787.50" x2="645.32" y2="789.30" stroke="#222" stroke-width="0.7"/>
<text x="645.32" y="794.20" font-size="7.6" text-anchor="middle">4</text>
<text x="603.50" y="802.70" font-size="7.6" text-anchor="middle">Time (days)</text>
<text x="605.60" y="691.20" font-size="7.1" text-anchor="middle">Organoid #GC36</text>
<text x="536.5" y="743.0" font-size="7.6" text-anchor="middle" fill="#1a1a1a" transform="rotate(-90 536.5 743.0)">Organoid diameter (μm)</text>
<polyline points="562.40,771.71 603.86,747.81 645.32,736.01" fill="none" stroke="#30609a" stroke-width="1.1"/>
<path d="M560.9,771.7 L562.4,770.2 L563.9,771.7 L562.4,773.2 Z" fill="#30609a"/>
<line x1="603.86" y1="750.23" x2="603.86" y2="745.39" stroke="#30609a" stroke-width="0.9"/>
<line x1="602.26" y1="745.39" x2="605.46" y2="745.39" stroke="#30609a" stroke-width="0.9"/>
<line x1="602.26" y1="750.23" x2="605.46" y2="750.23" stroke="#30609a" stroke-width="0.9"/>
<path d="M602.4,747.8 L603.9,746.3 L605.4,747.8 L603.9,749.3 Z" fill="#30609a"/>
<line x1="645.32" y1="739.64" x2="645.32" y2="732.38" stroke="#30609a" stroke-width="0.9"/>
<line x1="643.72" y1="732.38" x2="646.92" y2="732.38" stroke="#30609a" stroke-width="0.9"/>
<line x1="643.72" y1="739.64" x2="646.92" y2="739.64" stroke="#30609a" stroke-width="0.9"/>
<path d="M643.8,736.0 L645.3,734.5 L646.8,736.0 L645.3,737.5 Z" fill="#30609a"/>
<polyline points="562.40,772.92 603.86,756.58 645.32,752.95" fill="none" stroke="#f8696b" stroke-width="1.1"/>
<path d="M560.9,772.9 L562.4,771.4 L563.9,772.9 L562.4,774.4 Z" fill="#f8696b"/>
<line x1="603.86" y1="757.49" x2="603.86" y2="755.67" stroke="#f8696b" stroke-width="0.9"/>
<line x1="602.26" y1="755.67" x2="605.46" y2="755.67" stroke="#f8696b" stroke-width="0.9"/>
<line x1="602.26" y1="757.49" x2="605.46" y2="757.49" stroke="#f8696b" stroke-width="0.9"/>
<path d="M602.4,756.6 L603.9,755.1 L605.4,756.6 L603.9,758.1 Z" fill="#f8696b"/>
<line x1="645.32" y1="754.46" x2="645.32" y2="751.44" stroke="#f8696b" stroke-width="0.9"/>
<line x1="643.72" y1="751.44" x2="646.92" y2="751.44" stroke="#f8696b" stroke-width="0.9"/>
<line x1="643.72" y1="754.46" x2="646.92" y2="754.46" stroke="#f8696b" stroke-width="0.9"/>
<path d="M643.8,753.0 L645.3,751.5 L646.8,753.0 L645.3,754.5 Z" fill="#f8696b"/>
<polyline points="562.40,770.50 603.86,741.76 645.32,717.26" fill="none" stroke="#8dc63f" stroke-width="1.1"/>
<path d="M560.9,770.5 L562.4,769.0 L563.9,770.5 L562.4,772.0 Z" fill="#8dc63f"/>
<line x1="603.86" y1="744.18" x2="603.86" y2="739.34" stroke="#8dc63f" stroke-width="0.9"/>
<line x1="602.26" y1="739.34" x2="605.46" y2="739.34" stroke="#8dc63f" stroke-width="0.9"/>
<line x1="602.26" y1="744.18" x2="605.46" y2="744.18" stroke="#8dc63f" stroke-width="0.9"/>
<path d="M602.4,741.8 L603.9,740.3 L605.4,741.8 L603.9,743.3 Z" fill="#8dc63f"/>
<line x1="645.32" y1="725.73" x2="645.32" y2="708.79" stroke="#8dc63f" stroke-width="0.9"/>
<line x1="643.72" y1="708.79" x2="646.92" y2="708.79" stroke="#8dc63f" stroke-width="0.9"/>
<line x1="643.72" y1="725.73" x2="646.92" y2="725.73" stroke="#8dc63f" stroke-width="0.9"/>
<path d="M643.8,717.3 L645.3,715.8 L646.8,717.3 L645.3,718.8 Z" fill="#8dc63f"/>
<polyline points="562.40,769.59 603.86,737.83 645.32,722.70" fill="none" stroke="#f9c22e" stroke-width="1.1"/>
<path d="M560.9,769.6 L562.4,768.1 L563.9,769.6 L562.4,771.1 Z" fill="#f9c22e"/>
<line x1="603.86" y1="741.46" x2="603.86" y2="734.20" stroke="#f9c22e" stroke-width="0.9"/>
<line x1="602.26" y1="734.20" x2="605.46" y2="734.20" stroke="#f9c22e" stroke-width="0.9"/>
<line x1="602.26" y1="741.46" x2="605.46" y2="741.46" stroke="#f9c22e" stroke-width="0.9"/>
<path d="M602.4,737.8 L603.9,736.3 L605.4,737.8 L603.9,739.3 Z" fill="#f9c22e"/>
<line x1="645.32" y1="725.73" x2="645.32" y2="719.68" stroke="#f9c22e" stroke-width="0.9"/>
<line x1="643.72" y1="719.68" x2="646.92" y2="719.68" stroke="#f9c22e" stroke-width="0.9"/>
<line x1="643.72" y1="725.73" x2="646.92" y2="725.73" stroke="#f9c22e" stroke-width="0.9"/>
<path d="M643.8,722.7 L645.3,721.2 L646.8,722.7 L645.3,724.2 Z" fill="#f9c22e"/>
<line x1="559.50" y1="697.60" x2="564.70" y2="697.60" stroke="#30609a" stroke-width="1.1"/>
<path d="M560.6,697.6 L562.1,696.1 L563.6,697.6 L562.1,699.1 Z" fill="#30609a"/>
<text x="567.50" y="700.20" font-size="7.0">Vehicle</text>
<line x1="559.50" y1="704.93" x2="564.70" y2="704.93" stroke="#f8696b" stroke-width="1.1"/>
<path d="M560.6,704.9 L562.1,703.4 L563.6,704.9 L562.1,706.4 Z" fill="#f8696b"/>
<text x="567.50" y="707.53" font-size="7.0">TGF</text>
<line x1="559.50" y1="712.26" x2="564.70" y2="712.26" stroke="#8dc63f" stroke-width="1.1"/>
<path d="M560.6,712.3 L562.1,710.8 L563.6,712.3 L562.1,713.8 Z" fill="#8dc63f"/>
<text x="567.50" y="714.86" font-size="7.0">TGF&amp;Gal</text>
<line x1="559.50" y1="719.59" x2="564.70" y2="719.59" stroke="#f9c22e" stroke-width="1.1"/>
<path d="M560.6,719.6 L562.1,718.1 L563.6,719.6 L562.1,721.1 Z" fill="#f9c22e"/>
<text x="567.50" y="722.19" font-size="7.0">TGF&amp;Vac</text>
<polyline points="648.80,736.00 650.40,736.00 650.40,753.20 648.80,753.20" fill="none" stroke="#333" stroke-width="0.7"/>
<text x="653.40" y="746.50" font-size="6.6" text-anchor="middle" transform="rotate(90 653.40 746.50)">P = 0.0127</text>
<polyline points="658.50,723.40 660.10,723.40 660.10,753.20 658.50,753.20" fill="none" stroke="#333" stroke-width="0.7"/>
<text x="662.30" y="738.50" font-size="6.6" text-anchor="middle" transform="rotate(90 662.30 738.50)">P = 0.0003</text>
<polyline points="668.50,717.10 670.10,717.10 670.10,753.20 668.50,753.20" fill="none" stroke="#333" stroke-width="0.7"/>
<text x="672.40" y="734.00" font-size="6.6" text-anchor="middle" transform="rotate(90 672.40 734.00)">P &lt; 0.0001</text></svg></body></html>
